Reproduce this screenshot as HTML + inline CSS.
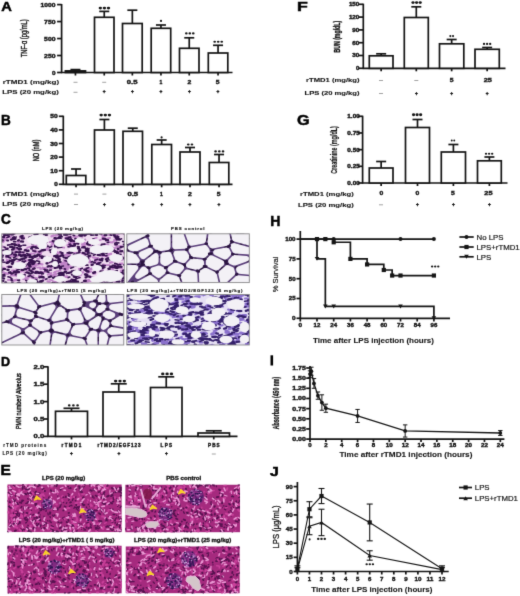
<!DOCTYPE html>
<html><head><meta charset="utf-8"><title>Figure</title>
<style>html,body{margin:0;padding:0;background:#fff;width:520px;height:596px;overflow:hidden}
svg{display:block;font-family:"Liberation Sans",sans-serif}</style></head>
<body><svg width="520" height="596" viewBox="0 0 520 596" font-family="&quot;Liberation Sans&quot;, sans-serif"><defs><filter id="cv" x="0" y="0" width="520" height="596" filterUnits="userSpaceOnUse" color-interpolation-filters="sRGB"><feConvolveMatrix order="3" kernelMatrix="0.0113 0.0838 0.0113 0.0838 0.6193 0.0838 0.0113 0.0838 0.0113" edgeMode="duplicate" preserveAlpha="true"/></filter><clipPath id="c1"><rect x="1.80" y="233.80" width="122.50" height="49.20"/></clipPath><clipPath id="c2"><rect x="126.80" y="233.80" width="122.50" height="48.80"/></clipPath><clipPath id="c3"><rect x="1.80" y="294.50" width="122.00" height="50.50"/></clipPath><clipPath id="c4"><rect x="126.80" y="294.50" width="122.50" height="50.50"/></clipPath><clipPath id="c5"><rect x="7.30" y="484.30" width="114.50" height="47.90"/></clipPath><clipPath id="c6"><rect x="125.20" y="484.50" width="114.80" height="47.90"/></clipPath><clipPath id="c7"><rect x="7.30" y="545.50" width="114.50" height="48.10"/></clipPath><clipPath id="c8"><rect x="125.50" y="546.30" width="114.30" height="47.10"/></clipPath></defs><g filter="url(#cv)"><rect width="520" height="596" fill="#ffffff"/><text x="6.60" y="10.70" font-size="13.472222222222221" font-weight="bold" text-anchor="middle" fill="#000" textLength="10.60" lengthAdjust="spacingAndGlyphs" stroke="#000" stroke-width="0.5" >A</text>
<line x1="61.60" y1="4.00" x2="61.60" y2="73.10" stroke="#151515" stroke-width="1.7"/>
<line x1="61.00" y1="72.50" x2="232.50" y2="72.50" stroke="#151515" stroke-width="1.7"/>
<line x1="57.10" y1="4.60" x2="61.60" y2="4.60" stroke="#151515" stroke-width="1.7"/>
<text x="48.10" y="6.62" font-size="5.6" font-weight="bold" text-anchor="middle" fill="#151515" textLength="15.00" lengthAdjust="spacingAndGlyphs" stroke="#151515" stroke-width="0.38" >1000</text>
<line x1="57.10" y1="21.57" x2="61.60" y2="21.57" stroke="#151515" stroke-width="1.7"/>
<text x="49.85" y="23.59" font-size="5.6" font-weight="bold" text-anchor="middle" fill="#151515" textLength="11.50" lengthAdjust="spacingAndGlyphs" stroke="#151515" stroke-width="0.38" >750</text>
<line x1="57.10" y1="38.55" x2="61.60" y2="38.55" stroke="#151515" stroke-width="1.7"/>
<text x="49.85" y="40.57" font-size="5.6" font-weight="bold" text-anchor="middle" fill="#151515" textLength="11.50" lengthAdjust="spacingAndGlyphs" stroke="#151515" stroke-width="0.38" >500</text>
<line x1="57.10" y1="55.52" x2="61.60" y2="55.52" stroke="#151515" stroke-width="1.7"/>
<text x="49.85" y="57.54" font-size="5.6" font-weight="bold" text-anchor="middle" fill="#151515" textLength="11.50" lengthAdjust="spacingAndGlyphs" stroke="#151515" stroke-width="0.38" >250</text>
<line x1="57.10" y1="72.50" x2="61.60" y2="72.50" stroke="#151515" stroke-width="1.7"/>
<text x="53.80" y="74.52" font-size="5.6" font-weight="bold" text-anchor="middle" fill="#151515" textLength="3.60" lengthAdjust="spacingAndGlyphs" stroke="#151515" stroke-width="0.38" >0</text>
<line x1="75.45" y1="70.90" x2="75.45" y2="69.60" stroke="#151515" stroke-width="1.7"/>
<line x1="70.45" y1="69.60" x2="80.45" y2="69.60" stroke="#151515" stroke-width="1.7"/>
<rect x="65.40" y="70.90" width="20.10" height="1.60" fill="#333" stroke="#151515" stroke-width="1.7"/>
<line x1="75.45" y1="72.50" x2="75.45" y2="75.50" stroke="#151515" stroke-width="1.7"/>
<line x1="104.25" y1="17.30" x2="104.25" y2="11.40" stroke="#151515" stroke-width="1.7"/>
<line x1="99.25" y1="11.40" x2="109.25" y2="11.40" stroke="#151515" stroke-width="1.7"/>
<rect x="94.50" y="17.30" width="19.50" height="55.20" fill="#fff" stroke="#151515" stroke-width="1.7"/>
<line x1="104.25" y1="72.50" x2="104.25" y2="75.50" stroke="#151515" stroke-width="1.7"/>
<line x1="132.35" y1="23.50" x2="132.35" y2="10.20" stroke="#151515" stroke-width="1.7"/>
<line x1="127.35" y1="10.20" x2="137.35" y2="10.20" stroke="#151515" stroke-width="1.7"/>
<rect x="122.50" y="23.50" width="19.70" height="49.00" fill="#fff" stroke="#151515" stroke-width="1.7"/>
<line x1="132.35" y1="72.50" x2="132.35" y2="75.50" stroke="#151515" stroke-width="1.7"/>
<line x1="160.95" y1="28.30" x2="160.95" y2="25.00" stroke="#151515" stroke-width="1.7"/>
<line x1="155.95" y1="25.00" x2="165.95" y2="25.00" stroke="#151515" stroke-width="1.7"/>
<rect x="151.20" y="28.30" width="19.50" height="44.20" fill="#fff" stroke="#151515" stroke-width="1.7"/>
<line x1="160.95" y1="72.50" x2="160.95" y2="75.50" stroke="#151515" stroke-width="1.7"/>
<line x1="189.25" y1="48.30" x2="189.25" y2="37.80" stroke="#151515" stroke-width="1.7"/>
<line x1="184.25" y1="37.80" x2="194.25" y2="37.80" stroke="#151515" stroke-width="1.7"/>
<rect x="179.50" y="48.30" width="19.50" height="24.20" fill="#fff" stroke="#151515" stroke-width="1.7"/>
<line x1="189.25" y1="72.50" x2="189.25" y2="75.50" stroke="#151515" stroke-width="1.7"/>
<line x1="218.05" y1="53.00" x2="218.05" y2="45.30" stroke="#151515" stroke-width="1.7"/>
<line x1="213.05" y1="45.30" x2="223.05" y2="45.30" stroke="#151515" stroke-width="1.7"/>
<rect x="208.30" y="53.00" width="19.50" height="19.50" fill="#fff" stroke="#151515" stroke-width="1.7"/>
<line x1="218.05" y1="72.50" x2="218.05" y2="75.50" stroke="#151515" stroke-width="1.7"/>
<ellipse cx="100.33" cy="8.10" rx="1.70" ry="1.45" fill="#151515"/>
<ellipse cx="104.40" cy="8.10" rx="1.70" ry="1.45" fill="#151515"/>
<ellipse cx="108.47" cy="8.10" rx="1.70" ry="1.45" fill="#151515"/>
<ellipse cx="161.00" cy="20.90" rx="1.06" ry="1.05" fill="#151515"/>
<ellipse cx="186.33" cy="33.40" rx="1.32" ry="1.05" fill="#151515"/>
<ellipse cx="189.80" cy="33.40" rx="1.32" ry="1.05" fill="#151515"/>
<ellipse cx="193.27" cy="33.40" rx="1.32" ry="1.05" fill="#151515"/>
<ellipse cx="214.67" cy="41.80" rx="1.34" ry="1.05" fill="#151515"/>
<ellipse cx="218.20" cy="41.80" rx="1.34" ry="1.05" fill="#151515"/>
<ellipse cx="221.73" cy="41.80" rx="1.34" ry="1.05" fill="#151515"/>
<text x="30.95" y="84.03" font-size="6.2" font-weight="bold" text-anchor="middle" fill="#151515" textLength="56.50" lengthAdjust="spacingAndGlyphs" stroke="#151515" stroke-width="0.12" >rTMD1 (mg/kg)</text>
<text x="30.55" y="94.03" font-size="6.2" font-weight="bold" text-anchor="middle" fill="#151515" textLength="56.50" lengthAdjust="spacingAndGlyphs" stroke="#151515" stroke-width="0.12" >LPS (20 mg/kg)</text>
<line x1="73.50" y1="82.30" x2="77.50" y2="82.30" stroke="#8a8a8a" stroke-width="0.8"/>
<line x1="102.20" y1="82.30" x2="106.20" y2="82.30" stroke="#8a8a8a" stroke-width="0.8"/>
<text x="132.20" y="83.82" font-size="5.6" font-weight="bold" text-anchor="middle" fill="#151515" textLength="10.80" lengthAdjust="spacingAndGlyphs" stroke="#151515" stroke-width="0.38" >0.5</text>
<text x="160.80" y="83.82" font-size="5.6" font-weight="bold" text-anchor="middle" fill="#151515" textLength="2.80" lengthAdjust="spacingAndGlyphs" stroke="#151515" stroke-width="0.38" >1</text>
<text x="189.40" y="83.82" font-size="5.6" font-weight="bold" text-anchor="middle" fill="#151515" textLength="3.80" lengthAdjust="spacingAndGlyphs" stroke="#151515" stroke-width="0.38" >2</text>
<text x="217.70" y="83.82" font-size="5.6" font-weight="bold" text-anchor="middle" fill="#151515" textLength="3.80" lengthAdjust="spacingAndGlyphs" stroke="#151515" stroke-width="0.38" >5</text>
<line x1="73.50" y1="92.30" x2="77.50" y2="92.30" stroke="#8a8a8a" stroke-width="0.8"/>
<text x="104.20" y="93.33" font-size="4.8" font-weight="bold" text-anchor="middle" fill="#151515" stroke="#151515" stroke-width="0.38" >+</text>
<text x="132.40" y="93.33" font-size="4.8" font-weight="bold" text-anchor="middle" fill="#151515" stroke="#151515" stroke-width="0.38" >+</text>
<text x="161.00" y="93.33" font-size="4.8" font-weight="bold" text-anchor="middle" fill="#151515" stroke="#151515" stroke-width="0.38" >+</text>
<text x="189.30" y="93.33" font-size="4.8" font-weight="bold" text-anchor="middle" fill="#151515" stroke="#151515" stroke-width="0.38" >+</text>
<text x="218.00" y="93.33" font-size="4.8" font-weight="bold" text-anchor="middle" fill="#151515" stroke="#151515" stroke-width="0.38" >+</text>
<text x="23.60" y="41.54" font-size="9" font-weight="normal" text-anchor="middle" fill="#151515" textLength="37.80" lengthAdjust="spacingAndGlyphs" stroke="#151515" stroke-width="0.4" transform="rotate(-90 23.60 38.30)">TNF-α (pg/mL)</text>
<text x="5.90" y="125.00" font-size="13.88888888888889" font-weight="bold" text-anchor="middle" fill="#000" textLength="9.80" lengthAdjust="spacingAndGlyphs" stroke="#000" stroke-width="0.5" >B</text>
<line x1="63.30" y1="115.70" x2="63.30" y2="184.90" stroke="#151515" stroke-width="1.7"/>
<line x1="62.70" y1="184.30" x2="232.50" y2="184.30" stroke="#151515" stroke-width="1.7"/>
<line x1="58.80" y1="116.30" x2="63.30" y2="116.30" stroke="#151515" stroke-width="1.7"/>
<text x="54.05" y="118.32" font-size="5.6" font-weight="bold" text-anchor="middle" fill="#151515" textLength="7.50" lengthAdjust="spacingAndGlyphs" stroke="#151515" stroke-width="0.38" >50</text>
<line x1="58.80" y1="129.90" x2="63.30" y2="129.90" stroke="#151515" stroke-width="1.7"/>
<text x="54.05" y="131.92" font-size="5.6" font-weight="bold" text-anchor="middle" fill="#151515" textLength="7.50" lengthAdjust="spacingAndGlyphs" stroke="#151515" stroke-width="0.38" >40</text>
<line x1="58.80" y1="143.50" x2="63.30" y2="143.50" stroke="#151515" stroke-width="1.7"/>
<text x="54.05" y="145.52" font-size="5.6" font-weight="bold" text-anchor="middle" fill="#151515" textLength="7.50" lengthAdjust="spacingAndGlyphs" stroke="#151515" stroke-width="0.38" >30</text>
<line x1="58.80" y1="157.10" x2="63.30" y2="157.10" stroke="#151515" stroke-width="1.7"/>
<text x="54.05" y="159.12" font-size="5.6" font-weight="bold" text-anchor="middle" fill="#151515" textLength="7.50" lengthAdjust="spacingAndGlyphs" stroke="#151515" stroke-width="0.38" >20</text>
<line x1="58.80" y1="170.70" x2="63.30" y2="170.70" stroke="#151515" stroke-width="1.7"/>
<text x="54.05" y="172.72" font-size="5.6" font-weight="bold" text-anchor="middle" fill="#151515" textLength="7.50" lengthAdjust="spacingAndGlyphs" stroke="#151515" stroke-width="0.38" >10</text>
<line x1="58.80" y1="184.30" x2="63.30" y2="184.30" stroke="#151515" stroke-width="1.7"/>
<text x="56.00" y="186.32" font-size="5.6" font-weight="bold" text-anchor="middle" fill="#151515" textLength="3.60" lengthAdjust="spacingAndGlyphs" stroke="#151515" stroke-width="0.38" >0</text>
<line x1="76.05" y1="175.50" x2="76.05" y2="169.00" stroke="#151515" stroke-width="1.7"/>
<line x1="71.05" y1="169.00" x2="81.05" y2="169.00" stroke="#151515" stroke-width="1.7"/>
<rect x="66.30" y="175.50" width="19.50" height="8.80" fill="#fff" stroke="#151515" stroke-width="1.7"/>
<line x1="76.05" y1="184.30" x2="76.05" y2="187.30" stroke="#151515" stroke-width="1.7"/>
<line x1="104.40" y1="130.00" x2="104.40" y2="119.50" stroke="#151515" stroke-width="1.7"/>
<line x1="99.40" y1="119.50" x2="109.40" y2="119.50" stroke="#151515" stroke-width="1.7"/>
<rect x="94.50" y="130.00" width="19.80" height="54.30" fill="#fff" stroke="#151515" stroke-width="1.7"/>
<line x1="104.40" y1="184.30" x2="104.40" y2="187.30" stroke="#151515" stroke-width="1.7"/>
<line x1="132.75" y1="131.30" x2="132.75" y2="128.20" stroke="#151515" stroke-width="1.7"/>
<line x1="127.75" y1="128.20" x2="137.75" y2="128.20" stroke="#151515" stroke-width="1.7"/>
<rect x="123.00" y="131.30" width="19.50" height="53.00" fill="#fff" stroke="#151515" stroke-width="1.7"/>
<line x1="132.75" y1="184.30" x2="132.75" y2="187.30" stroke="#151515" stroke-width="1.7"/>
<line x1="161.65" y1="144.50" x2="161.65" y2="140.00" stroke="#151515" stroke-width="1.7"/>
<line x1="156.65" y1="140.00" x2="166.65" y2="140.00" stroke="#151515" stroke-width="1.7"/>
<rect x="151.80" y="144.50" width="19.70" height="39.80" fill="#fff" stroke="#151515" stroke-width="1.7"/>
<line x1="161.65" y1="184.30" x2="161.65" y2="187.30" stroke="#151515" stroke-width="1.7"/>
<line x1="190.00" y1="152.00" x2="190.00" y2="147.50" stroke="#151515" stroke-width="1.7"/>
<line x1="185.00" y1="147.50" x2="195.00" y2="147.50" stroke="#151515" stroke-width="1.7"/>
<rect x="180.00" y="152.00" width="20.00" height="32.30" fill="#fff" stroke="#151515" stroke-width="1.7"/>
<line x1="190.00" y1="184.30" x2="190.00" y2="187.30" stroke="#151515" stroke-width="1.7"/>
<line x1="219.05" y1="162.50" x2="219.05" y2="154.50" stroke="#151515" stroke-width="1.7"/>
<line x1="214.05" y1="154.50" x2="224.05" y2="154.50" stroke="#151515" stroke-width="1.7"/>
<rect x="209.30" y="162.50" width="19.50" height="21.80" fill="#fff" stroke="#151515" stroke-width="1.7"/>
<line x1="219.05" y1="184.30" x2="219.05" y2="187.30" stroke="#151515" stroke-width="1.7"/>
<ellipse cx="101.17" cy="115.10" rx="1.70" ry="1.45" fill="#151515"/>
<ellipse cx="105.30" cy="115.10" rx="1.70" ry="1.45" fill="#151515"/>
<ellipse cx="109.43" cy="115.10" rx="1.70" ry="1.45" fill="#151515"/>
<ellipse cx="161.60" cy="137.40" rx="1.06" ry="1.05" fill="#151515"/>
<ellipse cx="188.25" cy="144.50" rx="1.35" ry="1.05" fill="#151515"/>
<ellipse cx="191.95" cy="144.50" rx="1.35" ry="1.05" fill="#151515"/>
<ellipse cx="215.57" cy="151.40" rx="1.35" ry="1.05" fill="#151515"/>
<ellipse cx="219.30" cy="151.40" rx="1.35" ry="1.05" fill="#151515"/>
<ellipse cx="223.03" cy="151.40" rx="1.35" ry="1.05" fill="#151515"/>
<text x="30.95" y="195.83" font-size="6.2" font-weight="bold" text-anchor="middle" fill="#151515" textLength="56.50" lengthAdjust="spacingAndGlyphs" stroke="#151515" stroke-width="0.12" >rTMD1 (mg/kg)</text>
<text x="30.55" y="206.23" font-size="6.2" font-weight="bold" text-anchor="middle" fill="#151515" textLength="56.50" lengthAdjust="spacingAndGlyphs" stroke="#151515" stroke-width="0.12" >LPS (20 mg/kg)</text>
<line x1="74.00" y1="194.10" x2="78.00" y2="194.10" stroke="#8a8a8a" stroke-width="0.8"/>
<line x1="102.40" y1="194.10" x2="106.40" y2="194.10" stroke="#8a8a8a" stroke-width="0.8"/>
<text x="132.80" y="195.62" font-size="5.6" font-weight="bold" text-anchor="middle" fill="#151515" textLength="10.80" lengthAdjust="spacingAndGlyphs" stroke="#151515" stroke-width="0.38" >0.5</text>
<text x="161.40" y="195.62" font-size="5.6" font-weight="bold" text-anchor="middle" fill="#151515" textLength="2.80" lengthAdjust="spacingAndGlyphs" stroke="#151515" stroke-width="0.38" >1</text>
<text x="190.00" y="195.62" font-size="5.6" font-weight="bold" text-anchor="middle" fill="#151515" textLength="3.80" lengthAdjust="spacingAndGlyphs" stroke="#151515" stroke-width="0.38" >2</text>
<text x="218.60" y="195.62" font-size="5.6" font-weight="bold" text-anchor="middle" fill="#151515" textLength="3.80" lengthAdjust="spacingAndGlyphs" stroke="#151515" stroke-width="0.38" >5</text>
<line x1="74.00" y1="204.50" x2="78.00" y2="204.50" stroke="#8a8a8a" stroke-width="0.8"/>
<text x="104.40" y="205.53" font-size="4.8" font-weight="bold" text-anchor="middle" fill="#151515" stroke="#151515" stroke-width="0.38" >+</text>
<text x="132.80" y="205.53" font-size="4.8" font-weight="bold" text-anchor="middle" fill="#151515" stroke="#151515" stroke-width="0.38" >+</text>
<text x="161.60" y="205.53" font-size="4.8" font-weight="bold" text-anchor="middle" fill="#151515" stroke="#151515" stroke-width="0.38" >+</text>
<text x="190.00" y="205.53" font-size="4.8" font-weight="bold" text-anchor="middle" fill="#151515" stroke="#151515" stroke-width="0.38" >+</text>
<text x="219.00" y="205.53" font-size="4.8" font-weight="bold" text-anchor="middle" fill="#151515" stroke="#151515" stroke-width="0.38" >+</text>
<text x="35.40" y="153.74" font-size="9" font-weight="normal" text-anchor="middle" fill="#151515" textLength="21.70" lengthAdjust="spacingAndGlyphs" stroke="#151515" stroke-width="0.45" transform="rotate(-90 35.40 150.50)">NO (nM)</text>
<text x="302.40" y="11.00" font-size="12.5" font-weight="bold" text-anchor="middle" fill="#000" textLength="10.80" lengthAdjust="spacingAndGlyphs" stroke="#000" stroke-width="0.5" >F</text>
<line x1="363.30" y1="3.70" x2="363.30" y2="68.90" stroke="#151515" stroke-width="1.7"/>
<line x1="362.70" y1="68.30" x2="505.50" y2="68.30" stroke="#151515" stroke-width="1.7"/>
<line x1="358.80" y1="4.30" x2="363.30" y2="4.30" stroke="#151515" stroke-width="1.7"/>
<text x="354.10" y="6.17" font-size="5.2" font-weight="bold" text-anchor="middle" fill="#151515" textLength="10.40" lengthAdjust="spacingAndGlyphs" stroke="#151515" stroke-width="0.38" >150</text>
<line x1="358.80" y1="17.10" x2="363.30" y2="17.10" stroke="#151515" stroke-width="1.7"/>
<text x="354.10" y="18.97" font-size="5.2" font-weight="bold" text-anchor="middle" fill="#151515" textLength="10.40" lengthAdjust="spacingAndGlyphs" stroke="#151515" stroke-width="0.38" >120</text>
<line x1="358.80" y1="29.90" x2="363.30" y2="29.90" stroke="#151515" stroke-width="1.7"/>
<text x="355.80" y="31.77" font-size="5.2" font-weight="bold" text-anchor="middle" fill="#151515" textLength="7.00" lengthAdjust="spacingAndGlyphs" stroke="#151515" stroke-width="0.38" >90</text>
<line x1="358.80" y1="42.70" x2="363.30" y2="42.70" stroke="#151515" stroke-width="1.7"/>
<text x="355.80" y="44.57" font-size="5.2" font-weight="bold" text-anchor="middle" fill="#151515" textLength="7.00" lengthAdjust="spacingAndGlyphs" stroke="#151515" stroke-width="0.38" >60</text>
<line x1="358.80" y1="55.50" x2="363.30" y2="55.50" stroke="#151515" stroke-width="1.7"/>
<text x="355.80" y="57.37" font-size="5.2" font-weight="bold" text-anchor="middle" fill="#151515" textLength="7.00" lengthAdjust="spacingAndGlyphs" stroke="#151515" stroke-width="0.38" >30</text>
<line x1="358.80" y1="68.30" x2="363.30" y2="68.30" stroke="#151515" stroke-width="1.7"/>
<text x="357.60" y="70.17" font-size="5.2" font-weight="bold" text-anchor="middle" fill="#151515" textLength="3.40" lengthAdjust="spacingAndGlyphs" stroke="#151515" stroke-width="0.38" >0</text>
<line x1="381.15" y1="55.80" x2="381.15" y2="53.80" stroke="#151515" stroke-width="1.7"/>
<line x1="376.15" y1="53.80" x2="386.15" y2="53.80" stroke="#151515" stroke-width="1.7"/>
<rect x="369.30" y="55.80" width="23.70" height="12.50" fill="#fff" stroke="#151515" stroke-width="1.7"/>
<line x1="381.15" y1="68.30" x2="381.15" y2="71.30" stroke="#151515" stroke-width="1.7"/>
<line x1="416.30" y1="17.50" x2="416.30" y2="6.80" stroke="#151515" stroke-width="1.7"/>
<line x1="411.30" y1="6.80" x2="421.30" y2="6.80" stroke="#151515" stroke-width="1.7"/>
<rect x="404.30" y="17.50" width="24.00" height="50.80" fill="#fff" stroke="#151515" stroke-width="1.7"/>
<line x1="416.30" y1="68.30" x2="416.30" y2="71.30" stroke="#151515" stroke-width="1.7"/>
<line x1="451.65" y1="43.80" x2="451.65" y2="39.50" stroke="#151515" stroke-width="1.7"/>
<line x1="446.65" y1="39.50" x2="456.65" y2="39.50" stroke="#151515" stroke-width="1.7"/>
<rect x="439.50" y="43.80" width="24.30" height="24.50" fill="#fff" stroke="#151515" stroke-width="1.7"/>
<line x1="451.65" y1="68.30" x2="451.65" y2="71.30" stroke="#151515" stroke-width="1.7"/>
<line x1="487.15" y1="49.30" x2="487.15" y2="47.50" stroke="#151515" stroke-width="1.7"/>
<line x1="482.15" y1="47.50" x2="492.15" y2="47.50" stroke="#151515" stroke-width="1.7"/>
<rect x="475.00" y="49.30" width="24.30" height="19.00" fill="#fff" stroke="#151515" stroke-width="1.7"/>
<line x1="487.15" y1="68.30" x2="487.15" y2="71.30" stroke="#151515" stroke-width="1.7"/>
<ellipse cx="413.00" cy="2.60" rx="1.62" ry="1.45" fill="#151515"/>
<ellipse cx="416.60" cy="2.60" rx="1.62" ry="1.45" fill="#151515"/>
<ellipse cx="420.20" cy="2.60" rx="1.62" ry="1.45" fill="#151515"/>
<ellipse cx="450.35" cy="36.10" rx="1.03" ry="1.05" fill="#151515"/>
<ellipse cx="453.05" cy="36.10" rx="1.03" ry="1.05" fill="#151515"/>
<ellipse cx="484.03" cy="43.90" rx="1.17" ry="1.05" fill="#151515"/>
<ellipse cx="487.10" cy="43.90" rx="1.17" ry="1.05" fill="#151515"/>
<ellipse cx="490.17" cy="43.90" rx="1.17" ry="1.05" fill="#151515"/>
<text x="332.75" y="82.23" font-size="6.2" font-weight="bold" text-anchor="middle" fill="#151515" textLength="53.50" lengthAdjust="spacingAndGlyphs" stroke="#151515" stroke-width="0.12" >rTMD1 (mg/kg)</text>
<text x="332.00" y="95.23" font-size="6.2" font-weight="bold" text-anchor="middle" fill="#151515" textLength="55.00" lengthAdjust="spacingAndGlyphs" stroke="#151515" stroke-width="0.12" >LPS (20 mg/kg)</text>
<line x1="379.00" y1="80.50" x2="383.00" y2="80.50" stroke="#8a8a8a" stroke-width="0.8"/>
<line x1="414.30" y1="80.50" x2="418.30" y2="80.50" stroke="#8a8a8a" stroke-width="0.8"/>
<text x="451.70" y="82.02" font-size="5.6" font-weight="bold" text-anchor="middle" fill="#151515" textLength="3.80" lengthAdjust="spacingAndGlyphs" stroke="#151515" stroke-width="0.38" >5</text>
<text x="487.80" y="82.02" font-size="5.6" font-weight="bold" text-anchor="middle" fill="#151515" textLength="8.20" lengthAdjust="spacingAndGlyphs" stroke="#151515" stroke-width="0.38" >25</text>
<line x1="379.00" y1="93.50" x2="383.00" y2="93.50" stroke="#8a8a8a" stroke-width="0.8"/>
<text x="416.30" y="94.53" font-size="4.8" font-weight="bold" text-anchor="middle" fill="#151515" stroke="#151515" stroke-width="0.38" >+</text>
<text x="451.70" y="94.53" font-size="4.8" font-weight="bold" text-anchor="middle" fill="#151515" stroke="#151515" stroke-width="0.38" >+</text>
<text x="487.10" y="94.53" font-size="4.8" font-weight="bold" text-anchor="middle" fill="#151515" stroke="#151515" stroke-width="0.38" >+</text>
<text x="336.90" y="39.72" font-size="8.4" font-weight="bold" text-anchor="middle" fill="#151515" textLength="31.70" lengthAdjust="spacingAndGlyphs" stroke="#151515" stroke-width="0.4" transform="rotate(-90 336.90 36.70)">BUN (mg/dL)</text>
<text x="303.30" y="125.00" font-size="14.861111111111116" font-weight="bold" text-anchor="middle" fill="#000" textLength="12.60" lengthAdjust="spacingAndGlyphs" stroke="#000" stroke-width="0.5" >G</text>
<line x1="362.60" y1="115.70" x2="362.60" y2="183.60" stroke="#151515" stroke-width="1.7"/>
<line x1="362.00" y1="183.00" x2="507.50" y2="183.00" stroke="#151515" stroke-width="1.7"/>
<line x1="358.10" y1="116.30" x2="362.60" y2="116.30" stroke="#151515" stroke-width="1.7"/>
<text x="353.55" y="118.17" font-size="5.2" font-weight="bold" text-anchor="middle" fill="#151515" textLength="12.50" lengthAdjust="spacingAndGlyphs" stroke="#151515" stroke-width="0.38" >1.00</text>
<line x1="358.10" y1="132.97" x2="362.60" y2="132.97" stroke="#151515" stroke-width="1.7"/>
<text x="353.55" y="134.85" font-size="5.2" font-weight="bold" text-anchor="middle" fill="#151515" textLength="12.50" lengthAdjust="spacingAndGlyphs" stroke="#151515" stroke-width="0.38" >0.75</text>
<line x1="358.10" y1="149.65" x2="362.60" y2="149.65" stroke="#151515" stroke-width="1.7"/>
<text x="353.55" y="151.52" font-size="5.2" font-weight="bold" text-anchor="middle" fill="#151515" textLength="12.50" lengthAdjust="spacingAndGlyphs" stroke="#151515" stroke-width="0.38" >0.50</text>
<line x1="358.10" y1="166.32" x2="362.60" y2="166.32" stroke="#151515" stroke-width="1.7"/>
<text x="353.55" y="168.20" font-size="5.2" font-weight="bold" text-anchor="middle" fill="#151515" textLength="12.50" lengthAdjust="spacingAndGlyphs" stroke="#151515" stroke-width="0.38" >0.25</text>
<line x1="358.10" y1="183.00" x2="362.60" y2="183.00" stroke="#151515" stroke-width="1.7"/>
<text x="353.55" y="184.87" font-size="5.2" font-weight="bold" text-anchor="middle" fill="#151515" textLength="12.50" lengthAdjust="spacingAndGlyphs" stroke="#151515" stroke-width="0.38" >0.00</text>
<line x1="381.15" y1="168.00" x2="381.15" y2="161.50" stroke="#151515" stroke-width="1.7"/>
<line x1="376.15" y1="161.50" x2="386.15" y2="161.50" stroke="#151515" stroke-width="1.7"/>
<rect x="369.30" y="168.00" width="23.70" height="15.00" fill="#fff" stroke="#151515" stroke-width="1.7"/>
<line x1="381.15" y1="183.00" x2="381.15" y2="186.00" stroke="#151515" stroke-width="1.7"/>
<line x1="417.50" y1="127.50" x2="417.50" y2="119.50" stroke="#151515" stroke-width="1.7"/>
<line x1="412.50" y1="119.50" x2="422.50" y2="119.50" stroke="#151515" stroke-width="1.7"/>
<rect x="405.50" y="127.50" width="24.00" height="55.50" fill="#fff" stroke="#151515" stroke-width="1.7"/>
<line x1="417.50" y1="183.00" x2="417.50" y2="186.00" stroke="#151515" stroke-width="1.7"/>
<line x1="453.40" y1="152.00" x2="453.40" y2="144.50" stroke="#151515" stroke-width="1.7"/>
<line x1="448.40" y1="144.50" x2="458.40" y2="144.50" stroke="#151515" stroke-width="1.7"/>
<rect x="441.30" y="152.00" width="24.20" height="31.00" fill="#fff" stroke="#151515" stroke-width="1.7"/>
<line x1="453.40" y1="183.00" x2="453.40" y2="186.00" stroke="#151515" stroke-width="1.7"/>
<line x1="489.40" y1="160.80" x2="489.40" y2="157.00" stroke="#151515" stroke-width="1.7"/>
<line x1="484.40" y1="157.00" x2="494.40" y2="157.00" stroke="#151515" stroke-width="1.7"/>
<rect x="477.50" y="160.80" width="23.80" height="22.20" fill="#fff" stroke="#151515" stroke-width="1.7"/>
<line x1="489.40" y1="183.00" x2="489.40" y2="186.00" stroke="#151515" stroke-width="1.7"/>
<ellipse cx="413.57" cy="114.70" rx="1.59" ry="1.45" fill="#151515"/>
<ellipse cx="417.10" cy="114.70" rx="1.59" ry="1.45" fill="#151515"/>
<ellipse cx="420.63" cy="114.70" rx="1.59" ry="1.45" fill="#151515"/>
<ellipse cx="451.75" cy="140.50" rx="0.95" ry="1.05" fill="#151515"/>
<ellipse cx="454.25" cy="140.50" rx="0.95" ry="1.05" fill="#151515"/>
<ellipse cx="486.03" cy="153.80" rx="1.17" ry="1.05" fill="#151515"/>
<ellipse cx="489.10" cy="153.80" rx="1.17" ry="1.05" fill="#151515"/>
<ellipse cx="492.17" cy="153.80" rx="1.17" ry="1.05" fill="#151515"/>
<text x="326.90" y="195.53" font-size="6.2" font-weight="bold" text-anchor="middle" fill="#151515" textLength="53.80" lengthAdjust="spacingAndGlyphs" stroke="#151515" stroke-width="0.12" >rTMD1 (mg/kg)</text>
<text x="325.90" y="206.53" font-size="6.2" font-weight="bold" text-anchor="middle" fill="#151515" textLength="55.80" lengthAdjust="spacingAndGlyphs" stroke="#151515" stroke-width="0.12" >LPS (20 mg/kg)</text>
<text x="381.50" y="195.32" font-size="5.6" font-weight="bold" text-anchor="middle" fill="#151515" textLength="3.80" lengthAdjust="spacingAndGlyphs" stroke="#151515" stroke-width="0.38" >0</text>
<text x="417.50" y="195.32" font-size="5.6" font-weight="bold" text-anchor="middle" fill="#151515" textLength="3.80" lengthAdjust="spacingAndGlyphs" stroke="#151515" stroke-width="0.38" >0</text>
<text x="452.80" y="195.32" font-size="5.6" font-weight="bold" text-anchor="middle" fill="#151515" textLength="3.80" lengthAdjust="spacingAndGlyphs" stroke="#151515" stroke-width="0.38" >5</text>
<text x="488.40" y="195.32" font-size="5.6" font-weight="bold" text-anchor="middle" fill="#151515" textLength="8.20" lengthAdjust="spacingAndGlyphs" stroke="#151515" stroke-width="0.38" >25</text>
<line x1="379.00" y1="204.80" x2="383.00" y2="204.80" stroke="#8a8a8a" stroke-width="0.8"/>
<text x="417.50" y="205.83" font-size="4.8" font-weight="bold" text-anchor="middle" fill="#151515" stroke="#151515" stroke-width="0.38" >+</text>
<text x="453.40" y="205.83" font-size="4.8" font-weight="bold" text-anchor="middle" fill="#151515" stroke="#151515" stroke-width="0.38" >+</text>
<text x="489.40" y="205.83" font-size="4.8" font-weight="bold" text-anchor="middle" fill="#151515" stroke="#151515" stroke-width="0.38" >+</text>
<text x="333.40" y="153.24" font-size="9" font-weight="bold" text-anchor="middle" fill="#151515" textLength="47.50" lengthAdjust="spacingAndGlyphs" stroke="#151515" stroke-width="0.2" transform="rotate(-90 333.40 150.00)">Creatinine (mg/dL)</text>
<text x="5.45" y="365.70" font-size="12.777777777777763" font-weight="bold" text-anchor="middle" fill="#000" textLength="9.10" lengthAdjust="spacingAndGlyphs" stroke="#000" stroke-width="0.5" >D</text>
<line x1="48.00" y1="366.20" x2="48.00" y2="437.00" stroke="#151515" stroke-width="1.7"/>
<line x1="47.40" y1="436.40" x2="237.50" y2="436.40" stroke="#151515" stroke-width="1.7"/>
<line x1="43.50" y1="366.80" x2="48.00" y2="366.80" stroke="#151515" stroke-width="1.7"/>
<text x="38.90" y="368.82" font-size="5.6" font-weight="bold" text-anchor="middle" fill="#151515" textLength="10.80" lengthAdjust="spacingAndGlyphs" stroke="#151515" stroke-width="0.38" >2.0</text>
<line x1="43.50" y1="384.20" x2="48.00" y2="384.20" stroke="#151515" stroke-width="1.7"/>
<text x="38.90" y="386.22" font-size="5.6" font-weight="bold" text-anchor="middle" fill="#151515" textLength="10.80" lengthAdjust="spacingAndGlyphs" stroke="#151515" stroke-width="0.38" >1.5</text>
<line x1="43.50" y1="401.60" x2="48.00" y2="401.60" stroke="#151515" stroke-width="1.7"/>
<text x="38.90" y="403.62" font-size="5.6" font-weight="bold" text-anchor="middle" fill="#151515" textLength="10.80" lengthAdjust="spacingAndGlyphs" stroke="#151515" stroke-width="0.38" >1.0</text>
<line x1="43.50" y1="419.00" x2="48.00" y2="419.00" stroke="#151515" stroke-width="1.7"/>
<text x="38.90" y="421.02" font-size="5.6" font-weight="bold" text-anchor="middle" fill="#151515" textLength="10.80" lengthAdjust="spacingAndGlyphs" stroke="#151515" stroke-width="0.38" >0.5</text>
<line x1="43.50" y1="436.40" x2="48.00" y2="436.40" stroke="#151515" stroke-width="1.7"/>
<text x="38.90" y="438.42" font-size="5.6" font-weight="bold" text-anchor="middle" fill="#151515" textLength="10.80" lengthAdjust="spacingAndGlyphs" stroke="#151515" stroke-width="0.38" >0.0</text>
<line x1="71.50" y1="411.30" x2="71.50" y2="408.30" stroke="#151515" stroke-width="1.7"/>
<line x1="63.50" y1="408.30" x2="79.50" y2="408.30" stroke="#151515" stroke-width="1.7"/>
<rect x="55.50" y="411.30" width="32.00" height="25.10" fill="#fff" stroke="#151515" stroke-width="1.7"/>
<line x1="71.50" y1="436.40" x2="71.50" y2="439.40" stroke="#151515" stroke-width="1.7"/>
<line x1="118.75" y1="392.00" x2="118.75" y2="383.80" stroke="#151515" stroke-width="1.7"/>
<line x1="110.75" y1="383.80" x2="126.75" y2="383.80" stroke="#151515" stroke-width="1.7"/>
<rect x="103.00" y="392.00" width="31.50" height="44.40" fill="#fff" stroke="#151515" stroke-width="1.7"/>
<line x1="118.75" y1="436.40" x2="118.75" y2="439.40" stroke="#151515" stroke-width="1.7"/>
<line x1="166.25" y1="387.50" x2="166.25" y2="376.80" stroke="#151515" stroke-width="1.7"/>
<line x1="158.25" y1="376.80" x2="174.25" y2="376.80" stroke="#151515" stroke-width="1.7"/>
<rect x="150.50" y="387.50" width="31.50" height="48.90" fill="#fff" stroke="#151515" stroke-width="1.7"/>
<line x1="166.25" y1="436.40" x2="166.25" y2="439.40" stroke="#151515" stroke-width="1.7"/>
<line x1="213.75" y1="433.00" x2="213.75" y2="430.80" stroke="#151515" stroke-width="1.7"/>
<line x1="205.75" y1="430.80" x2="221.75" y2="430.80" stroke="#151515" stroke-width="1.7"/>
<rect x="198.00" y="433.00" width="31.50" height="3.40" fill="#fff" stroke="#151515" stroke-width="1.7"/>
<line x1="213.75" y1="436.40" x2="213.75" y2="439.40" stroke="#151515" stroke-width="1.7"/>
<ellipse cx="69.23" cy="405.40" rx="1.35" ry="1.05" fill="#151515"/>
<ellipse cx="73.40" cy="405.40" rx="1.35" ry="1.05" fill="#151515"/>
<ellipse cx="77.57" cy="405.40" rx="1.35" ry="1.05" fill="#151515"/>
<ellipse cx="115.67" cy="381.10" rx="1.70" ry="1.45" fill="#151515"/>
<ellipse cx="120.00" cy="381.10" rx="1.70" ry="1.45" fill="#151515"/>
<ellipse cx="124.33" cy="381.10" rx="1.70" ry="1.45" fill="#151515"/>
<ellipse cx="162.77" cy="373.90" rx="1.70" ry="1.45" fill="#151515"/>
<ellipse cx="167.10" cy="373.90" rx="1.70" ry="1.45" fill="#151515"/>
<ellipse cx="171.43" cy="373.90" rx="1.70" ry="1.45" fill="#151515"/>
<text x="24.75" y="446.56" font-size="4.6" font-weight="bold" text-anchor="middle" fill="#151515" textLength="42.90" lengthAdjust="spacing" stroke="#151515" stroke-width="0.12" >rTMD proteins</text>
<text x="24.60" y="455.16" font-size="4.6" font-weight="bold" text-anchor="middle" fill="#151515" textLength="44.40" lengthAdjust="spacing" stroke="#151515" stroke-width="0.12" >LPS (20 mg/kg)</text>
<text x="71.50" y="455.03" font-size="4.8" font-weight="bold" text-anchor="middle" fill="#151515" stroke="#151515" stroke-width="0.38" >+</text>
<text x="118.80" y="455.03" font-size="4.8" font-weight="bold" text-anchor="middle" fill="#151515" stroke="#151515" stroke-width="0.38" >+</text>
<text x="166.30" y="455.03" font-size="4.8" font-weight="bold" text-anchor="middle" fill="#151515" stroke="#151515" stroke-width="0.38" >+</text>
<line x1="211.80" y1="454.00" x2="215.80" y2="454.00" stroke="#8a8a8a" stroke-width="0.8"/>
<text x="71.40" y="446.56" font-size="4.6" font-weight="bold" text-anchor="middle" fill="#151515" textLength="19.60" lengthAdjust="spacing" stroke="#151515" stroke-width="0.38" >rTMD1</text>
<text x="119.00" y="446.56" font-size="4.6" font-weight="bold" text-anchor="middle" fill="#151515" textLength="43.00" lengthAdjust="spacing" stroke="#151515" stroke-width="0.38" >rTMD2/EGF123</text>
<text x="166.30" y="446.56" font-size="4.6" font-weight="bold" text-anchor="middle" fill="#151515" textLength="11.40" lengthAdjust="spacing" stroke="#151515" stroke-width="0.38" >LPS</text>
<text x="213.80" y="446.56" font-size="4.6" font-weight="bold" text-anchor="middle" fill="#151515" textLength="11.60" lengthAdjust="spacing" stroke="#151515" stroke-width="0.38" >PBS</text>
<text x="18.40" y="404.01" font-size="7.8" font-weight="normal" text-anchor="middle" fill="#151515" textLength="55.80" lengthAdjust="spacingAndGlyphs" stroke="#151515" stroke-width="0.45" transform="rotate(-90 18.40 401.20)">PMN number/ Alveolus</text>
<text x="275.30" y="225.80" font-size="15.000000000000016" font-weight="bold" text-anchor="middle" fill="#000" textLength="10.20" lengthAdjust="spacingAndGlyphs" stroke="#000" stroke-width="0.5" >H</text>
<line x1="300.30" y1="231.00" x2="300.30" y2="318.90" stroke="#151515" stroke-width="1.7"/>
<line x1="299.70" y1="318.30" x2="450.00" y2="318.30" stroke="#151515" stroke-width="1.7"/>
<line x1="296.50" y1="239.10" x2="300.30" y2="239.10" stroke="#151515" stroke-width="1.7"/>
<text x="290.40" y="241.04" font-size="5.4" font-weight="bold" text-anchor="middle" fill="#151515" textLength="10.40" lengthAdjust="spacingAndGlyphs" stroke="#151515" stroke-width="0.38" >100</text>
<line x1="296.50" y1="258.90" x2="300.30" y2="258.90" stroke="#151515" stroke-width="1.7"/>
<text x="292.20" y="260.84" font-size="5.4" font-weight="bold" text-anchor="middle" fill="#151515" textLength="6.80" lengthAdjust="spacingAndGlyphs" stroke="#151515" stroke-width="0.38" >75</text>
<line x1="296.50" y1="278.70" x2="300.30" y2="278.70" stroke="#151515" stroke-width="1.7"/>
<text x="292.20" y="280.64" font-size="5.4" font-weight="bold" text-anchor="middle" fill="#151515" textLength="6.80" lengthAdjust="spacingAndGlyphs" stroke="#151515" stroke-width="0.38" >50</text>
<line x1="296.50" y1="298.50" x2="300.30" y2="298.50" stroke="#151515" stroke-width="1.7"/>
<text x="292.20" y="300.44" font-size="5.4" font-weight="bold" text-anchor="middle" fill="#151515" textLength="6.80" lengthAdjust="spacingAndGlyphs" stroke="#151515" stroke-width="0.38" >25</text>
<line x1="296.50" y1="318.30" x2="300.30" y2="318.30" stroke="#151515" stroke-width="1.7"/>
<text x="293.80" y="320.24" font-size="5.4" font-weight="bold" text-anchor="middle" fill="#151515" textLength="3.60" lengthAdjust="spacingAndGlyphs" stroke="#151515" stroke-width="0.38" >0</text>
<line x1="300.30" y1="318.30" x2="300.30" y2="321.50" stroke="#151515" stroke-width="1.7"/>
<text x="300.30" y="327.32" font-size="5.6" font-weight="bold" text-anchor="middle" fill="#151515" textLength="3.60" lengthAdjust="spacingAndGlyphs" stroke="#151515" stroke-width="0.38" >0</text>
<line x1="317.00" y1="318.30" x2="317.00" y2="321.50" stroke="#151515" stroke-width="1.7"/>
<text x="317.00" y="327.32" font-size="5.6" font-weight="bold" text-anchor="middle" fill="#151515" textLength="6.80" lengthAdjust="spacingAndGlyphs" stroke="#151515" stroke-width="0.38" >12</text>
<line x1="333.70" y1="318.30" x2="333.70" y2="321.50" stroke="#151515" stroke-width="1.7"/>
<text x="333.70" y="327.32" font-size="5.6" font-weight="bold" text-anchor="middle" fill="#151515" textLength="6.80" lengthAdjust="spacingAndGlyphs" stroke="#151515" stroke-width="0.38" >24</text>
<line x1="350.40" y1="318.30" x2="350.40" y2="321.50" stroke="#151515" stroke-width="1.7"/>
<text x="350.40" y="327.32" font-size="5.6" font-weight="bold" text-anchor="middle" fill="#151515" textLength="6.80" lengthAdjust="spacingAndGlyphs" stroke="#151515" stroke-width="0.38" >36</text>
<line x1="367.10" y1="318.30" x2="367.10" y2="321.50" stroke="#151515" stroke-width="1.7"/>
<text x="367.10" y="327.32" font-size="5.6" font-weight="bold" text-anchor="middle" fill="#151515" textLength="6.80" lengthAdjust="spacingAndGlyphs" stroke="#151515" stroke-width="0.38" >48</text>
<line x1="383.80" y1="318.30" x2="383.80" y2="321.50" stroke="#151515" stroke-width="1.7"/>
<text x="383.80" y="327.32" font-size="5.6" font-weight="bold" text-anchor="middle" fill="#151515" textLength="6.80" lengthAdjust="spacingAndGlyphs" stroke="#151515" stroke-width="0.38" >60</text>
<line x1="400.50" y1="318.30" x2="400.50" y2="321.50" stroke="#151515" stroke-width="1.7"/>
<text x="400.50" y="327.32" font-size="5.6" font-weight="bold" text-anchor="middle" fill="#151515" textLength="6.80" lengthAdjust="spacingAndGlyphs" stroke="#151515" stroke-width="0.38" >72</text>
<line x1="417.20" y1="318.30" x2="417.20" y2="321.50" stroke="#151515" stroke-width="1.7"/>
<text x="417.20" y="327.32" font-size="5.6" font-weight="bold" text-anchor="middle" fill="#151515" textLength="6.80" lengthAdjust="spacingAndGlyphs" stroke="#151515" stroke-width="0.38" >84</text>
<line x1="433.90" y1="318.30" x2="433.90" y2="321.50" stroke="#151515" stroke-width="1.7"/>
<text x="433.90" y="327.32" font-size="5.6" font-weight="bold" text-anchor="middle" fill="#151515" textLength="6.80" lengthAdjust="spacingAndGlyphs" stroke="#151515" stroke-width="0.38" >96</text>
<text x="373.50" y="342.99" font-size="7.2" font-weight="bold" text-anchor="middle" fill="#151515" textLength="121.00" lengthAdjust="spacingAndGlyphs" stroke="#151515" stroke-width="0.1" >Time after LPS injection (hours)</text>
<text x="275.20" y="277.21" font-size="7.8" font-weight="normal" text-anchor="middle" fill="#151515" textLength="35.60" lengthAdjust="spacingAndGlyphs" stroke="#151515" stroke-width="0.2" transform="rotate(-90 275.20 274.40)">% Survival</text>
<polyline points="300.30,239.10 433.90,239.10" fill="none" stroke="#151515" stroke-width="1.7" stroke-linejoin="miter"/>
<polyline points="300.30,239.10 333.70,239.10 333.70,242.27 350.40,242.27 350.40,258.90 367.10,258.90 367.10,264.44 383.80,264.44 383.80,269.99 392.15,269.99 392.15,275.53 433.90,275.53" fill="none" stroke="#151515" stroke-width="1.7" stroke-linejoin="miter"/>
<polyline points="317.00,239.10 317.00,258.90 325.35,258.90 325.35,306.42 433.90,306.42 433.90,318.30" fill="none" stroke="#151515" stroke-width="1.7" stroke-linejoin="miter"/>
<rect x="314.90" y="237.00" width="4.2" height="4.2" fill="#151515"/>
<rect x="323.25" y="237.00" width="4.2" height="4.2" fill="#151515"/>
<circle cx="317.00" cy="239.10" r="2.0" fill="#151515"/>
<circle cx="333.70" cy="239.10" r="2.0" fill="#151515"/>
<circle cx="400.50" cy="239.10" r="2.0" fill="#151515"/>
<circle cx="433.90" cy="239.10" r="2.0" fill="#151515"/>
<rect x="331.60" y="240.17" width="4.2" height="4.2" fill="#151515"/>
<rect x="348.30" y="256.80" width="4.2" height="4.2" fill="#151515"/>
<rect x="365.00" y="262.34" width="4.2" height="4.2" fill="#151515"/>
<rect x="381.70" y="267.89" width="4.2" height="4.2" fill="#151515"/>
<rect x="390.05" y="273.43" width="4.2" height="4.2" fill="#151515"/>
<rect x="398.40" y="273.43" width="4.2" height="4.2" fill="#151515"/>
<rect x="431.80" y="273.43" width="4.2" height="4.2" fill="#151515"/>
<polygon points="314.70,256.94 319.30,256.94 317.00,260.85" fill="#151515"/>
<polygon points="323.05,304.47 327.65,304.47 325.35,308.38" fill="#151515"/>
<polygon points="331.40,304.47 336.00,304.47 333.70,308.38" fill="#151515"/>
<polygon points="398.20,304.47 402.80,304.47 400.50,308.38" fill="#151515"/>
<polygon points="431.60,316.35 436.20,316.35 433.90,320.25" fill="#151515"/>
<ellipse cx="432.13" cy="266.50" rx="1.17" ry="1.05" fill="#151515"/>
<ellipse cx="435.20" cy="266.50" rx="1.17" ry="1.05" fill="#151515"/>
<ellipse cx="438.27" cy="266.50" rx="1.17" ry="1.05" fill="#151515"/>
<line x1="459.40" y1="237.00" x2="473.70" y2="237.00" stroke="#151515" stroke-width="1.7"/>
<circle cx="466.50" cy="237.00" r="2.0" fill="#151515"/>
<text x="476.50" y="239.81" font-size="7.8" font-weight="normal" text-anchor="start" fill="#151515" stroke="#151515" stroke-width="0.2" >No LPS</text>
<line x1="459.40" y1="247.00" x2="473.70" y2="247.00" stroke="#151515" stroke-width="1.7"/>
<rect x="464.40" y="244.90" width="4.2" height="4.2" fill="#151515"/>
<text x="476.50" y="249.81" font-size="7.8" font-weight="normal" text-anchor="start" fill="#151515" stroke="#151515" stroke-width="0.2" >LPS+rTMD1</text>
<line x1="459.40" y1="256.80" x2="473.70" y2="256.80" stroke="#151515" stroke-width="1.7"/>
<polygon points="464.20,254.84 468.80,254.84 466.50,258.75" fill="#151515"/>
<text x="476.50" y="259.61" font-size="7.8" font-weight="normal" text-anchor="start" fill="#151515" stroke="#151515" stroke-width="0.2" >LPS</text>
<rect x="270.50" y="355.30" width="2.60" height="10.20" fill="#000"/>
<line x1="310.00" y1="366.00" x2="310.00" y2="439.70" stroke="#151515" stroke-width="1.7"/>
<line x1="309.40" y1="439.10" x2="504.40" y2="439.10" stroke="#151515" stroke-width="1.7"/>
<line x1="306.20" y1="368.00" x2="310.00" y2="368.00" stroke="#151515" stroke-width="1.7"/>
<text x="299.10" y="369.94" font-size="5.4" font-weight="bold" text-anchor="middle" fill="#151515" textLength="13.70" lengthAdjust="spacingAndGlyphs" stroke="#151515" stroke-width="0.38" >1.75</text>
<line x1="306.20" y1="378.16" x2="310.00" y2="378.16" stroke="#151515" stroke-width="1.7"/>
<text x="299.10" y="380.10" font-size="5.4" font-weight="bold" text-anchor="middle" fill="#151515" textLength="13.70" lengthAdjust="spacingAndGlyphs" stroke="#151515" stroke-width="0.38" >1.50</text>
<line x1="306.20" y1="388.31" x2="310.00" y2="388.31" stroke="#151515" stroke-width="1.7"/>
<text x="299.10" y="390.26" font-size="5.4" font-weight="bold" text-anchor="middle" fill="#151515" textLength="13.70" lengthAdjust="spacingAndGlyphs" stroke="#151515" stroke-width="0.38" >1.25</text>
<line x1="306.20" y1="398.47" x2="310.00" y2="398.47" stroke="#151515" stroke-width="1.7"/>
<text x="299.10" y="400.42" font-size="5.4" font-weight="bold" text-anchor="middle" fill="#151515" textLength="13.70" lengthAdjust="spacingAndGlyphs" stroke="#151515" stroke-width="0.38" >1.00</text>
<line x1="306.20" y1="408.63" x2="310.00" y2="408.63" stroke="#151515" stroke-width="1.7"/>
<text x="299.10" y="410.57" font-size="5.4" font-weight="bold" text-anchor="middle" fill="#151515" textLength="13.70" lengthAdjust="spacingAndGlyphs" stroke="#151515" stroke-width="0.38" >0.75</text>
<line x1="306.20" y1="418.79" x2="310.00" y2="418.79" stroke="#151515" stroke-width="1.7"/>
<text x="299.10" y="420.73" font-size="5.4" font-weight="bold" text-anchor="middle" fill="#151515" textLength="13.70" lengthAdjust="spacingAndGlyphs" stroke="#151515" stroke-width="0.38" >0.50</text>
<line x1="306.20" y1="428.94" x2="310.00" y2="428.94" stroke="#151515" stroke-width="1.7"/>
<text x="299.10" y="430.89" font-size="5.4" font-weight="bold" text-anchor="middle" fill="#151515" textLength="13.70" lengthAdjust="spacingAndGlyphs" stroke="#151515" stroke-width="0.38" >0.25</text>
<line x1="306.20" y1="439.10" x2="310.00" y2="439.10" stroke="#151515" stroke-width="1.7"/>
<text x="299.10" y="441.04" font-size="5.4" font-weight="bold" text-anchor="middle" fill="#151515" textLength="13.70" lengthAdjust="spacingAndGlyphs" stroke="#151515" stroke-width="0.38" >0.00</text>
<line x1="310.00" y1="439.10" x2="310.00" y2="442.10" stroke="#151515" stroke-width="1.7"/>
<text x="310.00" y="447.22" font-size="5.6" font-weight="bold" text-anchor="middle" fill="#151515" textLength="3.40" lengthAdjust="spacingAndGlyphs" stroke="#151515" stroke-width="0.38" >0</text>
<line x1="325.86" y1="439.10" x2="325.86" y2="442.10" stroke="#151515" stroke-width="1.7"/>
<text x="325.86" y="447.22" font-size="5.6" font-weight="bold" text-anchor="middle" fill="#151515" textLength="3.40" lengthAdjust="spacingAndGlyphs" stroke="#151515" stroke-width="0.38" >2</text>
<line x1="341.72" y1="439.10" x2="341.72" y2="442.10" stroke="#151515" stroke-width="1.7"/>
<text x="341.72" y="447.22" font-size="5.6" font-weight="bold" text-anchor="middle" fill="#151515" textLength="3.40" lengthAdjust="spacingAndGlyphs" stroke="#151515" stroke-width="0.38" >4</text>
<line x1="357.58" y1="439.10" x2="357.58" y2="442.10" stroke="#151515" stroke-width="1.7"/>
<text x="357.58" y="447.22" font-size="5.6" font-weight="bold" text-anchor="middle" fill="#151515" textLength="3.40" lengthAdjust="spacingAndGlyphs" stroke="#151515" stroke-width="0.38" >6</text>
<line x1="373.44" y1="439.10" x2="373.44" y2="442.10" stroke="#151515" stroke-width="1.7"/>
<text x="373.44" y="447.22" font-size="5.6" font-weight="bold" text-anchor="middle" fill="#151515" textLength="3.40" lengthAdjust="spacingAndGlyphs" stroke="#151515" stroke-width="0.38" >8</text>
<line x1="389.30" y1="439.10" x2="389.30" y2="442.10" stroke="#151515" stroke-width="1.7"/>
<text x="389.30" y="447.22" font-size="5.6" font-weight="bold" text-anchor="middle" fill="#151515" textLength="7.00" lengthAdjust="spacingAndGlyphs" stroke="#151515" stroke-width="0.38" >10</text>
<line x1="405.16" y1="439.10" x2="405.16" y2="442.10" stroke="#151515" stroke-width="1.7"/>
<text x="405.16" y="447.22" font-size="5.6" font-weight="bold" text-anchor="middle" fill="#151515" textLength="7.00" lengthAdjust="spacingAndGlyphs" stroke="#151515" stroke-width="0.38" >12</text>
<line x1="421.02" y1="439.10" x2="421.02" y2="442.10" stroke="#151515" stroke-width="1.7"/>
<text x="421.02" y="447.22" font-size="5.6" font-weight="bold" text-anchor="middle" fill="#151515" textLength="7.00" lengthAdjust="spacingAndGlyphs" stroke="#151515" stroke-width="0.38" >14</text>
<line x1="436.88" y1="439.10" x2="436.88" y2="442.10" stroke="#151515" stroke-width="1.7"/>
<text x="436.88" y="447.22" font-size="5.6" font-weight="bold" text-anchor="middle" fill="#151515" textLength="7.00" lengthAdjust="spacingAndGlyphs" stroke="#151515" stroke-width="0.38" >16</text>
<line x1="452.74" y1="439.10" x2="452.74" y2="442.10" stroke="#151515" stroke-width="1.7"/>
<text x="452.74" y="447.22" font-size="5.6" font-weight="bold" text-anchor="middle" fill="#151515" textLength="7.00" lengthAdjust="spacingAndGlyphs" stroke="#151515" stroke-width="0.38" >18</text>
<line x1="468.60" y1="439.10" x2="468.60" y2="442.10" stroke="#151515" stroke-width="1.7"/>
<text x="468.60" y="447.22" font-size="5.6" font-weight="bold" text-anchor="middle" fill="#151515" textLength="7.00" lengthAdjust="spacingAndGlyphs" stroke="#151515" stroke-width="0.38" >20</text>
<line x1="484.46" y1="439.10" x2="484.46" y2="442.10" stroke="#151515" stroke-width="1.7"/>
<text x="484.46" y="447.22" font-size="5.6" font-weight="bold" text-anchor="middle" fill="#151515" textLength="7.00" lengthAdjust="spacingAndGlyphs" stroke="#151515" stroke-width="0.38" >22</text>
<line x1="500.32" y1="439.10" x2="500.32" y2="442.10" stroke="#151515" stroke-width="1.7"/>
<text x="500.32" y="447.22" font-size="5.6" font-weight="bold" text-anchor="middle" fill="#151515" textLength="7.00" lengthAdjust="spacingAndGlyphs" stroke="#151515" stroke-width="0.38" >24</text>
<text x="405.95" y="456.89" font-size="7.2" font-weight="bold" text-anchor="middle" fill="#151515" textLength="132.90" lengthAdjust="spacingAndGlyphs" stroke="#151515" stroke-width="0.1" >Time after rTMD1 injection (hours)</text>
<text x="275.80" y="406.02" font-size="8.4" font-weight="bold" text-anchor="middle" fill="#151515" textLength="52.40" lengthAdjust="spacingAndGlyphs" stroke="#151515" stroke-width="0.3" transform="rotate(-90 275.80 403.00)">Absorbance (450 nm)</text>
<polyline points="310.00,374.09 311.35,371.25 313.96,383.44 317.93,395.63 321.89,402.53 325.86,408.22 357.58,415.94 405.16,430.97 500.32,433.01" fill="none" stroke="#151515" stroke-width="1.3" stroke-linejoin="miter"/>
<circle cx="310.00" cy="374.09" r="1.9" fill="#151515"/>
<line x1="310.00" y1="370.84" x2="310.00" y2="377.34" stroke="#151515" stroke-width="1.0"/>
<line x1="307.80" y1="370.84" x2="312.20" y2="370.84" stroke="#151515" stroke-width="1.0"/>
<line x1="307.80" y1="377.34" x2="312.20" y2="377.34" stroke="#151515" stroke-width="1.0"/>
<circle cx="311.35" cy="371.25" r="1.9" fill="#151515"/>
<line x1="311.35" y1="367.19" x2="311.35" y2="375.31" stroke="#151515" stroke-width="1.0"/>
<line x1="309.15" y1="367.19" x2="313.55" y2="367.19" stroke="#151515" stroke-width="1.0"/>
<line x1="309.15" y1="375.31" x2="313.55" y2="375.31" stroke="#151515" stroke-width="1.0"/>
<circle cx="313.96" cy="383.44" r="1.9" fill="#151515"/>
<line x1="313.96" y1="378.56" x2="313.96" y2="388.31" stroke="#151515" stroke-width="1.0"/>
<line x1="311.76" y1="378.56" x2="316.16" y2="378.56" stroke="#151515" stroke-width="1.0"/>
<line x1="311.76" y1="388.31" x2="316.16" y2="388.31" stroke="#151515" stroke-width="1.0"/>
<circle cx="317.93" cy="395.63" r="1.9" fill="#151515"/>
<line x1="317.93" y1="391.97" x2="317.93" y2="399.28" stroke="#151515" stroke-width="1.0"/>
<line x1="315.73" y1="391.97" x2="320.13" y2="391.97" stroke="#151515" stroke-width="1.0"/>
<line x1="315.73" y1="399.28" x2="320.13" y2="399.28" stroke="#151515" stroke-width="1.0"/>
<circle cx="321.89" cy="402.53" r="1.9" fill="#151515"/>
<line x1="321.89" y1="394.81" x2="321.89" y2="410.25" stroke="#151515" stroke-width="1.0"/>
<line x1="319.69" y1="394.81" x2="324.09" y2="394.81" stroke="#151515" stroke-width="1.0"/>
<line x1="319.69" y1="410.25" x2="324.09" y2="410.25" stroke="#151515" stroke-width="1.0"/>
<circle cx="325.86" cy="408.22" r="1.9" fill="#151515"/>
<line x1="325.86" y1="404.16" x2="325.86" y2="412.29" stroke="#151515" stroke-width="1.0"/>
<line x1="323.66" y1="404.16" x2="328.06" y2="404.16" stroke="#151515" stroke-width="1.0"/>
<line x1="323.66" y1="412.29" x2="328.06" y2="412.29" stroke="#151515" stroke-width="1.0"/>
<circle cx="357.58" cy="415.94" r="1.9" fill="#151515"/>
<line x1="357.58" y1="409.44" x2="357.58" y2="422.44" stroke="#151515" stroke-width="1.0"/>
<line x1="355.38" y1="409.44" x2="359.78" y2="409.44" stroke="#151515" stroke-width="1.0"/>
<line x1="355.38" y1="422.44" x2="359.78" y2="422.44" stroke="#151515" stroke-width="1.0"/>
<circle cx="405.16" cy="430.97" r="1.9" fill="#151515"/>
<line x1="405.16" y1="424.88" x2="405.16" y2="437.07" stroke="#151515" stroke-width="1.0"/>
<line x1="402.96" y1="424.88" x2="407.36" y2="424.88" stroke="#151515" stroke-width="1.0"/>
<line x1="402.96" y1="437.07" x2="407.36" y2="437.07" stroke="#151515" stroke-width="1.0"/>
<circle cx="500.32" cy="433.01" r="1.9" fill="#151515"/>
<line x1="500.32" y1="430.57" x2="500.32" y2="435.44" stroke="#151515" stroke-width="1.0"/>
<line x1="498.12" y1="430.57" x2="502.52" y2="430.57" stroke="#151515" stroke-width="1.0"/>
<line x1="498.12" y1="435.44" x2="502.52" y2="435.44" stroke="#151515" stroke-width="1.0"/>
<text x="274.40" y="475.50" font-size="12.777777777777763" font-weight="bold" text-anchor="middle" fill="#000" textLength="8.80" lengthAdjust="spacingAndGlyphs" stroke="#000" stroke-width="0.5" >J</text>
<line x1="297.40" y1="482.00" x2="297.40" y2="572.10" stroke="#151515" stroke-width="1.7"/>
<line x1="296.80" y1="571.50" x2="448.70" y2="571.50" stroke="#151515" stroke-width="1.7"/>
<line x1="293.60" y1="486.60" x2="297.40" y2="486.60" stroke="#151515" stroke-width="1.7"/>
<text x="289.30" y="488.62" font-size="5.6" font-weight="bold" text-anchor="middle" fill="#151515" textLength="7.00" lengthAdjust="spacingAndGlyphs" stroke="#151515" stroke-width="0.38" >90</text>
<line x1="293.60" y1="500.75" x2="297.40" y2="500.75" stroke="#151515" stroke-width="1.7"/>
<text x="289.30" y="502.77" font-size="5.6" font-weight="bold" text-anchor="middle" fill="#151515" textLength="7.00" lengthAdjust="spacingAndGlyphs" stroke="#151515" stroke-width="0.38" >75</text>
<line x1="293.60" y1="514.90" x2="297.40" y2="514.90" stroke="#151515" stroke-width="1.7"/>
<text x="289.30" y="516.92" font-size="5.6" font-weight="bold" text-anchor="middle" fill="#151515" textLength="7.00" lengthAdjust="spacingAndGlyphs" stroke="#151515" stroke-width="0.38" >60</text>
<line x1="293.60" y1="529.05" x2="297.40" y2="529.05" stroke="#151515" stroke-width="1.7"/>
<text x="289.30" y="531.07" font-size="5.6" font-weight="bold" text-anchor="middle" fill="#151515" textLength="7.00" lengthAdjust="spacingAndGlyphs" stroke="#151515" stroke-width="0.38" >45</text>
<line x1="293.60" y1="543.20" x2="297.40" y2="543.20" stroke="#151515" stroke-width="1.7"/>
<text x="289.30" y="545.22" font-size="5.6" font-weight="bold" text-anchor="middle" fill="#151515" textLength="7.00" lengthAdjust="spacingAndGlyphs" stroke="#151515" stroke-width="0.38" >30</text>
<line x1="293.60" y1="557.35" x2="297.40" y2="557.35" stroke="#151515" stroke-width="1.7"/>
<text x="289.30" y="559.37" font-size="5.6" font-weight="bold" text-anchor="middle" fill="#151515" textLength="7.00" lengthAdjust="spacingAndGlyphs" stroke="#151515" stroke-width="0.38" >15</text>
<line x1="293.60" y1="571.50" x2="297.40" y2="571.50" stroke="#151515" stroke-width="1.7"/>
<text x="291.05" y="573.52" font-size="5.6" font-weight="bold" text-anchor="middle" fill="#151515" textLength="3.50" lengthAdjust="spacingAndGlyphs" stroke="#151515" stroke-width="0.38" >0</text>
<line x1="297.40" y1="571.50" x2="297.40" y2="574.50" stroke="#151515" stroke-width="1.7"/>
<text x="297.40" y="581.29" font-size="5.8" font-weight="bold" text-anchor="middle" fill="#151515" textLength="3.40" lengthAdjust="spacingAndGlyphs" stroke="#151515" stroke-width="0.38" >0</text>
<line x1="309.45" y1="571.50" x2="309.45" y2="574.50" stroke="#151515" stroke-width="1.7"/>
<text x="309.45" y="581.29" font-size="5.8" font-weight="bold" text-anchor="middle" fill="#151515" textLength="3.40" lengthAdjust="spacingAndGlyphs" stroke="#151515" stroke-width="0.38" >1</text>
<line x1="321.50" y1="571.50" x2="321.50" y2="574.50" stroke="#151515" stroke-width="1.7"/>
<text x="321.50" y="581.29" font-size="5.8" font-weight="bold" text-anchor="middle" fill="#151515" textLength="3.40" lengthAdjust="spacingAndGlyphs" stroke="#151515" stroke-width="0.38" >2</text>
<line x1="333.55" y1="571.50" x2="333.55" y2="574.50" stroke="#151515" stroke-width="1.7"/>
<text x="333.55" y="581.29" font-size="5.8" font-weight="bold" text-anchor="middle" fill="#151515" textLength="3.40" lengthAdjust="spacingAndGlyphs" stroke="#151515" stroke-width="0.38" >3</text>
<line x1="345.60" y1="571.50" x2="345.60" y2="574.50" stroke="#151515" stroke-width="1.7"/>
<text x="345.60" y="581.29" font-size="5.8" font-weight="bold" text-anchor="middle" fill="#151515" textLength="3.40" lengthAdjust="spacingAndGlyphs" stroke="#151515" stroke-width="0.38" >4</text>
<line x1="357.65" y1="571.50" x2="357.65" y2="574.50" stroke="#151515" stroke-width="1.7"/>
<text x="357.65" y="581.29" font-size="5.8" font-weight="bold" text-anchor="middle" fill="#151515" textLength="3.40" lengthAdjust="spacingAndGlyphs" stroke="#151515" stroke-width="0.38" >5</text>
<line x1="369.70" y1="571.50" x2="369.70" y2="574.50" stroke="#151515" stroke-width="1.7"/>
<text x="369.70" y="581.29" font-size="5.8" font-weight="bold" text-anchor="middle" fill="#151515" textLength="3.40" lengthAdjust="spacingAndGlyphs" stroke="#151515" stroke-width="0.38" >6</text>
<line x1="381.75" y1="571.50" x2="381.75" y2="574.50" stroke="#151515" stroke-width="1.7"/>
<text x="381.75" y="581.29" font-size="5.8" font-weight="bold" text-anchor="middle" fill="#151515" textLength="3.40" lengthAdjust="spacingAndGlyphs" stroke="#151515" stroke-width="0.38" >7</text>
<line x1="393.80" y1="571.50" x2="393.80" y2="574.50" stroke="#151515" stroke-width="1.7"/>
<text x="393.80" y="581.29" font-size="5.8" font-weight="bold" text-anchor="middle" fill="#151515" textLength="3.40" lengthAdjust="spacingAndGlyphs" stroke="#151515" stroke-width="0.38" >8</text>
<line x1="405.85" y1="571.50" x2="405.85" y2="574.50" stroke="#151515" stroke-width="1.7"/>
<text x="405.85" y="581.29" font-size="5.8" font-weight="bold" text-anchor="middle" fill="#151515" textLength="3.40" lengthAdjust="spacingAndGlyphs" stroke="#151515" stroke-width="0.38" >9</text>
<line x1="417.90" y1="571.50" x2="417.90" y2="574.50" stroke="#151515" stroke-width="1.7"/>
<text x="417.90" y="581.29" font-size="5.8" font-weight="bold" text-anchor="middle" fill="#151515" textLength="7.00" lengthAdjust="spacingAndGlyphs" stroke="#151515" stroke-width="0.38" >10</text>
<line x1="429.95" y1="571.50" x2="429.95" y2="574.50" stroke="#151515" stroke-width="1.7"/>
<text x="429.95" y="581.29" font-size="5.8" font-weight="bold" text-anchor="middle" fill="#151515" textLength="7.00" lengthAdjust="spacingAndGlyphs" stroke="#151515" stroke-width="0.38" >11</text>
<line x1="442.00" y1="571.50" x2="442.00" y2="574.50" stroke="#151515" stroke-width="1.7"/>
<text x="442.00" y="581.29" font-size="5.8" font-weight="bold" text-anchor="middle" fill="#151515" textLength="7.00" lengthAdjust="spacingAndGlyphs" stroke="#151515" stroke-width="0.38" >12</text>
<text x="371.90" y="592.39" font-size="7.2" font-weight="bold" text-anchor="middle" fill="#151515" textLength="121.20" lengthAdjust="spacingAndGlyphs" stroke="#151515" stroke-width="0.1" >Time after LPS injection (hours)</text>
<text x="275.80" y="529.85" font-size="8.2" font-weight="normal" text-anchor="middle" fill="#151515" textLength="43.00" lengthAdjust="spacingAndGlyphs" stroke="#151515" stroke-width="0.3" transform="rotate(-90 275.80 526.90)">LPS (μg/mL)</text>
<polyline points="297.40,568.67 309.45,509.24 321.50,496.03 369.70,522.45 442.00,568.67" fill="none" stroke="#151515" stroke-width="1.1" stroke-linejoin="miter"/>
<polyline points="297.40,569.61 309.45,526.22 321.50,522.45 369.70,555.46 442.00,569.61" fill="none" stroke="#151515" stroke-width="1.1" stroke-linejoin="miter"/>
<line x1="297.40" y1="565.84" x2="297.40" y2="571.50" stroke="#151515" stroke-width="1.1"/>
<line x1="294.40" y1="565.84" x2="300.40" y2="565.84" stroke="#151515" stroke-width="1.1"/>
<line x1="294.40" y1="571.50" x2="300.40" y2="571.50" stroke="#151515" stroke-width="1.1"/>
<rect x="295.30" y="566.57" width="4.2" height="4.2" fill="#151515"/>
<line x1="309.45" y1="501.69" x2="309.45" y2="516.79" stroke="#151515" stroke-width="1.1"/>
<line x1="306.45" y1="501.69" x2="312.45" y2="501.69" stroke="#151515" stroke-width="1.1"/>
<line x1="306.45" y1="516.79" x2="312.45" y2="516.79" stroke="#151515" stroke-width="1.1"/>
<rect x="307.35" y="507.14" width="4.2" height="4.2" fill="#151515"/>
<line x1="321.50" y1="488.49" x2="321.50" y2="503.58" stroke="#151515" stroke-width="1.1"/>
<line x1="318.50" y1="488.49" x2="324.50" y2="488.49" stroke="#151515" stroke-width="1.1"/>
<line x1="318.50" y1="503.58" x2="324.50" y2="503.58" stroke="#151515" stroke-width="1.1"/>
<rect x="319.40" y="493.93" width="4.2" height="4.2" fill="#151515"/>
<line x1="369.70" y1="504.05" x2="369.70" y2="540.84" stroke="#151515" stroke-width="1.1"/>
<line x1="366.70" y1="504.05" x2="372.70" y2="504.05" stroke="#151515" stroke-width="1.1"/>
<line x1="366.70" y1="540.84" x2="372.70" y2="540.84" stroke="#151515" stroke-width="1.1"/>
<rect x="367.60" y="520.35" width="4.2" height="4.2" fill="#151515"/>
<line x1="442.00" y1="565.84" x2="442.00" y2="571.50" stroke="#151515" stroke-width="1.1"/>
<line x1="439.00" y1="565.84" x2="445.00" y2="565.84" stroke="#151515" stroke-width="1.1"/>
<line x1="439.00" y1="571.50" x2="445.00" y2="571.50" stroke="#151515" stroke-width="1.1"/>
<rect x="439.90" y="566.57" width="4.2" height="4.2" fill="#151515"/>
<line x1="297.40" y1="567.73" x2="297.40" y2="571.50" stroke="#151515" stroke-width="1.1"/>
<line x1="294.40" y1="567.73" x2="300.40" y2="567.73" stroke="#151515" stroke-width="1.1"/>
<line x1="294.40" y1="571.50" x2="300.40" y2="571.50" stroke="#151515" stroke-width="1.1"/>
<polygon points="295.10,571.57 299.70,571.57 297.40,567.66" fill="#151515"/>
<line x1="309.45" y1="517.73" x2="309.45" y2="534.71" stroke="#151515" stroke-width="1.1"/>
<line x1="306.45" y1="517.73" x2="312.45" y2="517.73" stroke="#151515" stroke-width="1.1"/>
<line x1="306.45" y1="534.71" x2="312.45" y2="534.71" stroke="#151515" stroke-width="1.1"/>
<polygon points="307.15,528.18 311.75,528.18 309.45,524.26" fill="#151515"/>
<line x1="321.50" y1="509.24" x2="321.50" y2="535.65" stroke="#151515" stroke-width="1.1"/>
<line x1="318.50" y1="509.24" x2="324.50" y2="509.24" stroke="#151515" stroke-width="1.1"/>
<line x1="318.50" y1="535.65" x2="324.50" y2="535.65" stroke="#151515" stroke-width="1.1"/>
<polygon points="319.20,524.40 323.80,524.40 321.50,520.49" fill="#151515"/>
<line x1="369.70" y1="550.75" x2="369.70" y2="560.18" stroke="#151515" stroke-width="1.1"/>
<line x1="366.70" y1="550.75" x2="372.70" y2="550.75" stroke="#151515" stroke-width="1.1"/>
<line x1="366.70" y1="560.18" x2="372.70" y2="560.18" stroke="#151515" stroke-width="1.1"/>
<polygon points="367.40,557.42 372.00,557.42 369.70,553.51" fill="#151515"/>
<line x1="442.00" y1="567.73" x2="442.00" y2="571.50" stroke="#151515" stroke-width="1.1"/>
<line x1="439.00" y1="567.73" x2="445.00" y2="567.73" stroke="#151515" stroke-width="1.1"/>
<line x1="439.00" y1="571.50" x2="445.00" y2="571.50" stroke="#151515" stroke-width="1.1"/>
<polygon points="439.70,571.57 444.30,571.57 442.00,567.66" fill="#151515"/>
<ellipse cx="309.60" cy="539.40" rx="0.99" ry="1.05" fill="#151515"/>
<ellipse cx="318.23" cy="538.90" rx="1.24" ry="1.05" fill="#151515"/>
<ellipse cx="321.50" cy="538.90" rx="1.24" ry="1.05" fill="#151515"/>
<ellipse cx="324.77" cy="538.90" rx="1.24" ry="1.05" fill="#151515"/>
<ellipse cx="366.67" cy="564.30" rx="1.19" ry="1.05" fill="#151515"/>
<ellipse cx="369.80" cy="564.30" rx="1.19" ry="1.05" fill="#151515"/>
<ellipse cx="372.93" cy="564.30" rx="1.19" ry="1.05" fill="#151515"/>
<line x1="459.00" y1="487.50" x2="472.00" y2="487.50" stroke="#151515" stroke-width="1.7"/>
<rect x="463.50" y="485.40" width="4.2" height="4.2" fill="#151515"/>
<text x="474.80" y="490.31" font-size="7.8" font-weight="normal" text-anchor="start" fill="#151515" stroke="#151515" stroke-width="0.2" >LPS</text>
<line x1="459.00" y1="498.20" x2="472.00" y2="498.20" stroke="#151515" stroke-width="1.7"/>
<polygon points="463.30,500.15 467.90,500.15 465.60,496.25" fill="#151515"/>
<text x="474.80" y="501.01" font-size="7.8" font-weight="normal" text-anchor="start" fill="#151515" stroke="#151515" stroke-width="0.2" >LPS+rTMD1</text>
<text x="5.90" y="223.80" font-size="13.88888888888889" font-weight="bold" text-anchor="middle" fill="#000" textLength="9.80" lengthAdjust="spacingAndGlyphs" stroke="#000" stroke-width="0.5" >C</text>
<text x="62.50" y="230.38" font-size="4.4" font-weight="bold" text-anchor="middle" fill="#151515" textLength="41.00" lengthAdjust="spacing" stroke="#151515" stroke-width="0.18" >LPS (20 mg/kg)</text>
<text x="187.75" y="230.18" font-size="4.4" font-weight="bold" text-anchor="middle" fill="#151515" textLength="33.50" lengthAdjust="spacing" stroke="#151515" stroke-width="0.18" >PBS control</text>
<text x="61.50" y="291.98" font-size="4.4" font-weight="bold" text-anchor="middle" fill="#151515" textLength="89.00" lengthAdjust="spacing" stroke="#151515" stroke-width="0.18" >LPS (20 mg/kg)+rTMD1 (5 mg/kg)</text>
<text x="184.75" y="291.98" font-size="4.4" font-weight="bold" text-anchor="middle" fill="#151515" textLength="115.50" lengthAdjust="spacing" stroke="#151515" stroke-width="0.18" >LPS (20 mg/kg)+rTMD2/EGF123 (5 mg/kg)</text>
<g clip-path="url(#c1)"><g>
<rect x="1.8" y="233.8" width="122.5" height="49.2" fill="#f0dcf0"/>
<path d="M55.4 261.7l3.3 -0.2M21.8 258.8l2.7 0.5M55 239l2.5 0.7M73.9 252.7l2.4 0.3M77.9 276.4l1.5 -0.6M74.6 273.2l2.2 0.1M81.4 253.1l2.5 0.8M88.4 248.8l1.9 -0.4M70.2 237.7l1.7 -0.4M120.3 277.1l1.4 -0.4M58.2 284.4l2.1 -0.8M94.8 238.4l1.9 -0.7M57.2 258.1l2.7 -0.8M125.2 232.5l1.8 0.6M104 252.6l1.6 -0.4M113.8 275.6l1.9 -0.6M85.6 252.9l2.3 -0.9M31 275.9l2.6 -0.6M116.5 283.8l1.7 -0.1M51.1 245.2l1.6 -0.3M10.3 239.4l2.4 -0.4M39.3 285l1.7 -0M47 232.8l1.5 -0.6M54.7 276.3l1.6 0.3M38.3 236.2l1.5 0.5M61.1 264.9l3.2 -0.8M23.4 254.3l3 0.9M70.6 248.9l2.8 -1.3M49.6 242.2l3 -0.7M120.1 268.3l1.9 -0.1M89 272.5l2.4 -1M32.8 250.2l2.9 -0.1M57.5 266.3l1.9 0.2M32.2 270l1.5 -0.1M54.1 261.2l3 -0.2M117.9 258.6l3.2 -1.2M53.8 261.5l3.2 0M119.2 278.4l2.7 -0.5M121 260.1l2.5 -0.7M67.8 284.7l1.6 -0.6M15.4 273.5l1.5 -0.4M102.9 264.3l2.5 0.6M65.5 276.8l2.6 0.6M111 242.6l2.9 -0.9M15.3 244.9l2.9 -0.7M53.5 281.7l2.6 0.3M62.5 268.6l1.7 -0.7M53.4 263.7l1.5 0.2M21.3 256.1l3 -0.4M74.8 237.1l3 -0.6M36.4 236.6l3.1 1.1M70.8 259.8l2.1 0.8M86.9 273l3.2 -1.4M92.2 245.9l2.1 -0.9M67.7 258.8l3.4 0M79.7 274.8l1.7 0.1M69.3 247.2l2.9 -0.6M7.9 280l2.4 -0.1M4 236.6l3 0.9M56.6 242.7l1.6 -0M33.1 264.1l2.9 0.3M79 272.1l1.8 -0.4M2.3 234l1.9 -0.4M59.3 242.8l2.2 0.3M99.8 255.3l3.1 0.7M54.9 271.9l2.2 -0.7M81.4 284.4l2.2 -0M53.1 251.2l1.6 0.4M36.8 273.3l1.6 -0.4M86.2 258.4l3 -0.5M99 260.5l3.2 0M9.6 255.7l3.1 0.6M6.5 261.4l2.9 -1.1M33.4 237.8l1.9 -0.9M101 249.6l1.8 -0.1M106.2 274.3l3.1 0.8M114.7 244.8l1.8 0.1M39.1 252.8l2.5 -0.6M58.4 271l2 -0.7M114.4 271.9l1.5 -0.1M74.1 243.9l1.8 -0.4M106.7 257.2l2.2 0.7M121.8 273.8l3 0.6M18.7 248.7l2 0.5M79.4 284.7l2 -0M71.2 241l1.8 0.5M102.8 236.1l2 0.3M38.6 252.9l2.5 0.9M88.9 257.4l2 -0.7M106.7 276.3l2.8 0.8M55.5 252.1l1.7 0.1M73.9 236.9l1.9 -0.6M53.6 272.6l2.1 0.5M122.6 273.8l2.8 0.1M24.7 249.9l2 -0.7M30.9 260.7l2 -0.5M70.8 241.8l3.2 1.1M70.2 233l2.8 0.5M32.3 278.6l2.4 0.3M19.5 271.8l3.2 -0.6M14.3 275.4l2 0.6M94.8 251.1l1.8 0.1M55.8 252.8l2.9 0.9M37.2 267.7l2.9 -0.4M19.1 253.7l1.6 -0M64.6 255.1l3.3 -0.6M93.7 248.5l2.5 -1M70.7 279.7l1.7 0.3M109.4 242.4l3.2 0.3M23.4 276.4l2.2 -0.1M78.9 269l2.6 -0M86.7 282.1l2.2 -0.9M107.4 238.5l2.8 -0.6M62.2 247.3l2 0.4M73.4 243.7l2 0.6M66.5 254.7l2.5 -0.8M29.7 247l2.5 -0.7M39.6 257.7l1.5 -0.3M60.3 243.6l2.7 -0.1M24.6 283.5l1.6 -0.1M90.5 277.6l1.5 -0.5M70.3 261.1l3 -0.8M6.5 253.9l2.2 -0.6M65 284.3l1.5 -0.2M10.2 261l2.3 0.7M30.8 261.2l2 -0.1M44.1 249.7l3.5 0.2M18.4 262.7l3.5 0.5M56.7 252.9l3.2 -0.4M26.1 250.3l1.9 -0M55 284.3l2.8 0.7M76.9 259.5l3 -0.1M96.5 259.5l1.6 -0.2M60.4 242.2l2.4 -0.8M27.3 247.6l2.1 -0.6M24.3 272.5l2.2 0.3M119.3 250.7l2.5 0.8M-1.3 260.6l3.2 0.5M32.4 237.2l1.5 0.3M86.1 268l3.4 0.7M34.7 272l2.5 -0.6M44 269.1l3.3 0.5M30.7 265.5l2.2 0.2M79.5 238.8l2.9 -0.7M14.3 252.2l2.7 -0.7M121.6 256.6l2.8 0.5M117.1 284.3l1.6 0.2M108.9 242.1l2.2 -0M49.4 279.6l3.1 0.7M52.9 240.2l3.2 -0.7M33.4 253.5l2 -0.8M83.6 232.4l2.1 -0.7M71.3 281.7l1.5 0.4M48.8 274.3l3.1 0.5M116.6 257.6l3.2 -0.4M6.9 266.9l2.6 -0.6M92.1 243.1l3 -0M1.8 253.3l1.5 -0.6M53.2 283.1l1.9 -0.2M101.5 235.2l2.2 0.6M106.9 265.2l2.5 0M51.9 252.2l2 0.1M63.6 233.6l2.7 -0.2M5 282.9l2.9 0.8M28.1 276.1l2.7 0.8M99.1 259.7l3.2 -1.3M88.3 245.3l3.1 -0.2M108.3 242.2l2.1 0.1M11.9 254.9l2.9 0.8M99.5 277.3l3 -0M99.5 240.3l2.1 -0.8M7.9 284.3l1.9 0.1M105.3 282.5l2.7 -0.8M21.2 238.7l2.9 -0.2M52.4 275.5l2.3 -0.2M117.5 250.6l2.8 -0.7M27.4 257.3l1.9 -0.2M81.8 246.6l2.6 -1.2M51.5 249.6l3.1 0.7M0.5 233.3l2.7 0.3M59.7 266.7l1.6 -0.4M123.8 252.7l3.1 0.2M124.8 235.5l2.4 -0.3M57.6 232.2l3.1 1M12.3 253.3l2.5 0.8M37.1 258.8l1.7 0M82.6 259.1l2.1 -0.3M20.5 237.1l1.7 0.5M17.1 261.8l1.8 0.1M40 257.5l2.7 0.7" stroke="#c084c8" stroke-width="1.8" stroke-linecap="round" fill="none"/>
<path d="M64.2 265.8l2.5 0.2M97.5 246.3l1.6 -0.3M123.3 272.9l2.3 -0.3M52.1 242.8l1.9 0.7M4 240.1l2.2 -1M0.5 251.9l2.6 -0.9M104 239l2.3 0.1M11.3 234.3l3.3 -0.8M34.4 281l1.7 -0.8M73.2 281.1l2.4 -0.4M120.2 233l2.8 -0.2M112.2 270.7l2.9 0.5M42.7 267.8l3.2 0.8M118.1 233.9l2.3 -1M124 278.8l2.9 -0.4M45 239.5l2.7 -0.1M81.7 255.6l3.2 -0.6M47.4 263.2l2 -0.7M43.4 279.7l1.5 -0.6M102.6 237.5l2.3 0.7M46.8 259.3l2.8 0.4M39.3 275.8l2.1 0.1M99.8 284.4l1.6 -0.6M48 274.5l3.1 -1.2M14.9 255.6l2.6 0.8M68.2 266.3l2.5 0.5M25.1 279.1l3.3 1.1M26.3 278.4l2.2 -0.9M85.5 280.1l2.3 0.8M64.6 276.9l2.6 -0.5M62.7 263.7l1.5 0.5M7 260.1l2.2 0.7M33 257.1l1.7 -0.2M65.1 238l2.1 -0.9M-0.1 247.3l2.9 -0.7M12.2 270.7l1.7 -0.1M89.1 269.8l3 -1.3M114.5 265.5l2.1 -0.6M50 268.5l1.5 -0.4M114.2 283.4l1.7 -0.1M1.6 272l2.6 0.7M17.4 241.4l1.9 0.4M116.3 236.6l1.5 0.5M8.5 237.1l2.3 -0.2M99.6 269.2l3.2 0.2M70.5 242.2l2.6 -0.4M33.7 238.4l2.8 -0.9M15.4 249.5l2.6 -0.4M95.2 253.9l2.7 -1.1M27.8 282.3l2.8 -0.5M80.8 232.6l2 -0.4M47.6 281.4l2.2 0.7M67.2 263.6l2.4 -0.1M65.3 263.8l2.2 -0.5M96.1 263.1l2.7 -0.3M5.3 248.5l2.3 0M122.3 275.7l2.5 -0.9M44.6 239.2l2.3 0.1M44.4 271.9l3 -1M91.9 244.3l1.7 0.5M110.2 234.1l1.6 -0.4M114.3 240l1.9 0.6M67.3 254.5l2.6 0.5M26.4 266.5l2.1 0.6M87.9 261.6l3.2 1M54.2 274.7l2.1 -0.4M121 271.1l2.4 -0.9M1.5 267.6l2.6 0.5M63.8 260.3l2.5 0.8M11 275.1l2.3 0.3M95.1 259.7l3 -0.4M88.2 280.2l2.3 0.5M64.5 269.7l3.1 -0.3M38.2 242.3l2.2 0.1M113.7 281.3l2.6 0.8M60.1 243.3l1.5 0.5M82.2 244.5l1.5 -0.1M55.6 244.6l2.3 0.6M111.5 268.6l1.6 0.3M1.3 241.7l1.9 0.2M24.9 261.1l2.4 -0.8M44.5 268.5l1.7 -0.2M93.4 273.6l1.7 -0.2M35.3 252.1l2.5 -0.5M94.5 261.6l1.6 -0.5M90.6 249.3l3.4 0M84.6 269.6l1.8 -0.2M80.1 272.8l3.1 -0.4M114.9 264.9l3 0.1M31.7 241.9l2.1 -0.2M29.3 262.7l2.8 -0.5M112.9 260.7l2.6 0M70.6 241.3l2.5 -0.6M5.1 273.2l2.9 0.5M119.9 263.9l2.4 -0.3M93.2 257.3l3.4 0.8M103.4 237.8l1.7 0.5M36.1 264.7l2.3 -0.3M105.1 244.2l3.1 1M86.7 260l1.9 -0.4M117 278.4l3.5 0.5M107.9 254.6l3 -0.8M110.2 262.7l2.4 -0.5M1.6 241l2.4 -0.2M16.7 268.8l1.9 -0.4M112.3 247.8l2.4 0.7M23.3 278.9l1.5 -0.6M120.3 246.1l2.3 0.6M34 265.6l1.6 0.6M114.3 236.4l3 -1.4M123.6 233.4l2.4 0.4M-0.6 279.5l1.5 -0.6M74.1 272.9l1.7 -0.2M67.6 245.2l2.9 0.4M39.6 263.9l2.7 0.5M5.2 254.1l2.8 0.6M95.2 258.4l2.8 -0.1M30.6 240l2.8 0.6M14.8 272.4l2.6 -0.9M84.1 269.9l3.4 0.2M59.2 252.9l2.7 0.4M67.4 254.3l1.6 -0.3M32.9 250.7l1.7 0.5M15.6 245.1l3 -1.1M104.3 256l3.2 -0.4M38.1 254.8l2.4 -0.8M38.4 255.5l2.2 0.6M66.6 255.7l1.8 -0.1M106 272.1l2.2 -1M81.7 235.4l3.2 0M82.6 283l3.1 -0.8M10.1 255l2.1 -0.9M116.1 247.3l2.8 -0.8M92.2 280.2l3.1 -0.2M87.2 261.8l2.7 -1.2M13.4 280.6l3.2 -0.7M61.3 263.2l2.4 -0.4M7.9 233.8l2.1 -0.3M32 267.4l1.9 -0.1M78 265l2.3 -0.3M7.3 256.1l2.3 0.8M3.4 239.3l2.5 -0.5M58.3 233.2l2.6 -0.6M85.1 244.3l1.5 -0M77.3 261.1l3 1M40.4 268.8l3 -0.6M123.3 275.6l3.2 -0.6M63.8 267.9l1.6 0.1M108.8 234.7l2 -0.1M40.5 271.9l3.1 0.7M32.7 246.1l2 0.2M45.5 247.9l3 0.7M27 270.6l2.2 -0.7M84.2 243.1l2 0.5M20.3 237.9l3.3 -0.8M45.3 245.9l1.5 -0.6M124.5 253.7l1.5 -0.2M69 242.9l2.7 0.6M33.3 281.2l3 1.1M67.1 268.1l1.9 -0.8M6.2 257.2l3 -1.2M-0.3 259.6l3.1 0.6M-0.1 239.1l2.1 0.3M101 251.4l2.7 -0.4M21.3 237.6l1.8 -0.3M1.6 241.1l1.6 0M97.4 259.6l1.5 0.2M113.7 235l2.7 -0.5M13.7 271.2l3 -0.3M74.1 281.4l1.8 -0.1M91.8 248l2.8 1M116.4 282.8l1.9 -0.4M21.2 252.4l3.2 0.2M69.5 284.5l2.2 0.5M33.9 245.5l2.2 0.1M23.2 284.5l2.9 0.4M109 273.1l1.8 -0.7M34.8 278l2 0.5M55.4 235.5l2.3 -0.5M0.4 251.4l2.6 0.6M67.3 237.7l3.1 -1.2M83.5 240.3l1.6 -0.5M64.1 262.6l2.4 0.5M11.2 273.8l1.4 0.5M82.5 283.1l2.4 0.6M30.2 254l1.6 -0.4M51.2 232.2l1.8 0.4M18.9 260.3l1.5 -0.5M113.7 260.4l3 0.5M51.5 236.3l1.9 -0.7" stroke="#c084c8" stroke-width="2.4" stroke-linecap="round" fill="none"/>
<path d="M59.8 244.1l2.4 -0.1M25.9 272.5l0.9 -0.3M49.6 247.4l2.1 -0.8M79.9 235.3l2.3 -1M68.6 281.6l2 -0.9M71.9 232.2l2.4 -0.3M84.6 274.2l1.7 0.5M104.7 282.5l1.5 0.3M87.6 252.8l2.3 0.2M115.6 243l1.7 -0M56.2 263l1.8 0.3M59.8 283.9l1.5 0.2M79 250.8l1.6 -0.7M100.7 245.5l1.3 -0.4M13.6 241.6l2.2 0.2M118.3 239.7l1.6 0.3M37.3 254.4l2.5 0.2M70.8 250.2l1.2 0.4M71.3 281.3l2.4 -0.5M43.1 239.2l2.9 0.2M2.1 262l2.9 0.3M116.4 278.8l1 -0.3M8.8 257.4l1.9 0.7M16.1 247.7l1.5 0.2M121.9 282l2.8 0.7M116.9 236.1l1.8 0.6M2.7 276l2.3 -0.1M-1.3 235l2.4 0.8M50.7 250l1.4 -0.6M56 244.7l2.6 -0.8M25.9 255.6l1.2 0.4M92.9 242.8l0.9 -0.2M69.2 239.6l2.1 -0.8M124.6 252.3l1.1 0.2M41.8 274l1.6 -0.3M120 254.6l1.1 -0.4M109.5 283.1l2.8 -0.5M16.4 270.2l2.8 -0.8M44.9 270.9l2.7 -0.9M94.9 260.3l2.7 -1M0.5 280.4l2.8 0.9M43.3 285.2l1.7 -0.7M68.1 246.8l0.9 -0.1M120.6 232.8l1.6 0.5M58.2 241.6l0.8 -0.2M28 281.2l2.6 0.7M80.2 265.5l0.8 -0M61.7 281l1.9 -0.3M5.9 249.2l2 -0.8M121.7 247l1.7 -0.6M28.2 276.2l2.5 -0.6M17.8 248.7l2.3 -0.1M80.7 268.7l1.7 -0.4M85.3 274l2.3 0.5M13.6 257.6l2.2 -0.9M117.3 266l0.9 0.1M123.9 264.9l1.1 0.1M54.2 253.4l1.6 0.3M88.4 233.9l2.7 -0.1M39.2 246.3l1.2 0.1M7 237.4l2.2 -0.9M25.8 280.4l2.4 0.7M73.6 254.3l0.8 -0.3M98 263.2l2.8 -0.6M22.9 245.2l2.8 -0M62.2 273.4l1.3 0.3M85.5 264.5l0.9 0.1M92.7 278.3l1.1 -0.5M54.4 242.9l0.8 0.2M84.3 258.3l2.5 0.7M32 264.5l1.3 -0.2M93.5 255.2l1.7 -0.7M82.4 247.3l2.6 -0.3M71.1 282.4l1.6 0.3M0.4 260.9l1.2 -0.2M47.1 246.4l1.6 -0M67.2 252.8l1.7 0.3M24.5 233.1l2.8 0.2M92.4 245.8l1.9 0.2M44.1 269.2l1.2 0.3M59.5 234.9l1.9 0.2M7.3 237.2l0.8 0.1M69.3 234.1l1.1 0.1M38.4 263.5l1.3 -0.5M58.1 259.8l1.9 0.4M35 247.5l1.7 0.1M86.4 271.5l1.8 -0.2M109.8 284.2l2.7 0.6M4 247l1.5 0.5M0.7 239.6l1.7 0.1M55 284.4l2.8 0.1M26.2 255.7l2 -0.3M-0.1 270.1l2.8 0.1M94.7 249.6l2.9 0M122.7 241.5l1.2 0.2M95.3 234.8l0.9 0.2M100.4 280l2.4 -0.4M61.8 283.5l1.3 -0.3M68.9 252.4l2.9 0.2M24.5 232.3l2.2 0.2M56.1 257.6l0.9 -0M93 272.7l2.2 -0.9M17.6 269.8l1.1 -0.2M50.5 252.3l2.3 -0.9M35.6 271.6l2.5 0.3M78.5 278l1.5 -0.4M125.1 276.1l2.1 0.7M32.2 258.1l1 0.2M24.2 261.7l1.4 -0.7M85.7 265.2l2.2 -0.1M29.1 270.3l2.5 -0M114.2 267.2l2.7 -1M85.2 254.2l2.7 -0M70.8 268.2l2.7 -1.1M68.3 277.6l1.5 -0.6M59 236.9l2 0.5M35 273.1l2.2 -0.1M54.7 276.9l1.8 0.5M63.8 234.9l1.1 0M45.8 279.3l1.2 -0.5M60.4 238.7l1.1 0.3M70.7 240.3l1.5 -0.4M34.2 234.5l2.3 -0.2M12.5 233.9l2.2 -0.1M114.8 243.3l2.1 -0.8M119.1 264.6l1.5 0.2M95 249.6l1.7 0.2M61.8 266.2l1.6 -0.2M99.7 268l2.6 -0.4M73.5 265.3l2.2 0.8M66.5 273.5l1.8 -0.7M61.8 232.7l1.6 -0.6M54.7 245.5l1.1 0.1M15.2 274.8l1 0M71.5 279.3l2.9 0.5M11.1 278.9l0.9 -0.2M-1.1 284.5l2.6 -0.4M117.9 243.1l1 -0.3M62.5 282l2.6 0.9M18.3 259.5l2 0.6M112.4 267.5l1.3 -0.2M41.6 241.7l1.5 -0.1M61.2 236.4l1 0.3M114.8 263.3l2.8 0.9M36.8 255.2l2.6 0.3M7.6 245.1l2.4 -0.4M49.7 262.2l1.3 -0.6M41.5 258.1l1.6 -0.4M74.7 271l0.8 -0.4M11.4 252.4l1.4 -0.2M84.1 256.3l2 0M104.2 275.8l2 0M90.9 235.1l2.9 -0.1M117.2 238.6l1.7 -0.4M21.9 252.3l1.9 -0M73.8 281.4l2.7 0.8M81.8 247.8l2.1 -0.7M123.6 282.3l2.9 0.2M29.1 274l2.7 -0.6M54.6 246.6l2.8 0.1M93 238.8l1.3 0.4M106.2 275.9l1.9 -0.8M107.2 242.5l1.5 -0.1M57.4 242.6l1.8 0.2M18.2 284l2.8 0.6M26.7 253.6l2.2 0.6M84 269.5l1.2 -0.2M44.1 249.8l1 0.1M6.8 262.4l1.4 -0.6M7.4 250.2l1.4 0.3M109 271.4l0.9 -0.3M104.9 284.8l2.4 -0.8M6 255l2.6 0.4M11.8 282.2l1.1 0.1M107.4 258.4l1.7 -0.4M120 247.7l1.3 -0.3M76.4 278.3l0.9 0.1M5 282.1l1.3 0.3M-0.7 261.2l2 0.2M27.1 284.5l1.9 -0.3M123.5 244.4l0.9 -0.1M52.1 282.8l0.8 -0.2M73.7 265.8l2.5 0.5M73 255.8l1.7 -0M104.1 274.8l1.3 -0.2M36.6 260.8l2.9 0.8M99.9 282.2l1.1 0.1M69.1 240.1l1.4 0.3M2.1 250.2l1 0.2M2.1 275.2l2.6 -0.8M91.2 261.9l1.3 -0.4M99.4 233.6l2.4 0.4M32.9 250.8l2.8 0.6M13.4 239.3l2.5 -0.5M84.6 261.7l2 -0.5M72.1 248.3l1 0.3M71.6 259.6l1.7 -0.5M86.4 268.6l2.4 -1.1M58.4 239.3l1.9 -0M61.2 279.4l2 -0.3M54.6 238l1.5 0.2M83.7 261.5l1 0.1M37 233.1l1.1 0.2M121.9 277.5l1.6 -0.3M39.7 282.8l2.1 -0.5M57.7 265.4l2.1 0.6M47.4 285l1.7 -0.2M65 260.6l1.9 0.6M58.7 275.3l2.1 0.3M44.7 270.2l1.7 -0.2M23.9 258.2l2.5 -0.6M10.8 244.7l1.2 -0M27.5 268.3l2.1 0.3M41.1 284.8l1.8 -0.1M30.1 271l2.9 0.7M39.9 256.4l2.7 -0M55 260.2l2.3 0.5M0.9 275.5l2.5 -1M115.1 271.1l2.2 -0.5M26.3 250.9l2.5 -0.5M53.6 263.6l1 -0.2M45.1 232.4l2.4 0.2M68.3 257.1l1.6 -0.7M57.8 233l2 -0.6M57.4 276.2l1.5 -0.4M103.4 272.9l2.3 -0M73.2 235.4l1.4 0.1M51.7 261.6l1.9 -0.3M101.3 266.3l2 0.4M112.8 283.8l2.5 -0.5M81.2 240.3l2.8 -0.5M60 252l1 0M84.3 234.4l2.9 -0.2M35.2 279.4l1.5 0.4M23.7 255.1l1.6 -0.6M31.8 241.6l2.7 -0.8M29.4 259.9l2.2 0.7M102.8 265.2l2.5 0.5M35.7 237.9l0.9 -0M45.8 233.4l2.6 -0.3M120.5 278.2l1.9 0.6M55.3 267.8l2.6 -0.1M65.7 234.6l1.3 0.2M47.1 271.9l1.8 0.2M64 233.6l2.1 0.5M58.4 238l2.6 -0.8M20.2 246.2l1.2 -0.4M120.4 246.8l1 0.1M14 271.3l1.2 0.2M79.5 235.7l1.6 0.2M78.9 252.1l1.1 0.1M31.1 272.9l2.7 -0.4M47.9 257l2.5 0.8M92.7 251.8l1.3 -0.1M8 276.8l2.8 0.8M96.5 247.4l1.7 0.5M122 280.8l1.3 -0.5M115.7 267.8l2.7 -0.9M81.4 282.7l0.9 -0.1M78.7 251.1l1.7 -0.5M61.3 255.3l0.9 -0.3M44.2 246.3l2.1 -0.7M36 232.4l2.9 -0.4M2.1 280.5l1.5 0.1M49.3 270.3l2.1 -0.3M13.6 237.7l2.7 -0.7M6.3 263.2l1.8 -0.2M1.2 259.3l0.9 -0.3M105.7 255.8l1.2 -0.2M11.2 280.4l1.3 -0.1M80.1 239.4l1.3 0M74.9 260.8l1.1 -0.2M69.1 244.5l1.2 -0.5M97 250.7l2.4 -0.4M26.9 251.4l1.9 -0.3M77 253l2.3 -0.2M31.8 276.8l1.8 0.6M123.9 233.8l1.6 0M74.4 279.7l1.1 -0.3M35.6 247.8l2.7 0.5M45.8 235.1l1.6 -0.1M14 259.4l2.9 -0.5M17.6 280.2l1.9 -0.1M82.6 234.5l1.2 0M110.3 234.9l1.2 0.3M73.4 232.2l0.9 0.2M64.3 268.9l1.2 0.2M119.9 239.4l1.6 -0.6M0.6 276.9l2.2 -0.2M13.4 244.3l1.7 -0.6M125.1 253.3l1 -0M55.2 245.5l2.3 -0.6" stroke="#36124e" stroke-width="1.6" stroke-linecap="round" fill="none"/>
<path d="M70.3 258.6l2.8 -0.4M33 263.9l1.2 -0.5M47.7 266.6l1.4 -0.5M104.5 235.1l2 -0M102.3 268.2l2.2 -0.9M46.5 263.3l1 0.1M120.3 251.4l2.1 -0.3M64.7 272.1l0.9 -0.3M72.9 274.7l2.9 0.2M104.3 249.1l1.5 0.3M20.5 236.6l2.2 -0.7M18.6 246.2l1.6 0.4M24.2 269.3l1.9 -0.2M63.5 257.2l2 0.5M24.8 250.3l1.1 -0.2M69.2 283.8l2.8 -0.2M3.2 269l2 -0M60.3 255.8l2.9 -0.5M11.5 273.7l1.2 -0.4M14.1 272.2l2 0.6M85.6 251l2.9 0.4M75.3 276.5l2.8 -1M1.7 260.5l1.3 -0.3M70.3 246l0.9 -0.4M75.7 260.7l2.4 -0M59.9 268.5l1.5 -0.4M12.2 261.7l1 0.4M54.6 267.9l1 0.1M75.3 274.1l3 0M12.9 247.4l1.4 0.5M32 263.1l1.9 -0.3M29.3 266.6l1.4 -0M71.6 233.3l1.4 -0.6M9.1 272.6l1.3 -0.4M59.6 275.4l0.8 -0M87.3 244.1l2.6 0.7M123.1 270.8l2.2 -0.8M21.9 238.3l2 -0M19.1 249.6l2 -0.4M118.8 283.8l0.8 0.1M41.4 276.8l2 0.2M78 248.5l1.5 0.4M53.5 262.8l1.3 0.4M57.7 261.4l2.8 0.5M29 262.7l1.1 0.3M82.7 252.9l1.8 0.4M52.3 261.4l2.9 -0.1M119.8 266.7l1.8 0.1M31.8 247.3l1.6 -0.4M70.7 282l2.2 -0.1M28.5 264.9l1 -0.3M40.2 281.4l2.7 -0.6M120.8 273.1l1.5 -0.3M35.5 281.5l1.6 -0.2M7.9 234.6l1.6 -0M14.1 254.6l2.3 0.4M96.1 234.8l1.1 -0M88.3 256.4l1.6 -0.6M33 269l1.7 -0.6M30 262.3l1.7 -0.2M91.6 264.9l1.2 -0.3M123.2 278.2l2.8 0.2M36.9 243.6l2.7 -0.1M88.6 255.7l1.6 -0.1M56 257.1l2.7 -0.2M92.4 247.2l2.3 0.7M54.2 266.5l1.3 0.2M69.7 252.8l2.6 -0.4M104.7 252.5l2.1 0.3M93.6 262.5l1.3 0.2M68.1 284.2l1.1 0.2M101.8 258.8l0.8 0.1M66 258.1l1.2 0.1M11.3 234.4l1.8 0M83.2 247.3l1.5 0.1M86.9 250.1l2.6 -0.7M87.1 233l2.8 0.5M76.3 284.5l1.2 -0.3M18 283.2l1.5 -0.1M21 241.3l2.1 0.3M95.5 268.6l2.6 -1.2M3.9 250.5l3 0.1M57.9 247.3l2 -0.3M-0.4 281.2l1.3 -0.6M58.4 258.8l1.4 0.4M86.5 258.5l1.7 -0.2M77.7 246.8l1.2 0.3M12.9 260.3l1.5 -0.2M72.6 240.8l1.8 0.5M98.7 265.2l2.3 0.6M77.2 281.6l0.9 0M110.2 266.7l1.6 0.1M84.5 235.5l1.2 -0.3M117.6 267.2l1.1 0.1M117.7 248.9l0.8 -0.1M14.7 245.4l1 -0.2M15.6 252.3l1.3 -0.1M18.1 240.6l0.8 -0.4M74.2 244.1l1.2 -0.1M24.6 266l1.1 -0.4M58.8 234.2l2.1 -0.6M116.9 254l2.5 0.6M67.8 281.9l1.1 -0.1M115.7 237.8l2.2 -0.5M92.7 277.8l1.6 0.1M54.1 262.4l1.2 0.4M22.8 255.2l2.5 0.9M22.4 258.7l2.1 -0M7.4 269.9l1.3 -0.1M107.3 281.7l1.7 -0.3M116.8 239.5l2.2 -0.5M66 238.4l2.1 0.4M114.9 251.8l2.2 -0.3M68.6 262.6l2.7 0.3M124.4 274l1.4 -0.1M100.1 252.9l2.8 -0.2M85.6 277.4l0.9 -0.3M65.8 283.1l2.9 -0.3M11.6 244l1.1 0.1M104 280.3l1.2 -0.1M101.8 244.5l2.7 -0.1M30.6 261.4l1.4 -0.4M58 238.2l1 -0.3M27.7 264.3l1.3 -0.5M50.4 266.4l1.6 -0.2M14.5 245.1l1.8 0M31.1 248.5l1 0.2M43.8 257.1l1.2 -0.3M100.9 248.3l1.8 -0.5M29.5 256.8l1.8 -0.3M62.5 241.5l2.1 -0.4M58.6 273.5l2.2 -0.7M100.4 271.4l2.8 0.1M11.1 239.7l0.9 -0.3M13.6 239.2l1.2 0M12 249.6l1.7 -0.1M51.4 259.5l1.2 -0.1M6.3 256.5l2 0.1M59.1 266.8l1.8 0.2M114.7 236.5l0.8 0.2M10 247l2.7 -0M54.2 256.2l1.8 -0.3M39.2 251.7l1.4 -0.5M22 275.7l2.8 -0.8M38.5 272.9l2.4 -0.5M106.2 249.7l2.7 -0.7M9.7 254.4l2.4 -1M35.1 247.1l1.6 0.5M62.3 273.2l1.4 -0.3M0.2 272.3l1.1 -0.3M1.6 237.2l2.5 0M75.2 238.8l0.8 0M17.1 271.8l1.9 0.3M102.7 254.6l1.5 0.4M110.3 273.4l1.3 -0.5M55.1 245l1.2 0M87.9 242.4l2.8 -0.2M93.3 272.8l1.9 -0.4M27 282.5l2.8 0.8M4.1 235.1l2.4 -0.1M79.3 235.2l2.8 0.4M106.8 261.1l0.9 -0.1M100.8 282.4l2.4 0.9M97 264.1l2 -0.6M44.5 232l2.6 0.1M73.7 276.7l2.4 0.8M112.5 265.5l2.4 -0M71.5 271.8l2.3 -0.9M43.9 234.1l2.2 0.2M27.7 232.4l1.4 0.4M41.6 277.2l2.1 0.2M78.3 263.8l1 0.3M31.9 243.4l1.5 0.1M106 284l2 -0.5M112.9 250.6l2.1 0.4M102.9 238.6l2.6 0.4M116.3 267.8l1 0.1M40.4 273l2.1 -0.2M108.4 268.7l1.3 -0.5M45.8 241.8l0.8 0.3M7.2 240.5l0.9 0M106 240.4l2.1 -0.2M37.7 241.9l1.7 -0.1M39.3 277.4l2.5 -0.7M18.2 282.9l2.7 0.8M5 251.9l2.6 -1M84.8 231.6l2.7 0.7M11.5 260.3l0.9 -0.1M54.5 238.2l2 0.4M87 243.7l1.2 -0.1M65.6 234.6l2.2 -0.2M124.8 244.8l1.8 -0.3M85.1 274.6l1.8 0.5M55.3 256.5l1.7 -0.6M52.9 277.7l2.9 0.5M69.3 260l1.5 0.5M60 243l1 -0.1M85.2 270.2l1.1 -0M13.1 237.6l0.9 -0.4M74.1 245.6l0.9 0M105.8 259.3l1.8 -0.5M43.6 250.3l1.2 -0.3M111.2 250.2l2.9 0.1M29.2 237.5l2.4 -0.8M75.1 281.5l2.2 0M11.8 263.7l1.3 0.5M108.5 270.4l1.2 -0.5M21.4 269.8l2.1 0.2M33.3 237.4l2.8 -0.6M68.5 272.8l1.4 -0.2M122.5 258.1l3 0.2M97.6 255l2.4 0.1M53 283.7l1.8 -0.6M19.9 259.8l2.8 -1.1M-0.8 283.9l2.8 -0.2M76.2 284.6l2.4 -1.1M115.3 244.5l1.6 -0.1M28.3 255l1.7 0.1M28.8 283.9l2 -0.3M53.9 284l1.8 0.6M11.1 284.5l0.8 -0.3M121.1 274.3l2.7 -1M1.9 240.8l0.8 -0.3M73.4 280.5l2.2 -0.6M9.8 260.8l1.2 -0.3M22.5 261.4l1.4 0.4M61.5 253l1.1 0.1M85.8 248.8l1.9 -0.3M56.5 263.4l2.5 -1.1M74.2 254.8l2.3 -0.2M68.6 237.6l1.8 -0.4M48.7 277.2l2.3 -0.8M27.4 272.6l1.4 0.3M57 265.6l2 0.1M68.4 264.3l1.7 -0.4M113.4 232.2l1.1 -0.1M7 262.9l2.5 -1.1M55.5 255.8l2.2 -0.4M112.6 280.2l2.4 -0.6M102.1 247.5l2.1 -0.7M95.8 284.1l2.1 0.2M65.3 271.5l0.9 0.2M109.2 259.3l1.1 0M31.2 257l1.8 -0.3M18.2 245.5l1 -0.4M91.7 253.2l2.8 0.1M18.7 252.4l1.6 -0.3M29.4 240.4l2.2 -0.5M87.7 276.1l2.7 0.8M20.7 256.2l0.9 0M77.4 232.7l2.3 -0.9M0.6 270.5l0.9 -0.3M28.7 264.4l1.6 0.5M29.2 260.1l2.6 -0.5M77.7 265.4l1.6 -0.4M84 280.9l1.9 -0M19 254.9l1.9 0.2M81.3 259.7l2.7 0.3M116.6 281.7l3 -0M75.3 257.2l1.2 0.1M125.7 260.1l0.8 0M59.1 247.1l2.5 -0.1M41.8 256.6l1.6 0.2M71.9 274.5l2 -0.8M121.9 283.6l2.5 -0.4M33 261.1l2.3 0.6M8.4 266.8l2.8 0.1M34.8 234.6l2.7 -0.5M113.5 234.9l1.3 0.2M116.6 239.4l1.1 -0M71.6 271.4l2 0.5M62.5 283.8l1.8 -0.2M73.5 281.7l1.3 0.4M20.3 267.5l1.7 -0.5M71.1 245.5l1.7 0.6M23.4 254.7l1.5 0.5M99.6 259.6l2.6 0.9M114.6 267.4l2.9 0.5M42.5 249l0.9 -0.3M56.6 283.4l1 -0.1M78.5 271.2l1.7 -0.5M10.4 273l1.9 0.3M70.9 241.1l1 -0.4M49.7 250.4l1.1 0.1M0.2 257.7l2.3 -0.9M61.5 272.9l1.6 0.5M79.3 241.5l2.1 -0.1M98.7 268.1l2 -0.1M34.8 257l2.1 -0.7M17.3 283.6l2 -0.9M52.6 241.1l2.4 0.5M1.1 255.9l1.8 -0.5M110.6 258.6l2.5 -0.4M102.1 254.8l1.3 -0.6M61.7 274.5l2 0.6M86.3 270.9l2.2 0.7M66.6 282.1l1.4 -0.4M116.8 252.6l1.5 -0M76.4 264.4l1.9 -0.1M7.7 235.1l1 -0.4M105.7 248.1l1.4 -0M37.1 282.4l1.4 0.1M1.6 278.1l2.5 0.4M68.3 284.8l0.9 -0.2M34.5 255.7l2 0.2M41.6 250.3l1.2 0.2M4.3 233.4l1.6 -0.1M77.1 243.4l1.2 0.3" stroke="#36124e" stroke-width="2.2" stroke-linecap="round" fill="none"/>
<ellipse cx="38" cy="240" rx="11" ry="5" fill="#f3f1f6"/>
<ellipse cx="42.5" cy="245.5" rx="4.5" ry="3.5" fill="#f3f1f6"/>
<ellipse cx="19.5" cy="265.5" rx="6.5" ry="3.5" fill="#f3f1f6"/>
<ellipse cx="32" cy="281.5" rx="5" ry="2.5" fill="#f3f1f6"/>
<ellipse cx="21" cy="276.5" rx="4" ry="2.5" fill="#f3f1f6"/>
<ellipse cx="47.5" cy="259" rx="4.5" ry="3" fill="#f3f1f6"/>
<ellipse cx="7" cy="252.5" rx="4.5" ry="2.5" fill="#f3f1f6"/>
<ellipse cx="60" cy="243" rx="6" ry="4" fill="#f3f1f6"/>
<ellipse cx="73" cy="249.5" rx="4" ry="2.5" fill="#f3f1f6"/>
<ellipse cx="78" cy="260.5" rx="11" ry="6.5" fill="#f3f1f6"/>
<ellipse cx="94" cy="242" rx="6" ry="3" fill="#f3f1f6"/>
<ellipse cx="97" cy="249.5" rx="7.5" ry="4.5" fill="#f3f1f6"/>
<ellipse cx="80" cy="240.5" rx="5" ry="2.5" fill="#f3f1f6"/>
<ellipse cx="54" cy="251.5" rx="3" ry="3.5" fill="#f3f1f6"/>
<ellipse cx="97" cy="268" rx="5" ry="3" fill="#f3f1f6"/>
<ellipse cx="77" cy="273" rx="5" ry="3" fill="#f3f1f6"/>
<ellipse cx="60" cy="279" rx="6" ry="3" fill="#f3f1f6"/>
<ellipse cx="97" cy="279.5" rx="7" ry="3.5" fill="#f3f1f6"/>
<ellipse cx="55" cy="264" rx="3" ry="3" fill="#f3f1f6"/>
<ellipse cx="106" cy="249" rx="8" ry="4" fill="#f3f1f6"/>
<ellipse cx="116" cy="258" rx="7" ry="4" fill="#f3f1f6"/>
<ellipse cx="110" cy="276" rx="13" ry="6" fill="#f3f1f6"/>
</g></g>
<rect x="1.80" y="233.80" width="122.50" height="49.20" fill="none" stroke="#8c8c8c" stroke-width="0.9"/>
<g clip-path="url(#c2)"><g>
<rect x="126.8" y="233.8" width="122.5" height="48.8" fill="#5a3e7a"/>
<path d="M183.9 267.1l1.8 -1.1M249.9 257.7l1.9 -0.8M194.9 266.9l1 -0.4M210.5 274l1 -0.2M246.5 260.7l2.4 -0.9M184.7 252.2l0.8 -0.2M209.5 238.1l1.1 -0.6M127.6 275.5l1.5 -0.6M209.7 234.3l1.1 -0.4M159.2 257.5l2.5 -1.1M183 260.9l1.1 -0.3M146.7 274.2l1.6 -0.9M185.8 250.9l2 -0.9M213.3 243.4l1.2 -0.7M211.4 239.3l2.3 -1.1M220 254.1l1.9 -0.4M197.5 250.4l1.5 -0.4M125.7 269.6l2.5 -0.7M238.9 260.6l2.1 -1M170.2 233.7l1.6 -0.7M131.1 263.4l1.7 -0.4M243.5 232.6l1.3 -0.7M144.4 256.6l2 -0.5M192.1 272.2l1.5 -0.5M246.8 261.5l1.9 -1M164.9 258.5l1.4 -0.7M172.4 253.5l2.1 -1.2M241 284.1l2.2 -0.9M236.7 234l2.1 -1.4M193.6 283.1l1.3 -0.8M168.1 244.2l1.6 -0.4M241.8 233.8l2 -0.8M219.7 254.6l1.7 -0.9M167.2 279.1l2 -0.7M129.3 249.4l1.8 -0.5M145.8 255.1l1.3 -0.3M148.1 246.5l0.9 -0.5M180 252.5l1.3 -0.3M197 241.5l1.6 -0.4M130.6 238.3l1.2 -0.7M222.6 261.3l1.6 -0.8M242 260.1l1.3 -0.8M138 264.5l1.1 -0.3M192.9 276.7l1.5 -0.3M151.5 253.6l2.3 -0.7M211.4 250.4l2 -0.5M247.4 239.8l1.7 -1.1M146 275.7l2.5 -0.5M128.7 248.2l2.4 -0.8M161.9 278l1.4 -0.3M240 244.7l1.8 -0.5M249.8 284.3l1.3 -0.7M207.8 257.4l1.1 -0.6M228.4 267.3l1.7 -0.5M248.4 276.8l2 -0.7M189.5 255.1l1.4 -0.8M223.9 283.5l2.4 -1M239.8 261.1l1.6 -1.1M180.5 259.7l2.6 -0.9M209.5 267.5l0.7 -0.4M175.3 261.4l0.9 -0.3M126.9 250.2l2.3 -1.4M139.3 266.7l1.1 -0.4M235.7 245.8l2.1 -0.9M173.5 248.9l1.9 -1.1M140.8 281l2.2 -0.4M217.7 243.9l1 -0.2M126.4 251.8l2.3 -1.1M178.4 241.8l1 -0.4M240.5 233.5l0.8 -0.3M197.2 261l1.5 -0.5M243 272.8l1.4 -0.4M226.4 246.9l1.9 -0.5M234.1 284.2l2.1 -0.7M164.4 241.3l1.4 -0.9M195.1 256.1l1.9 -0.8M211.7 232.4l2 -0.6M192.1 260.7l0.9 -0.5M127.4 276.7l1.5 -0.7M171.9 242.1l1.4 -0.7M240.9 243.1l1.6 -0.7" stroke="#2a1440" stroke-width="1.6" stroke-linecap="round" fill="none"/>
<path d="M166.9 243.4l1.7 -1M135.2 284.6l2.3 -1.4M194.6 258.7l0.9 -0.3M247.6 267.2l1.4 -0.7M146.9 268.7l0.8 -0.4M200.1 270.5l1.6 -0.8M239.5 232.3l1.3 -0.4M248.5 285l1.5 -1M235.8 267.5l1.2 -0.7M181.2 264.6l0.8 -0.4M149.7 256.9l0.9 -0.3M214 242l1.3 -0.4M202.6 238.7l1.8 -0.6M197.6 236l1.3 -0.8M142.1 236.8l1.4 -0.4M211.1 247.9l1.6 -1M182.6 273.4l0.9 -0.2M184.7 274.3l1 -0.4M225.2 247.3l2.5 -0.9M226.8 274l1.7 -1M204.9 276.6l1.9 -0.5M177.7 266.8l1.4 -0.4M229.9 237.7l1.3 -0.3M247.7 280.4l2.3 -0.5M229.1 243.7l2.1 -1.4M129.7 274.9l1 -0.6M200.6 237.6l2 -0.8M136.7 232.4l1 -0.4M204.3 256.9l1.9 -0.9M185.9 277.2l2.1 -0.4M198.7 263.2l2.3 -0.8M173.6 266.8l1.2 -0.8M142 238.7l1.5 -0.9M125.5 244.1l1.7 -0.5M219.8 249.9l1.5 -0.4M153.1 252.7l1.7 -1.1M218.3 245.6l1.4 -0.9M145.7 261.1l1.9 -0.7M166 251.8l2.6 -0.5M132.5 265l2.5 -0.5M202.2 277.4l1 -0.5M233.5 240.9l1.5 -1M184.5 282.6l1.7 -0.3M154 260l2.1 -0.9M169.3 248.1l0.8 -0.2M173.1 283.5l2.2 -1.3M242.2 239.7l1.2 -0.3M220.6 261.5l2.1 -1.1M179.1 233.3l1.6 -0.8M134.3 261.2l2.4 -1.1M166.3 236.1l1.9 -1M221.9 268l2.4 -0.8M229.6 233l1 -0.4M212.3 271.8l2.4 -0.7M178.9 272.2l1.2 -0.2M169.3 237.1l1.6 -0.7M235.4 236.9l2.6 -0.9M179.5 280.3l1.2 -0.8M189 267.6l1.7 -0.5M190.7 270.4l2.3 -1.5M151.4 245.5l0.9 -0.4M206.2 239.9l1.6 -1M203.6 267l0.8 -0.3M217.3 239.5l2.6 -0.6M201 268.9l1.6 -1M190.6 265.4l1.2 -0.6M189 273.9l0.8 -0.5M125.4 272.3l1.4 -0.7M234.7 255.4l2.5 -1.2M240 284.8l0.9 -0.5M139.4 253.2l1 -0.5M209.6 277.9l2.4 -1.1M211.2 237.4l2.2 -1.3M144.9 284.6l2.3 -1M246.2 244.5l0.7 -0.4M226 253.9l0.9 -0.4M124.9 256.6l1.3 -0.7M126.9 249.9l1.1 -0.6M246.8 264.9l0.8 -0.5M230 241.9l2 -0.6M220.8 269.7l2.3 -1.4M203.6 277.8l1.2 -0.8M248 268.2l2.3 -1.5M222.3 262.8l1.9 -0.8M142.5 242l1.8 -1M146.6 268l1.5 -0.3M234.5 245l2 -0.4M201.2 277.2l2.2 -1.5M131.9 282l1 -0.3" stroke="#2a1440" stroke-width="2.2" stroke-linecap="round" fill="none"/>
<path d="M119.2 247.9L145.8 235.8L146.7 235.1L147.3 234.1L150.6 223.2L150.6 221.9L150.1 220.7L149.1 219.9L147.9 219.6L115.4 219.6L114 220L113 221L112.6 222.4L112.6 245.3L113 246.7L114.1 247.8L115.6 248.1ZM112.6 290.2L113 291.7L114.2 292.7L115.7 293L117.2 292.4L122.6 287.9L137.7 269.6L138.3 268.1L138.1 266.6L137 265.4L135.5 265L115.4 265L114 265.4L113 266.4L112.6 267.8ZM140.9 258.3L142 259.1L143.4 259.3L144.8 258.8L152.2 253.1L153.1 251.8L153.2 250.2L152.3 248.8L150.4 247.7L148.8 247.9L140.2 251.7L138.9 252.7L138.5 254.4L139.1 255.9ZM137.1 263.4L138.6 263L139.6 261.8L139.9 260.3L139.3 258.9L135.8 254.2L134.2 253.2L119.4 249.5L115.2 249.7L113.9 250.1L113 251.1L112.6 252.5L112.6 260.6L113 262L114 263L115.4 263.4ZM145 260.6L144.1 261.7L143.9 263.1L144.4 264.5L145.5 265.4L147.6 266.4L149.7 266.6L156.6 264.4L158 263.4L158.6 261.8L158.7 255.9L158.2 254.4L157.1 253.3L155.6 253L154.2 253.6ZM148 240.1L147.1 238.8L145.7 238.1L144.1 238.3L129.4 245.2L128.3 246L127.8 247.3L127.9 248.6L128.6 249.8L129.8 250.4L134.6 251.7L136.5 251.5L147.4 246.7L148.5 245.9L149 244.7L149 243.4ZM151.1 245L151.9 246.3L156 250L158.9 251.2L160.2 251.3L168.2 250.1L169.4 249.6L170.3 248.6L170.6 247.3L170.6 222.4L170.2 221L169.2 220L167.8 219.6L155.4 219.6L153.7 220.2L152.7 221.6L148.6 235.1L148.6 236.7ZM158 281.5L157.6 280.2L156.7 279.2L151.4 275.6L150 275.1L148.5 275.4L123.7 289.2L120.4 291.8L119.5 292.9L119.3 294.3L119.8 295.5L120.8 296.5L122.1 296.8L155.2 296.8L156.6 296.4L157.6 295.4L158 294ZM135.7 274.5L135.1 275.9L135.3 277.4L136.3 278.6L137.8 279.1L139.2 278.7L147.2 274.3L148.1 273.5L148.6 272.4L148.2 269.6L147.7 268.5L144.8 266.8L143.6 266.6L142.4 266.8L141.4 267.6ZM179.1 277.7L178.4 276.6L177.2 276L169 274L167.7 273.9L166.6 274.5L160.6 279.2L159.8 280.2L159.5 281.4L159.5 294L159.9 295.4L160.9 296.4L162.3 296.8L182.3 296.8L183.6 296.5L184.6 295.6L185.1 294.3L184.9 293ZM160.2 262.1L160.6 263.6L161.8 264.6L164.4 265.9L165.8 266.2L167.2 265.7L172.4 262.2L173.2 261.3L173.6 260.1L173.4 258.9L171.4 253.4L170.7 252.4L169.6 251.8L168.3 251.7L162.6 252.5L161.4 253L160.6 254L160.3 255.3ZM150.5 272.1L151.6 273.7L157 277.5L158.7 278L160.3 277.4L165.1 273.6L166 272.3L166 270.6L165 268.2L164.1 267.5L160.3 265.7L158.2 265.6L152 267.5L150.9 268.3L150.2 269.5ZM188.8 244L189.5 245.1L190.7 245.7L192 245.8L203.7 243.5L205.2 242.6L205.9 241.1L208.2 222.7L207.9 221.2L206.9 220L205.4 219.6L184.2 219.6L182.9 219.9L181.9 220.8L181.4 222L181.5 223.3ZM176 250.8L174.7 251.1L173.8 252L173.3 253.3L173.5 254.6L175.4 259.5L176 260.4L177 261.1L182.3 263.1L184 263.2L185.4 262.4L188.7 258.8L189.5 257.2L189.2 255.5L187.1 251.9L186 250.8L184.5 250.4ZM167.7 270.6L168.4 271.8L169.7 272.5L177.2 274.3L178.8 274.3L180 273.4L183.6 269.3L184.2 268.1L184.1 266.7L183.5 265.6L182.4 264.8L176.7 262.7L175.4 262.5L174.1 263L168.6 266.7L167.5 268.1ZM187.4 295L188.4 296.3L190 296.8L195.5 296.8L197 296.4L198 295.3L198.3 293.9L197.3 273.8L196.6 272.2L195.1 271.2L187.5 269.5L186 269.5L184.7 270.4L181.2 274.5L180.6 275.9L180.7 277.4ZM172.2 246.4L172.6 247.8L173.7 248.9L175.1 249.2L185 248.8L186.2 248.5L187.2 247.6L187.6 246.4L187.5 245.1L179.2 221.5L178.2 220.1L176.5 219.6L173.6 220L172.6 221L172.2 222.4ZM190.8 247.6L189.6 248.2L188.8 249.2L188.5 250.5L188.9 251.8L191 255.5L191.8 256.4L193.1 256.9L203.2 258.1L204.4 258L205.5 257.4L208.9 254.1L209.7 252.2L209.8 250.9L209.3 249.1L207.1 246.1L205.9 245.1L204.3 245ZM219.9 289.4L219.9 288.2L216.7 274L216.1 272.9L215.2 272.1L206.6 268.1L205.2 267.8L203.9 268.2L200.1 270.6L199.1 271.7L198.8 273.1L199.9 294.1L200.4 295.5L201.4 296.4L202.7 296.8L215.9 296.8L217.1 296.5L218.1 295.8L218.6 294.7ZM186.7 263.3L186 264.6L186 266L186.8 267.3L188.1 268L196.6 269.9L197.7 270L198.8 269.6L202.9 266.9L203.9 265.9L204.2 264.4L203.8 260.9L202.9 260L201.7 259.5L192.9 258.4L191.6 258.6L190.5 259.3ZM232.1 239.3L232.8 240.7L234.1 241.5L260 248.6L261.2 248.6L262.4 248.1L263.2 247.1L263.5 245.9L263.5 222.4L263.1 221L262.1 220L260.7 219.6L231.6 219.6L230 220.1L229 221.3L228.8 222.9ZM205.8 264.3L206.3 265.7L207.4 266.7L215.3 270.4L216.9 270.6L218.3 269.9L223.6 265.2L224.3 264.1L224.5 262.8L224 261.5L222.9 260.6L212.3 255.5L210.7 255.3L209.2 256L205.9 259.5ZM238.1 275.2L237 275.4L236 276L222.2 288.7L221.4 290.1L220.6 293.3L220.7 295L221.7 296.3L223.3 296.8L260.7 296.8L262.1 296.4L263.1 295.4L263.5 294L263.5 280.1L263.2 278.7L262.2 277.7L261 277.3ZM219.2 271.3L218.4 272.5L218.3 274L220.3 282.6L221 283.8L222.2 284.6L223.6 284.7L224.9 284L234.4 275.2L235.2 273.9L235.2 272.4L234.1 268.7L233.5 267.6L232.5 266.9L228.5 265.2L226.9 265L225.5 265.7ZM210 247.4L211.2 248.3L212.8 248.5L227.1 245.8L228.2 245.3L229 244.5L230.3 242.5L230.7 240.4L227 221.9L226.5 220.7L225.5 219.9L224.2 219.6L212.7 219.6L211.4 219.9L210.4 220.8L209.9 222.1L207.4 242.4L207.9 244.4ZM215.4 249.6L214.2 250.2L213.3 251.3L213.1 252.7L213.6 254L214.7 254.9L224.1 259.4L225.8 259.6L227.3 258.8L230.5 255.5L231.3 253.9L231 252.3L229.3 249L228.1 247.8L226.3 247.5ZM232.6 252L233.6 253.1L234.9 253.5L256.2 254.9L257.5 254.7L258.6 253.8L259.1 252.6L259 251.2L258.3 250.1L257.1 249.4L234.1 243.1L232.3 243.2L231 244.3L230.2 246.3L230.5 247.7ZM228.9 259.5L228.2 260.7L228.2 262L228.7 263.2L229.8 264L233.4 265.6L235.4 265.6L247.4 261.3L248.6 260.4L249.2 259.1L249 257.6L248 256.4L246.6 255.9L234.5 255.1L233.3 255.3L232.3 256ZM263.5 261.2L263.2 259.9L262.3 258.9L261.1 258.4L259.8 258.6L237.9 266.4L236.7 267.2L236.1 268.5L236.1 269.9L236.7 271.7L237.6 273.1L239.1 273.7L260.4 275.6L262 275.3L263.1 274.3L263.5 272.8Z" fill="#f3f1f6"/>
<path d="M141.7 264.1l0.7 0.1M141.4 261.7l2.1 -0.1M149.7 246.3l2 -0.3M134.6 252.6l2.1 0.3M148 267.6l1.1 0.3M158.5 251.8l2 0.8M155.1 251.2l1.9 -0.2M146.7 236l1.6 -0.2M149.4 273.8l1.4 -0.3M141.5 265.1l2.2 -0.5M178.3 275.5l1.7 0.2M166.8 272.7l1.4 0M165.1 267.8l1.7 -0.7M170.5 250.5l1.2 -0.1M206 243.7l0.8 0M174.2 261.1l2 0.4M183.9 264.7l0.8 -0.1M197.2 270.6l1.5 0.9M186.4 249.6l0.7 -0.1M188.6 247.1l0.9 0.1M190.3 257l1.7 0.9M204.1 259.3l1.3 -0.3M216.7 272.3l0.8 -0.5M204 266.4l2.3 0.2M209.2 253.8l2.4 -0.2M236.3 274.4l0.7 -0.2M231.2 241.4l1.2 0.5M225.4 261.5l1.3 -0.4M232.4 254.1l0.9 0.1M228.1 246.6l1.5 -0.8M225.9 263.4l1.6 0.3" stroke="#2a1440" stroke-width="2.6" stroke-linecap="round" fill="none"/>
</g></g>
<rect x="126.80" y="233.80" width="122.50" height="48.80" fill="none" stroke="#8c8c8c" stroke-width="0.9"/>
<g clip-path="url(#c3)"><g>
<rect x="1.8" y="294.5" width="122" height="50.5" fill="#5a3e7a"/>
<path d="M31.4 330.1l2.1 -0.5M80.8 329.2l2.4 -0.8M14.3 330l2.8 -0.5M92.6 344.8l2.1 -1.1M67.9 323.7l2.5 -0.8M24.6 339.3l1.5 -0.5M112.8 331.1l1.2 -0.5M21.6 303.4l2.2 -0.9M19.9 316.1l1.9 -0.5M121.2 337.9l1.9 -0.8M124.9 299.5l1.2 -0.7M26.8 304.3l2.2 -1M25.1 311.8l0.8 -0.4M102.9 304.7l1.3 -0.6M19.7 341.1l2.2 -0.5M114.3 329.7l1 -0.2M42.7 336.4l1.2 -0.4M64.5 343l1.6 -0.6M65.8 309.5l2.4 -1.3M58.1 307.6l2.2 -1M65.5 321.8l1.2 -0.7M23.5 313.4l1.5 -0.9M60.1 320.1l0.9 -0.6M37.7 341.1l1.7 -0.7M25.8 333.6l1.9 -0.9M97 329.9l1.3 -0.5M91 316.4l2 -1.1M29.1 320.5l0.7 -0.4M116 337.4l2.3 -0.8M83.3 325l1.1 -0.7M74 295.9l2 -0.7M71.7 334.8l2.4 -1.2M123.3 317.2l1.5 -0.6M104.9 321.7l1.6 -0.6M25.1 345.9l0.8 -0.5M119.3 323.2l1.8 -0.9M19.5 302.8l0.8 -0.4M81.8 331.4l2.1 -0.6M13.4 311.6l0.9 -0.2M92.4 304.7l2.1 -1.3M107.2 345.3l1.3 -0.3M77.7 298.3l1.7 -0.6M87.8 324.1l1.6 -0.5M0.7 343l2.1 -0.7M40.7 311.8l1 -0.6M35.3 323l1.6 -0.4M92.6 341.4l1.8 -0.7M4.1 312l2.1 -0.9M49.9 340.3l1 -0.2M61 319.7l1.7 -1.1M6.4 336.5l1.8 -1M65.5 300.7l1.1 -0.3M21.7 296.4l1 -0.4M97.3 296.4l1.8 -0.9M23 342.8l2 -1M89.4 341.1l2.1 -0.4M55.1 325.5l2.3 -0.5M71.7 343.9l2.1 -0.6M29.9 309.6l1.6 -0.5M95 317.7l2.2 -0.6M75 342.4l2.2 -0.5M11.8 294.8l1.2 -0.8M12.6 312.7l1.9 -0.6M92.9 319.3l1.8 -0.7M9 314.8l1.6 -0.4M74.3 344.5l1 -0.4M4.4 309.7l2.5 -1.1M52.7 296.9l1.8 -1M18 333.8l2.2 -0.7M105.5 327l0.8 -0.2M93.8 307.1l2.5 -1M26.1 330l2.5 -1.2M62.7 307.3l2.1 -1M66.3 342.2l0.9 -0.3M101.7 339.5l1 -0.3M83.2 327.2l1.5 -0.5M50 296.6l1.3 -0.4M45.3 303.1l1.3 -0.3M102.1 295.3l2.6 -0.7M122.1 298.1l2.6 -0.5M99.4 338.9l0.7 -0.4M91.3 339.5l1.4 -0.7M42.7 326.2l1.1 -0.4M94.6 315.1l2.4 -0.9M93.4 310.9l2.5 -0.5M77.2 297l0.9 -0.3M8.6 316.7l1 -0.4M-1 298.6l2.5 -0.5M119.8 317.1l1.2 -0.7M113.6 319.2l2.3 -0.5M16.8 298.7l1.9 -1M43.8 304.3l1.7 -0.9" stroke="#2a1440" stroke-width="1.6" stroke-linecap="round" fill="none"/>
<path d="M15.7 321.7l1.1 -0.6M9.4 336.4l2.3 -1.2M60.3 334l1.8 -0.8M110.8 327.8l1.9 -0.9M85.9 323.3l2 -1.2M66.8 308.7l1 -0.5M57 325.9l1.4 -0.8M7.8 328.6l2.4 -1.2M116.8 295l1 -0.3M79.5 301.4l1.6 -0.4M72.3 324.9l1.5 -0.4M117 321.7l2.1 -1.4M40.7 320.1l2.5 -1M91.8 306.8l2.1 -0.5M52.2 305.8l2.2 -0.8M7.2 295.4l2.5 -0.8M22.9 319.1l1.7 -0.9M65.9 344.7l0.9 -0.6M42.8 298.2l1.7 -0.6M4.8 321.8l1 -0.3M105.2 341.7l0.9 -0.5M46.3 343.6l0.9 -0.6M107.9 347.5l2.2 -1M115.1 294.9l0.9 -0.4M119.3 344.8l1.3 -0.8M50.4 301.1l1.9 -0.4M75.6 306.3l1.5 -1.1M111.2 342.3l2 -0.7M96.7 340.5l1.5 -0.4M100.8 320.6l0.9 -0.2M41.2 329.5l2.5 -0.8M9.4 304.5l1 -0.5M10.7 335.1l1.2 -0.7M34.3 324.3l1.9 -0.4M59.5 338.5l1 -0.3M9.8 298.3l2.3 -0.6M29.4 301.5l2.2 -1.5M69.5 327.2l2.6 -0.7M95.9 319.5l1.8 -0.5M99.8 314.4l1.6 -0.3M97.6 316.8l1.8 -0.5M2.8 345.7l0.8 -0.4M54.2 304.2l2.1 -1M49.5 336.7l2.1 -0.8M25.2 294.7l0.8 -0.3M2.4 331.2l1.7 -1M3.7 337.9l1.2 -0.3M82.9 319.9l1.8 -1M62.2 316.4l2.2 -1M32.3 332.2l1.5 -0.9M52.2 305.9l1.6 -0.5M57.4 332.2l2.4 -1.2M47.8 308.7l1.7 -0.5M102.1 319.8l0.9 -0.4M75 330.4l1.3 -0.7M1.7 301.7l1.4 -0.4M-1.1 316l2 -0.9M36.8 332.4l1.5 -1M123.9 295.8l1.1 -0.5M16.5 315.4l1.5 -0.4M69.6 296.3l1.6 -0.5M14.8 341.5l0.9 -0.5M23.2 320.7l1 -0.3M57.9 315.8l1.4 -0.7M77.7 312.3l1.8 -0.8M118.2 298.5l1.2 -0.3M46.3 308.3l1.4 -0.3M93.7 339.9l2.5 -0.6M2.7 297.7l1.8 -0.8M20.3 303.8l2.3 -0.4M12.5 336.1l1.6 -1M103.4 296.2l2.2 -1.5M31.1 342.1l1.7 -0.6M3.5 309.1l1.8 -1.1M96.1 338.4l2 -0.5M9.5 304.1l1.6 -0.4M35.9 309.1l2.1 -0.8M4.5 344.4l1.3 -0.4" stroke="#2a1440" stroke-width="2.2" stroke-linecap="round" fill="none"/>
<path d="M6.5 321.1L12.9 317L14 315.5L15.5 310.2L15.6 308.9L15 307.8L14 306.9L12.8 306.7L-9.7 307.2L-11 307.6L-12 308.6L-12.4 310L-12.4 321.4L-11.9 322.9L-10.7 324L-9.1 324.1ZM14.2 305L15.8 304.5L16.8 303.2L22.8 286.7L22.7 282.9L22.3 281.6L21.3 280.6L20 280.3L-9.6 280.3L-11 280.7L-12 281.7L-12.4 283.1L-12.4 302.8L-12 304.2L-11 305.3L-9.5 305.6ZM24.5 285.1L25.1 286.6L38.4 304.4L39.7 305.3L41.3 305.4L55.2 301.7L56.5 301L57.2 299.7L61 283.8L60.9 282.1L59.9 280.8L58.3 280.3L27.2 280.3L25.7 280.7L24.7 281.8L24.4 283.3ZM19.5 333.4L20.7 332.4L21.1 330.9L20.7 329.4L19.5 328.3L8.1 322.9L6.4 322.7L-10.1 326L-11.3 326.5L-12.1 327.5L-12.4 328.7L-12.4 344.1L-12.1 345.4L-11.1 346.4L-9.8 346.9L-8.4 346.6ZM13.1 318.8L12.1 319.9L11.9 321.4L12.3 322.7L13.5 323.7L22.3 327.9L23.7 328.1L25.1 327.6L28 325.6L29 324.3L29.1 322.7L28.4 321.3L27 320.5L15.8 318.1L14.7 318ZM33.4 343.9L32.5 342.2L24.2 334.8L22.7 334.2L21.1 334.4L-10.8 349.5L-12 350.6L-12.4 352L-12.4 356.4L-12 357.8L-11 358.8L-9.6 359.2L32.4 359.2L33.9 358.8L35 357.6L35.2 356ZM25.5 329.3L24.5 330.6L24.4 332.2L25.2 333.6L31.5 339.2L32.9 339.9L34.4 339.7L35.7 338.7L38.1 335L38.6 333.6L38.3 332.2L37.4 331.1L31.6 327.2L30 326.7L28.4 327.2ZM16.3 313.5L16.3 315L17 316.3L18.4 317L29.6 319.5L31 319.5L32.1 318.8L33.8 317.4L34.5 316.1L34.6 314.7L34 313.4L32.8 312.6L20.6 308.7L19.2 308.6L17.8 309.3L17.1 310.6ZM32.6 320.6L31.5 322.8L31.6 324.5L32.6 325.9L40 330.9L41 331.3L42.2 331.3L48.2 330L49.7 329.1L50.4 327.5L50.4 323.4L49.1 321.7L47.9 321L37.8 317.8L36.3 317.7L35 318.4ZM18.5 303.3L18.4 304.7L19 306.1L20.3 306.9L33 311L34.2 311.1L35.4 310.7L37.2 308.4L37.6 306.8L37.1 305.2L27.2 292.1L26 291.1L24.5 291L23.1 291.6L22.3 292.8ZM36.9 356.8L37.4 358L38.4 358.9L39.7 359.2L44.8 359.2L46.1 358.9L47.1 358L47.6 356.8L50.7 334.9L50.6 333.6L49.8 332.5L48.7 331.8L47.3 331.8L42.4 332.9L40.7 334.1L35.5 341.8L35 343.8ZM46.5 318.9L47.8 319L48.9 318.5L49.8 317.6L55.3 308.3L55.7 307.1L55.4 305.8L54.6 304.7L53.5 304.2L52.2 304.2L40.8 307.2L39.1 308.4L36.8 311.9L36.4 313.9L37.1 315.5L38.4 316.3ZM83.8 299.7L85 301.1L86.7 301.4L93.5 300.5L94.8 300L95.7 298.9L102.7 284.3L103 282.9L102.6 281.6L101.5 280.6L100.2 280.3L79.6 280.3L78.3 280.6L77.3 281.6L76.8 282.9L77.1 284.2ZM66.2 338.4L66.2 337L65.5 335.7L64.2 335L55.7 332.9L54.2 332.9L52.9 333.8L52.3 335.2L49.3 356L49.6 357.6L50.6 358.8L52.1 359.2L58.5 359.2L59.7 358.9L60.7 358.2L61.2 357.1ZM51.8 317.3L51.4 318.9L51.9 320.4L53.2 321.4L54.8 321.5L64.4 319.5L65.5 319L66.3 318.1L66.6 316.9L66.8 312.6L66.6 311.3L65.7 310.2L61.4 307.1L60 306.6L58.5 306.9L57.4 307.9ZM59 303.1L59.8 303.9L68 309.6L78.7 308.1L80.1 307.5L82.2 305.7L83.2 303.9L83 302L74.4 282L73.3 280.8L71.8 280.3L65.7 280.3L64.5 280.6L63.5 281.3L63 282.4L58.6 300.7ZM52.1 325.8L52.1 329.2L52.9 330.2L54.1 330.8L65.4 333.6L66.7 333.6L67.8 333.1L68.6 332.1L71.2 326.7L71.5 325.5L71.2 324.3L70.5 323.3L68.1 321.4L67 320.9L65.8 320.9L54.3 323.2L52.8 324.1ZM71.1 336.4L69.7 336.5L68.6 337.3L67.9 338.5L63.3 355.7L63.4 357.4L64.4 358.7L66 359.2L87.4 359.2L88.7 358.9L89.7 358L90.2 356.8L90 355.4L84.6 340.6L83.8 339.4L82.6 338.8ZM68.2 318L68.4 319.2L69.2 320.3L72.5 322.9L74.6 323.5L81.4 322.9L82.6 322.5L83.6 321.5L83.9 320.2L83.7 318.9L80.3 311.6L79 310.3L77.3 310L70.8 311L69.6 311.5L68.7 312.4L68.4 313.7ZM92 356.2L92.9 357.4L94.4 358L95.9 357.8L97 356.7L97.5 355.2L97.5 333.5L97.2 332.3L96.3 331.3L93 330.4L91.5 330.6L90.3 331.6L86.4 337.4L85.9 338.6L86.1 339.9ZM82.4 307.6L81.5 309.1L81.7 310.9L85.2 318.5L86.3 319.7L87.8 320.1L89.3 319.6L94.2 316.3L95.2 315.1L95.4 313.6L94.8 312.2L92.9 310.4L85.6 307.1L84 306.8ZM70.8 331.2L70.6 332.8L71.3 334.3L72.8 335.2L82.5 337.2L84.1 337L85.4 336L88.7 331L89.2 329.3L88.6 327.7L86.6 325.3L85.5 324.5L84.2 324.3L75.3 325.1L73.9 325.6L73 326.6ZM89.5 321.5L88.5 322.7L88.3 324.2L88.9 325.6L90.7 327.7L92.3 328.7L95.6 329.2L96.9 329.2L98 328.5L98.7 327.5L101.5 320L101.6 318.3L100.3 316.5L98.6 315.9L96.9 316.4ZM91.6 302.4L90.3 302.9L89.4 304L89.2 305.4L89.7 306.8L91.7 308.1L92.9 308.3L94.1 308L95.6 306.6L96.1 305.4L96 304.1L95.4 303L94.3 302.3ZM98.5 302.2L100.1 302.7L102.9 302.7L104.4 302.3L105.4 301.2L105.7 299.7L105.4 294.5L104.9 293.2L103.8 292.2L102.4 291.9L101 292.4L100 293.5L97.6 298.6L97.3 299.9L97.6 301.1ZM103.4 331.6L100.5 331.8L99.5 332.9L99 334.3L99 351.7L99.4 353L100.3 354L101.5 354.5L102.8 354.4L103.9 353.6L104.6 352.4L108.3 337.6L108.3 336.2L107.6 335L105.2 332.5ZM100.9 326.2L100.7 327.5L101.2 328.7L102.1 329.6L103.4 330L105.4 329.3L108.6 326.5L109.4 325.4L109.4 322.9L108.9 321.5L106.3 320L104.8 319.9L103.5 320.4L102.6 321.6ZM97 312.3L98.1 313.1L99.5 313.3L100.8 312.8L105.3 309.7L106.1 308.7L106.5 307.4L106.1 305.7L105.1 304.7L103.7 304.3L100.8 304.3L99.5 304.6L98.5 305.4L96.4 308.2L95.9 309.3L95.9 310.6ZM107.3 300.2L107.8 301.6L109 302.6L110.5 302.8L135.5 299.9L136.8 299.4L137.7 298.4L138 297.1L138 283.1L137.6 281.7L136.6 280.7L135.2 280.3L109 280.3L107.6 280.7L106.5 281.8L106.2 283.3ZM103.8 312.6L102.9 313.8L102.7 315.2L103.2 316.6L104.4 317.5L108.6 319.3L109.9 319.5L111.1 319.1L113.9 317.4L115 316.3L115.3 314.8L114.7 313.3L113.5 312.4L108.7 310.6L107.4 310.5L106.2 311ZM112.2 336.5L110.6 337.1L109.7 338.6L105.4 355.7L105.5 357.4L106.5 358.7L108.1 359.2L135.2 359.2L136.6 358.8L137.6 357.8L138 356.4L138 337.8L137.6 336.3L136.5 335.3L135 335ZM121.7 315L120.5 315.4L112.4 320.2L111.3 321.4L111 322.9L111.8 324.7L113.4 325.5L134.7 329.2L136.3 329.1L137.5 328L138 326.5L138 316.5L137.6 315L136.4 314L134.9 313.7ZM108.2 329L107.4 330.3L107.3 331.7L108 333.1L110 334.8L111.2 334.9L121.9 334.2L123.2 333.8L124.2 332.9L124.5 331.6L124.3 330.3L123.5 329.2L122.2 328.7L112.2 326.9L110.9 327ZM111.5 304.3L110.1 304.9L109.2 306L109.1 307.5L109.7 308.9L110.9 309.7L120.3 313.2L121.6 313.4L135.5 312.1L136.8 311.6L137.7 310.6L138 309.3L138 304.3L137.6 302.8L136.4 301.8L134.9 301.6Z" fill="#f3f1f6"/>
<path d="M6.5 321.3l1.8 0.9M16.9 306.5l0.9 0.5M16 305.7l1.5 0.2M57 302.2l1 -0.4M29.4 325l1.2 0.2M30.8 320.8l1 -0.2M14.2 317l0.5 -0.1M33.4 342.4l1.2 0.1M22.2 332.9l1.5 -0.5M35.2 316l1.7 0.7M34.5 312.2l1.9 1M40.5 332.5l0.7 -0.2M50 330.6l2 -0.8M48.4 320.5l1.2 -0.1M51.4 331.5l1.4 -0.8M38.4 307.2l1.7 -0.9M83.6 302.4l1.1 0.4M94.4 300.9l2.2 0.2M67.5 335.2l0.8 -0.2M51 323.3l1 -0.6M66.4 319.1l1.8 1.2M66.6 311.1l2.3 -0.8M58 304.6l1.4 -0.9M79.2 309.1l1.3 -0.6M83.5 305.3l0.6 0.1M72.3 324.8l1.7 -0.6M97.7 330.5l1.1 -0M89.8 329.5l2.2 -0.4M83.7 338.1l1.9 0.7M85.1 323.1l1.7 0.3M102.8 317.8l0.7 0M99.1 314.5l0.6 0.4M97.6 314.7l0.7 -0M97.8 303.5l2.3 0.1M108.9 335.5l1.2 0.8M97.6 330.2l1.7 0.5M110.3 325.9l0.6 -0.2M106.6 309.1l1.4 0.4M105.7 303.7l2 -0.5M93.7 310l0.6 0M109.4 320.7l1.1 -0.1M119.7 313.8l2.3 1" stroke="#2a1440" stroke-width="2.6" stroke-linecap="round" fill="none"/>
</g></g>
<rect x="1.80" y="294.50" width="122.00" height="50.50" fill="none" stroke="#8c8c8c" stroke-width="0.9"/>
<g clip-path="url(#c4)"><g>
<rect x="126.8" y="294.5" width="122.5" height="50.5" fill="#e6e0f4"/>
<path d="M209.3 314.9l4.1 -1.5M232.8 310.1l4.3 -0.8M143.9 329.4l2.6 -1.2M174.2 346.5l3.3 -0M138.1 301.2l3.2 0.1M172.7 317.2l3.8 -0.4M224.6 298l2.2 -0.7M247.6 298.4l4.8 0.5M160.1 334.1l3.1 -0.1M192.4 334.4l2.9 0.6M225.8 299.4l2.1 0.5M155.7 317.2l3.6 -0.6M155.7 313.1l3.1 -1.1M135.1 337.1l2.3 -1M246.8 338.8l4.3 1.1M195.5 318.5l4.8 -1M232.1 295.4l3.9 0.9M239.1 297l4.2 -1.6M182.2 340.5l3.8 -1.7M245.7 306l4 0.1M245 321.3l4.5 -0.6M209.3 345.7l3.1 -1M171.1 331.3l2.7 0.4M219.7 337.4l2.6 0.4M153.7 297.5l4.6 -0.2M181.9 341.9l2 -0.8M184 309.5l2 -0.8M209.2 319.3l3.8 -0.7M140.1 346.8l2.6 0.3M164.9 321.8l4.6 -1.7M162.2 341.8l2.4 -0.7M137.3 334.6l3.3 0.3M211.7 323.1l4.4 -1.8M191.6 346.5l3.6 -1.1M139.5 339.3l3.8 0.6M219.9 344.4l4.6 -0.1M187.2 327.1l4.6 0.8M237.1 311.1l2.8 -0.3M203.3 295.4l3.1 -1.4M190.7 303.9l3.6 -0.7M213.9 336.3l2.6 0.1M127.8 307.8l2.7 -0.6M203.4 307.2l3.4 0.3M248 309.6l3.6 0.5M224.7 293.7l2.9 -0.8M123.1 324.5l4.2 -1.7M204.7 334.2l2.4 -0.7M164.7 320l2.6 0.4M202 337.8l2 -0.1M236.4 295.2l4.9 0.3M175.3 340.2l4 0.5M222.6 319.8l2.8 -0.3M122.4 312.1l4.9 -0.4M127.4 293.8l2 -0.8M219.6 325.7l3.1 -0.5M134.6 327.4l2.6 0.5M228.1 309.6l4 0.8M158.9 308.5l2.9 -0.2M205.3 343l2.8 -0.6M142.6 307.3l3.8 -0.3M249.4 323.3l3.2 -1M233.6 308.4l4.9 -0.4M242.2 293.8l4.2 -0.1M180.4 299.1l2.2 -0.6M219.5 306.3l3.6 0.1M127.4 317l4.4 -1.1M184.5 327.6l4.5 0.3M132.9 315.2l3.6 0.1M182.6 307l2.4 -0.6M164.2 305l2.8 0.6M200 338.9l3.2 0.3M130.8 294.5l4.3 -0.9M178.8 338.1l3 -1.2M197.2 341.2l3.2 -0.1M128.7 341.8l3.9 -0.7M153.1 299.7l2.2 0.4M150.2 302.4l2.2 0.1M173.1 342.3l4.7 0.3M224.9 318.8l2.9 0.6M140.3 296.2l2.5 -1M137.7 298.1l2 0.3M129.7 313l2.5 0.2M225.4 342.8l2.3 -0.2M216.4 322.1l3.4 -1.4M178.6 342.2l3 -0.6M191.7 336.1l3 -0.4M159 323.6l4.8 0.5M195.3 314.3l3.4 -1.3M225.4 330.3l2.2 0.1M188.1 300.3l4.1 0.7M160.8 318.8l2.3 -0.6M151.3 324.8l3.8 -1.1M218.8 335l2.5 0.4M249.1 299.6l2.9 -0.1M240.3 333.1l3.9 -1.3M238.9 316.1l4 -0M180.4 319l3.3 -1.5M199.7 342.4l2.5 0.2M173.5 345.3l2.6 -0.2M187.1 329.5l2.6 -0.8M173.4 307.1l2.7 0.1M167.2 336.6l4.2 -1.1M167.7 339.9l4.9 -0.4M181.2 338.5l3.9 1M211.7 328.9l2 -0.6M165.3 345.9l4.2 -0.8M213.6 331.1l3.1 -0.8M240 323l3.6 0.8M136.1 295.3l3.9 -0.9M224.6 347l3.6 -1.2M219.1 298.2l3.2 -1.4M190.8 305.9l4 -1.8M185.1 296.4l2 0.4M231.5 326.6l3.7 0.4M147.6 295.3l3.9 -1.6M225 293.1l2.7 -1.1M201.1 294.1l3 -1.2M155.6 330.4l3.1 0M235.5 336.4l3.5 -0.1M245.9 336.2l2 0.2M161.5 300.6l2.8 -1M191.1 327.2l3.8 -0.3M149.7 308l3.7 -1.4M245 298.6l4.5 -0.2M135 297l4.3 0.6M241.1 346.3l3.5 -0.6M154.9 312.8l2.5 -0.5M182.4 302.3l2.6 -1M144.2 328.8l2.1 0.1M123.1 345.7l4.2 -0.4M221.3 344.8l1.9 -0.8M225.8 295.5l3.5 -0.7M175.2 313.7l2.6 -0M131.6 327.1l2.2 0.4M148.4 312.9l3.8 -1.2M183.9 332.4l2.5 -1.1M178.5 321.5l3 0.6M158 319.2l2.6 -0.8" stroke="#8a70cc" stroke-width="2.0" stroke-linecap="round" fill="none"/>
<path d="M136.4 330.4l3.9 0.9M216.7 308.5l2.2 -0.3M139.3 311.2l2.2 -0.7M196.5 327l3 0.5M188.2 303.5l3.2 -0.9M186 298.9l4.1 -1.6M177.4 345.8l2.5 -0.4M184.4 317l3.5 -1.4M185 306.8l3.3 0.5M242.7 315.6l3 -0.1M156.9 309l2.6 0M247.7 324.1l2.8 0.6M152.6 340.4l2.7 -0.7M187.6 338.6l3.1 -0.5M154.4 343.7l3.3 -0.7M228.6 343.1l2.2 0.3M128.3 346.9l4.4 -1.5M192.3 336.8l3.8 -1.7M237.2 339.3l3.2 -0.4M215.1 311l2.7 -0.7M249.6 311.1l3.2 -0.1M146.9 337.2l3.7 -0.9M214.4 318.1l2.4 -0.9M183.1 333.8l3 -0.3M129.4 325.4l3.3 0.6M233.3 304.6l4.5 0.7M227.7 337.1l2.4 -0.7M137.9 339l2.6 -0.4M237.1 298.5l3.4 -0.4M239.4 315.4l2.5 0.6M202.9 318.5l2.5 0.5M142.4 343.8l3.6 0.2M156 320.7l2.1 -0.7M155.8 305.2l2 0.2M151.8 337.6l4 -1.9M186.1 300.6l2.6 0.2M246.4 343.7l4.8 -0.4M239.9 319.6l3.2 -0.3M178 317.1l4.7 -0.8M187.1 323.5l4.3 0.3M242.8 336.6l4.6 -0.7M164.8 313.2l3.7 0.2M172.8 312.3l2 0.2M137.8 336.9l4.8 0.1M206.5 306.1l4.4 -1.9M172.3 303.8l2.4 0.3M214.6 322.7l4.3 0.4M142.1 295.3l3 -0M201.5 294l3.7 -1.4M126 322.3l2.6 -0.3M146.8 307.6l2.7 0.6M133.4 314.3l3.3 -1.1M162.4 343.1l4.8 -0.7M165.4 302.6l2.3 0.6M174.2 303l2.3 0.5M202.3 324.5l3.8 0.8M244 305.4l4.7 0.9M137.2 341.2l3.1 -0.6M165.7 345.2l4.7 -1.1M133.6 317.6l4.7 -1.2M240.7 333.1l3.7 0.8M157.9 315.8l4.2 -1.6M162.9 304.8l4.8 0.9M126.4 323l4.3 0.8M231.3 334.5l3.7 -0.8M216.4 314.6l4.8 -0.5M146.3 332.4l2.6 -0.4M197.3 346l4.4 -0.2M211.2 324.4l3.9 -1.1M234.1 299.2l2.1 0.3M163.3 333.4l2.4 0.5M184.7 342.8l4.3 -0.6M211.8 345.8l3.9 0.8M163.7 314.8l3.7 -0.9M221.7 295.4l2 -0.9M153 322.4l4.9 -0.2M160 340.7l3.7 0.1M212.6 323.5l3 -0.1M189.8 338.3l4 -1.4M126.5 304l3.2 -0.3M149 310.2l2.8 -0.3M201.3 333l4.1 -0.1M133 319.5l4.1 -1.7M225.9 332.2l3.1 0.3M207 316.7l3.3 -0.2M125.8 329.1l2.8 -0.9M233.9 319.7l2.4 -1M144.1 331.8l3.9 0.8M173.1 303.4l4 -1.4M138.4 340.4l2.6 0.3M234.1 333.8l3.9 0.4M208.5 314l4.4 -1.5M229.9 299.3l3 -1.1M195.5 297l3.8 -0.2M207.5 309.3l2.2 -0.8M142 311.2l2 -0.4M232.8 296.1l3 0.1M246 334.2l3.5 -0.9M237.1 320l2.8 -0.1M214 318.8l4.2 0.3M147.3 294.4l3 0.6M186.4 330.4l4.6 1M170.7 314.8l3.4 0.7M185.7 308.8l2.6 -0.5M229.4 328.8l3.6 -1.6M179.3 326.9l4.6 -0.6M123.8 303.5l2.7 -1.1M189.5 306.6l2.2 -0.2M241.8 293.4l4.9 -0.6M175.4 296l4.5 -0.8M156.1 301.3l2.5 0.5M242.9 337.4l4.6 0.1M153.4 329.3l4.2 0.1M229.4 312.9l3.2 -1.1M180.7 345.6l3.1 0.1M144 337.4l2.3 -0.8M191.7 307.2l2.6 -0.5M248.2 302l3.9 -1.6M235.8 306.5l2.5 -0.8M179.1 295.3l4 0M198.4 334.7l4.2 -0.7M210.5 294.5l2.1 0.3M146.4 312.9l2.3 -1.1M128.8 328.8l3.8 0M233.3 341.4l2.5 0.5M227 336.3l2.3 0M129.1 331.4l4.4 -0M211.7 334.2l3.8 -1.5M172.5 335l3.7 0.4M162 316.2l4.3 0.2M206 317.2l3.6 0.4M178.1 298l4.8 1M182 329.6l3.7 -1.1M217.5 320.7l4 -1M159.5 304.7l3.2 -0.6M159.4 313.2l3.5 0.3M204.6 320l4.8 -1.2M156.3 302.7l4 -0.1M230.9 334.4l4.3 -0.7M245.7 304.1l4.4 0.8M135.1 341.5l4.8 -0.2M141.4 337.3l2.9 -0.7" stroke="#8a70cc" stroke-width="3.0" stroke-linecap="round" fill="none"/>
<path d="M215.2 305.6l1.8 -0.4M227.7 339.4l2.7 0.4M234.8 338l1.6 0.2M130.6 314.6l2.8 -0.5M209.5 315.3l2.7 0.7M146.8 326.9l1.6 -0.2M151.1 337l3.8 -1.1M180.5 319.4l2.6 -0.1M175.2 346.1l3.4 -0.5M232.6 322.1l3.6 0.7M209.4 340l1.8 -0.2M205.7 324.6l3.8 -1.2M192.7 341.5l3.7 -0.9M161 314.4l1.8 -0.7M143.2 330.5l1.9 0.4M235.9 329.4l2.8 -0.8M160.5 330.1l3 -0.5M230.9 309.4l2.5 -0.1M214.9 336.5l2.8 0.6M187.8 317.4l2.8 -1M132.6 331.5l2.5 -0.4M157.3 301.3l2.2 0.5M223.9 339.8l2.9 -0M142.8 329.4l3.8 -1.4M224 323.4l1.8 0.2M214.4 306l3.8 -0.1M201 334.6l3 -1.3M199.8 303.3l2.2 -0M231.7 338.1l3.9 0.2M225.1 313.6l3 0.1M168.7 343.4l3.7 0.2M192.3 330.1l1.8 0M148.5 303.1l2.1 0.2M143.3 327.5l3.3 0.7M218.3 338.4l3 -1.4M185.3 345.2l1.8 -0.4M236 320.6l1.6 -0.6M168.5 304.8l3 -0.5M156.3 340.5l2.8 0.6M169.6 341.9l2 -0.7M149.2 306.3l2 0.1M211.3 340.4l2.2 0.5M229.7 305.4l1.6 -0.3M186.7 308.7l2 -0.3M175.7 340.7l3.5 -0.8M194.7 302.7l2.7 -0.3M145.2 341.7l3.9 0.6M223 321.9l3 -1.3M155.6 306.6l1.8 -0.2M217 310.5l3.5 0.5M170.4 345.9l2.5 0M237.1 345.8l3.6 0M144.3 332.8l1.7 0.2M205.2 336.8l2.3 -0.8M191.5 300.8l3.7 -0.2M231.3 344.7l3.7 0.4M185.5 303.8l2 -0.1M231.6 341.5l1.4 -0.5M197.2 304l3.9 0.3M200 326.1l2.4 -0.5M143.9 308.8l3.3 0.7M220.4 319.1l2.3 -0.1M245.1 294.9l2.8 0M231 301.9l1.7 0.1M189.1 315l1.6 0.4M177.1 343.2l3.2 0.3M193.4 300.4l1.5 0.3M218.2 321.3l3.4 0M237.5 316.1l3 0.1M143.3 304.9l3.8 -0.9M124.8 301.4l3.7 -0.9M201.6 336l3 -0M212.1 319.5l2 -0.5M224.8 335.8l3.1 -0.9M141.8 296.1l2.4 -0.8M206.3 321.8l1.6 -0.1M244.7 301.3l3.9 -0.6M207.7 293.5l3.4 -0.8M243 328.8l3.1 -0.7M136.8 309.6l1.6 0.3M168.6 332.3l3.4 -0.1M230.9 300.1l3.7 -1.4M126 333.5l2.2 -0.9M185 341.8l2.1 -0.3M232.5 307.3l1.6 0.3M231 309.8l3.4 0.4M147.7 310.3l3.8 0.8M145 339.7l4 -0.1M222.3 301.5l3.3 -1M237 302.9l2 -0.5M228.2 296.4l1.9 -0.3M186.8 307.6l3.7 -0.7M137.1 333.1l1.8 -0.6M125.9 335.5l2.9 -0.5M172.5 336.6l2.1 -0.9M146.3 328.5l2.8 -0.7M167.1 296.3l2.1 -0.3M213 310.9l2.7 -0.8M197.4 329.9l3 0M212.1 317.9l2.1 -0.1M158.9 306.1l3 0.4M138.8 307.7l3.7 0.4M134.9 311.4l1.9 -0.5M142.2 297l2.2 -1M133.6 322.5l3.3 -1M124.9 329.3l3.2 0.3M214.1 301.2l3.6 -0.7M188.5 314.4l3 -0.1M223.3 342l2.7 -0.7M204.1 310.1l2.3 -0.9M218.8 314.8l3.5 -0.1M249.8 338l1.5 -0.4M229.5 342.6l1.8 -0.4M157.8 309l3.2 0.3M143.6 313.8l3.3 -0.4M199.9 341.4l3.7 -1.5M202.1 329.5l3.2 0.5M225.2 324.7l1.9 -0.3M235.3 297.7l3.4 -0.1M248.6 313.9l1.8 -0.3M187.4 325.4l2.2 -0.3M201.4 319.1l3.5 -0.9M218.3 323.9l1.9 0.4M231.9 304l3.6 -0.5M249.1 339.7l2.5 0.5M200.1 311.5l3.5 -0.8M222.4 304.3l2.9 -1.2M129.2 316.8l1.9 0.4M230.9 339.6l2.6 -0.1M228.7 313.6l2.6 0.2M226.5 326.8l3.8 -0.1M240.1 337.4l2.6 0.3M193.5 321.8l2.3 -0.7M144.8 310.3l3.2 -0.1M207.9 306l2.3 0.4M128.2 294l3.6 0.2M214.2 308.8l2.8 0.1M248.2 321.8l3 -0.6M211 311.3l3.7 0.1M218.8 335.8l3.3 -1.4M142.4 298.5l2.5 -0.6M219.6 305.6l2.4 0.4M156.2 317.7l1.9 -0M131.5 293.8l3.6 -0.1M220.8 345.4l3.5 -0.2M174.9 298.8l2.8 0.6M224.1 297l3.5 -1.1M191.8 329.2l3.3 0.7M130.2 300.3l2.7 -0.4M194.4 344.1l1.8 0.4M163.1 330.8l1.6 -0.4M245.5 346.5l3.2 0.4M197.1 346.9l1.6 0.1M220.5 296.5l3.5 -0.1M133.1 308l1.9 -0.1M162.2 317.4l3.6 0.3M237 310.4l2.5 0.6M247.7 342.5l3.3 -1.2M142.7 338.2l1.7 0.1M141 332.1l2.5 0.3M162.2 328.1l2.9 0.5M174.2 345l3.5 -0.5M132.4 314.7l3.7 0.4M175.1 319.8l3.9 0.4M148.3 317.8l3.6 -0.6M243.2 317.5l2.7 -0.5M130.6 293.1l3.7 -0.5M172 309.5l2.2 -0.2M216 313.6l3.6 0.4M152.5 306.4l3.4 -1.1M153.1 315.9l2.3 0.1M190 338.2l3.2 -1.1M126.3 339.2l3 -0.7M139.3 340.3l3.8 0.1M178.6 323.2l3.9 -0.1M172.9 296.7l1.7 -0.6M186.6 318.6l2.9 -0.2M241.3 325.9l3.2 0.8M153.3 329l1.5 0.4M171.9 294.2l3.7 0.8M246.8 320.1l1.5 0.2M148.9 337.7l3.7 0.9M199 338.6l2.7 0.6M126.9 344.8l3.3 0.3M201.5 321.5l2.8 -1M163.8 305.8l2.1 0.4M244.3 307.1l1.7 -0.2M125.5 296.3l3.4 -0.5M186.8 325.4l3.1 0.3M219.5 314.6l1.7 0.4M169.1 313.6l3 0.7M218.4 346l1.7 -0.4M146.9 301l1.7 0.4M134.8 338.5l2.6 -0.2M248.8 346.8l3 -0.8M193.1 303.2l3.4 -0.5M152 309.6l3.4 -0M148.2 302.8l2.5 0.3M175.1 300.1l2.6 0.6M179.8 293.5l3.8 -0.5M171.6 304.4l3.7 -1M135.2 304.6l2.5 -0.2M231.8 332.3l2.6 0.3M176.1 338.7l2.5 -0.4M165.7 309.5l1.5 -0.5M249.4 299.9l1.9 -0.7M176.8 316.4l1.6 -0.4M206.2 309.7l1.8 -0.3M167.4 303.2l2.4 0M239.7 299.2l2.4 0.2M127.9 315.8l2.2 -0.6M224.2 294.1l3.3 0.5M213.2 340.8l2.3 -1M144.3 330.5l3.8 -0.4M157.7 293.2l3.3 0.6M173.1 332l3.3 -0M142 294l2.6 -0.2M123.9 319.4l2 -0.6M181.1 305.5l1.5 -0.6M210.7 326.6l3.2 0.6M223.1 336.4l2.7 0M208.8 313.3l3.3 0.6M216.4 316.6l1.5 -0.3M211.6 321.2l3.7 -0.3M176.8 344.6l3.4 -0.9M212.5 297.3l3.7 -0.3M132.9 309.5l2.8 -1M142.9 302.2l1.7 -0.1M160.3 300.1l2.2 -0.1M234.5 297.7l2.1 -0.2M209 323.5l1.8 -0.1M249.4 313.5l2.4 -0.9M146.8 312.1l3.1 0M215 301.4l1.9 -0.4M128.5 313.2l1.8 -0.2M242.9 337.1l3.3 -1M233.5 330.4l1.9 0.5M133 345.7l3.1 0.3M131.8 318.2l2.6 -1.1M165.6 339.1l2.3 0.2M211 307.2l1.6 0.4M204.8 342.4l3 -0.2M215.1 328.8l2.1 -0M141 301l3.2 -1.5" stroke="#34206a" stroke-width="1.6" stroke-linecap="round" fill="none"/>
<path d="M154.8 340l2.7 -1.2M231.1 342.8l2.8 -0.8M190.5 303.7l2 0.2M212.1 313l2.2 -1M194.3 304.1l1.8 0.3M138.2 324.5l3.1 -1.2M228.6 344.9l2.2 -0.5M233.2 328.9l1.6 0.1M137.9 342.2l3.1 -0.8M239.3 304.4l3 -0.9M222 317.2l1.8 -0.2M249.7 306l3 0.3M144.8 338.6l2.2 -0.3M159 316.3l2.6 0.6M146.9 307.7l3.1 -0.1M179.2 296.5l2 -0.4M202.2 307.5l2.9 0.1M249.9 293.6l2.3 -0.9M214 292.8l3.5 0.8M210 319.8l3 -0.8M140.4 307.8l2.9 -0.3M158.3 304.3l3.5 -0.4M221.8 300.7l3.9 0.6M157.3 318.8l2.6 -0.3M226.6 317.1l1.5 -0.4M231.4 293.5l3 -0.8M124.6 333.2l3.5 -1.2M245.8 310.9l2.5 -0.9M175.2 309l1.9 -0.6M138.1 305.3l3.5 -1.1M199.1 312.8l3.8 -0.1M188.4 338l2.9 -0.5M142.9 300.6l3.4 0.8M188 340.9l2 -0.1M248.1 300.2l3.1 -1.2M170.4 311.2l3.4 0.9M153.4 304.1l2.4 0.6M175.6 308l2.3 0.3M160.9 299.3l3 -0.5M205.6 343.9l1.8 -0.2M124.4 318.9l3.4 -1.3M188.6 335.9l1.6 0.1M239 311.2l2.4 -0.2M202.8 339l4 -0.4M216.2 298.4l1.6 -0.6M242 323.5l1.8 -0.3M132.2 314.7l2.8 -0.1M181.2 294.2l3 0.3M185.9 329.3l1.5 -0.3M127.9 337.2l3.1 -1.2M140.4 331.1l3.2 0.1M220.2 305.6l1.7 -0.4M186.2 335.1l2.8 -0.5M175.7 307l2.5 -0.8M243.1 335l3.7 -1.1M209.5 293.1l3.2 -1M177.3 312.8l2.8 0.4M205.2 328.1l3.2 -0.7M219.9 320l2.7 -1.1M183.4 333.8l2.4 -0.3M146.1 300.4l3.7 0.6M165.9 312.1l2.2 0.3M159.9 339.1l2.7 0.1M189.8 314.8l1.5 -0.1M247.6 303.9l3.8 -0.7M238.9 337.4l3.3 -0.8M148 313.5l4 -0.4M184.9 306.6l1.6 -0M224 328.7l2.2 -0.7M208.4 316.4l3.7 -0.6M129 327.2l2.3 -0.8M217.9 312.4l2.1 -0.4M228.3 299.3l2.8 -0.3M148.8 295.5l3.1 0.7M174.8 306l2.8 -1.2M182 324l3.5 -1.6M155.7 308.5l2.7 0.2M206.2 339.4l3.9 -0.3M206.1 293.7l2.6 -1.1M222.7 342.1l3 -0.7M197.2 304.1l3.1 -0.2M236.5 341.9l2.8 -0.2M165.7 309.6l2.4 -0.8M129.2 304.8l3.9 0.6M194.8 319.5l3.1 0.6M129.5 310l2.8 0.2M165.4 319.4l2.4 -0.4M213.6 303.1l2.1 0M123.2 325.1l3.5 -1.2M126.2 327.6l2.9 0.5M199.4 293.9l1.9 -0.2M155.4 335.4l2.5 0.2M234.6 324.4l3.9 0.6M171.1 308.3l3.2 -1.1M167.7 347l3.2 -0.3M249 317.1l2.5 -1.1M148 345.3l3.2 0.3M185.7 295.6l3.2 -0.2M152.6 328.3l2.1 -0.8M227.3 340.6l3.6 -0.9M130.8 308.3l2.8 -1.1M217.4 306.7l1.8 -0.4M156.3 297.8l1.5 -0.5M171.2 343.3l3.7 0.8M183.9 304.1l2.2 -0.2M189.4 312.9l3.9 -0.8M195.9 317.8l2.7 -0.9M162.5 345.5l1.6 -0.3M198.6 338.2l3.8 0.1M235 326.8l3 -0.5M167.1 328.5l2.1 0.3M186.3 336l3.4 -0.4M223.5 314.1l2.6 -0.8M245.6 346.6l2.9 0.2M227.5 347.1l2.9 -0.6M175.9 303.4l1.8 -0.6M187.5 326.7l2.6 -0.4M166.1 303.9l2.4 0.5M203 334.5l1.8 -0.2M148.2 295.3l3.7 0M210.4 311.8l3.7 -0.1M234.7 345.6l3.2 0.7M247.8 295.7l1.7 -0.3M153.3 299l2.5 -1M229.7 342.5l2.4 -0.7M200.1 306.5l1.7 0.1M243.9 324.1l2.2 -0.8M141 332.6l3.1 0.4M173.1 334.9l3.9 -0.4M179.9 346.2l3.1 -0M236.2 331.1l1.6 -0.4M235.1 326.5l3.7 -0.8M145 329.8l1.5 -0.6M145.1 307.1l3.1 -0.4M236.4 317.2l3.6 -0.8M228.9 334.7l3 -0.9M214.7 310.8l3.6 -1.4M159.9 306.6l2.4 -0.2M147.6 314l3.1 -0.8M135.7 343.6l1.7 -0.7M216.4 340.2l3.7 0.1M125.7 308.8l2.6 -0.5M218.2 342.5l2.7 -0.5M227.8 299.7l3.6 -0.7M153.6 326.7l3.2 0.5M228 340.2l2.4 -0.7M151.5 300.3l3.1 -0.1M228.7 322.3l3.2 0.5M152.4 344.5l3.1 0.8M135.1 299.4l2.6 0.1M195.4 312.5l2.8 0.3M164.7 324l3.2 0M200.8 338.5l2.6 -0M182.2 329.4l2 0.1M184.6 318.1l3.7 0.3M236.4 324.8l3.2 0.7M179 293.2l3.6 -1.1M151.8 296l2.5 -0.8M165.2 339.7l2.6 -0.9M128 329.5l2.9 -0.4M219.9 321.9l2.9 -1.2M165.5 325.2l1.6 0.1M183.3 315.8l1.7 0M138.3 313l1.7 -0.7M249.2 320.1l3.7 -0.5M209.4 299.4l3.5 -0.3M218.3 328.7l1.5 -0.6M246.2 323.3l3.3 -0.8M167.7 327.7l3.3 -1.2M206.9 329.6l3 -0.4M216.3 333.3l1.6 0.3M156.8 340.9l3.2 0.3M156.6 323.4l3.4 0M218.3 311.8l2.6 -0.7M228.2 342l3.4 0.7M196.7 328.1l2.7 -1.1M186.5 301.5l2.3 -0.7M219.6 298.1l2.4 -0.3M173.1 294.3l1.9 0.2M184.6 322.4l2.4 0.4M227.3 339.4l3.8 0.2M202.8 327.1l3.6 -0.9M129.2 332.8l1.9 -0.4M166.5 331.3l3.5 -0.7M125.1 296.8l2.9 -1.3M248.6 332.5l3.5 0.6M192.1 341.7l2.2 0.2M209.7 346.8l1.9 0.2M131.2 323.9l2 0.1M247.9 326l2.9 -1.3M160.6 327.8l3 0.7M200.7 314.6l2.6 0M139.3 341.3l1.8 0.1M175.7 327l2.8 -0.3M190.5 296.9l1.9 0.4M129.7 298.5l1.6 0.4M202.2 339.4l2.5 -0.6M233 344.4l2.3 0.5M129.9 322.5l1.7 0.4M151.2 324.9l3.2 -0M190.3 328.2l2.4 -0.1M247.3 331.1l3.6 -0.8M138 322.3l2.3 -0.2M190.5 321.1l2.8 -1M173.7 315.2l1.7 -0.7M247.5 319.5l3.5 -0.5M216.2 308l1.8 0M208.3 300.7l2 -0.2M144.3 324.8l1.6 -0.7M178.5 328.7l1.8 -0.5M218.8 306.6l1.7 0.3M150 305.4l3.9 0.6M241.5 316.1l3.3 0.8M175.5 322.9l3 -0.2M191.3 320.4l1.5 0.3M141.3 334.8l2.6 0.3M154.6 313.1l2.9 0.5M131.2 340.5l2.9 -0.2M185.6 325.7l2.3 -0.2M239.5 304.4l1.8 0.5M135.4 322.6l2.4 0.5M192.3 327.6l2.6 -0.8M189.5 333.9l1.8 0.4M213.6 325.1l2.2 0.2M150.5 319.9l2.7 -0.9M229 319.6l3 -0.7M207.8 293.9l2 -0.3M212.3 336.9l2.9 0.2M232.6 343.5l2.1 -0.1M171 326.1l2.5 0.4M135.3 312.9l3.8 0.1M139 304.5l2.9 -0.8M152.7 299.4l3.4 -0.1M134.7 333.9l2.2 0.5M204.6 342.3l2.8 0.4M150.1 326.9l1.7 0.4" stroke="#34206a" stroke-width="2.2" stroke-linecap="round" fill="none"/>
<ellipse cx="159" cy="305" rx="9.7" ry="6.5" fill="#f3f1f6"/>
<ellipse cx="162" cy="318" rx="7.6" ry="4.3" fill="#f3f1f6"/>
<ellipse cx="182" cy="310" rx="6.5" ry="3.8" fill="#f3f1f6"/>
<ellipse cx="167" cy="334.5" rx="7.6" ry="4.3" fill="#f3f1f6"/>
<ellipse cx="189" cy="319" rx="6.5" ry="3.2" fill="#f3f1f6"/>
<ellipse cx="152" cy="333.5" rx="3.2" ry="3.2" fill="#f3f1f6"/>
<ellipse cx="214" cy="301" rx="8.6" ry="4.3" fill="#f3f1f6"/>
<ellipse cx="236" cy="304.5" rx="8.6" ry="5.4" fill="#f3f1f6"/>
<ellipse cx="218.5" cy="312" rx="7" ry="4.3" fill="#f3f1f6"/>
<ellipse cx="231.5" cy="321" rx="8.1" ry="5.4" fill="#f3f1f6"/>
<ellipse cx="212" cy="317.5" rx="8.6" ry="3.8" fill="#f3f1f6"/>
<ellipse cx="208.5" cy="326" rx="7" ry="4.3" fill="#f3f1f6"/>
<ellipse cx="244.5" cy="327" rx="4.9" ry="5.4" fill="#f3f1f6"/>
<ellipse cx="244.5" cy="339" rx="4.9" ry="4.3" fill="#f3f1f6"/>
<ellipse cx="226" cy="339.5" rx="6.5" ry="3.8" fill="#f3f1f6"/>
<ellipse cx="136" cy="306.5" rx="8.6" ry="2.7" fill="#f3f1f6"/>
<ellipse cx="139" cy="316" rx="10.8" ry="2.7" fill="#f3f1f6"/>
<ellipse cx="138" cy="324" rx="8.6" ry="2.7" fill="#f3f1f6"/>
<ellipse cx="134" cy="335" rx="6.5" ry="3.2" fill="#f3f1f6"/>
<ellipse cx="140" cy="297.5" rx="10.8" ry="2.7" fill="#f3f1f6"/>
<ellipse cx="195" cy="300" rx="5.4" ry="2.7" fill="#f3f1f6"/>
<ellipse cx="178" cy="342" rx="6.5" ry="2.7" fill="#f3f1f6"/>
<ellipse cx="196" cy="335" rx="5.4" ry="3.2" fill="#f3f1f6"/>
</g></g>
<rect x="126.80" y="294.50" width="122.50" height="50.50" fill="none" stroke="#8c8c8c" stroke-width="0.9"/>
<text x="5.65" y="475.00" font-size="13.88888888888889" font-weight="bold" text-anchor="middle" fill="#000" textLength="10.30" lengthAdjust="spacingAndGlyphs" stroke="#000" stroke-width="0.5" >E</text>
<text x="63.65" y="480.30" font-size="5.0" font-weight="bold" text-anchor="middle" fill="#151515" textLength="43.10" lengthAdjust="spacingAndGlyphs" stroke="#151515" stroke-width="0.3" >LPS (20 mg/kg)</text>
<text x="183.80" y="480.30" font-size="5.0" font-weight="bold" text-anchor="middle" fill="#151515" textLength="35.00" lengthAdjust="spacingAndGlyphs" stroke="#151515" stroke-width="0.3" >PBS control</text>
<text x="66.65" y="542.30" font-size="5.0" font-weight="bold" text-anchor="middle" fill="#151515" textLength="95.70" lengthAdjust="spacingAndGlyphs" stroke="#151515" stroke-width="0.3" >LPS (20 mg/kg)+rTMD1 ( 5 mg/kg)</text>
<text x="182.60" y="542.30" font-size="5.0" font-weight="bold" text-anchor="middle" fill="#151515" textLength="97.20" lengthAdjust="spacingAndGlyphs" stroke="#151515" stroke-width="0.3" >LPS (20 mg/kg)+rTMD1 (25 mg/kg)</text>
<g clip-path="url(#c5)"><g>
<rect x="7.3" y="484.3" width="114.5" height="47.9" fill="#a52a7e"/>
<path d="M25.6 517.4l1.3 -0.1M120.1 507.8l1.1 -1.6M96.7 485.2l1.8 -0.4M77.5 485.9l0.7 -0M81.6 529.2l0 0M52.6 491.6l1.3 -0.1M15.5 493.2l0.8 1.1M20.8 507.8l1 -1.3M43.6 507.3l0.3 0.5M89 531.9l1 -0M72.4 500.5l0.7 -1.8M50 516.4l0.4 1.3M63.4 502.1l0.2 0.5M71.3 505.1l0.6 0.6M35 502.8l1.6 0.8M85.7 530l0 0M104.6 512.4l0.5 -0.2M68.7 500.2l0.6 -0.8M27.9 525.2l0.3 0.3M76.3 509.2l0.3 -1.5M51.3 525.6l0.8 0.2M117.3 499.1l1.4 0.1M66.3 503.3l0.5 -0.6M33.3 528.8l0.2 -1.3M35 528.1l0.7 0.3M25.2 493.4l1.4 1.1M49.8 512.3l0.1 -0.4M43.8 497.2l0.8 -1.5M60.3 505.6l1 -0.8M83.7 514l0 0.2M10.5 522.6l1.5 1.1M67.7 486.7l0.4 -0.1M32.9 521.9l0.4 1.6M82.5 487.4l0.4 0.8M40.3 514.9l0 0M102 494.6l0.1 -0M99.2 528.2l0.9 -1.1M72.8 531l0.3 1.8M77.3 507l0.6 -0.8M73.9 522.3l1.1 1M59.5 502.8l1.2 0.4M98 528.6l0.2 0.4M18.6 513.8l1.3 0.1M13.8 518l0.3 -0.8M93.3 514.7l0.9 0M57.3 494.6l0.5 1.6M95.3 527.9l1.3 -0.7M25.9 522.7l0.6 -0.3M117.7 506.4l0 -0.4M104.2 494.9l0.2 0M79.2 490.1l0.2 0.1M68.8 488.3l0.5 0.1M35.1 504.2l0.4 1.5M73.9 508.4l0.7 -1.5M42.8 502.9l0.5 0.3M12.1 520l1.7 0.1M78.7 507.2l1 -0.5M12.1 514.4l1.2 -0.2M8.7 520.5l0.2 1.7M91.3 509.9l0.6 -0.5M86.4 507l0.2 0.6M39.7 519.8l1 0.9M111.6 493.7l1.3 1.5M97.3 525.3l0.9 1.5M50.1 528.7l1.5 0.1M81.8 525.9l0.4 0.4M21.9 501.2l1.7 -0.8M11.6 522.1l1.4 0M98.7 492.5l1.1 0.2M104.2 514l0.2 0.2M51.2 522.1l0.1 0.6M35 499.7l0.6 -0.1M110.6 528.2l0.5 1.6M89.9 486.1l0.3 -0.6M62.7 496.8l1 0.5M68.3 486.8l0.1 -0.1M30.5 492.4l0.1 1.1M75.5 497.7l0.3 -1M104.4 511.2l0 0.1M87 508.2l0.1 1.1M113.1 514.5l1.7 -0M66.1 496.8l0.1 0.3M18.7 516.5l0.9 -1.6M42.5 509.2l1.7 0.6M116.6 524.5l0.4 0.9M25.8 503.4l1.6 -0.2M25.9 523.1l0.3 -0.7M81.1 523.9l0 0.2M52.4 515.1l1.1 1.2M34.4 496.8l1.1 0.2M93.9 497.4l0.1 0.9M15.8 524.9l0.3 0.3M115.2 519.3l1.1 -1.5M33.4 523.5l0 0M12.7 512.6l0.9 0.8M107.7 520.8l0.1 0.1M92.4 497.3l0 0M88.2 528.3l0.9 -0.8M37.3 499.7l0 -0.4M72.2 524.4l0.5 -0.9M97.6 531l0.4 0.3M114.8 487.6l0.2 0.3M80.9 515.6l0.1 0.4M30.4 502.3l0.2 -1M46 511.4l0.2 -1.5M98.2 491.9l1.3 -0.2M102.1 509l0.8 0.4M67.5 532l1 -0.5M115.2 531.5l0.6 -0.6M39.6 485.2l0.5 -0M14.3 500.7l1.3 -0.7M119.7 525.2l0.4 0.6M105.6 488.2l0.3 -0.2M51.2 499.5l0.3 -0.2M57.8 521.9l1.4 0.9M53.4 486.1l0.9 -0.2M21.8 493l0.4 1.5M95 509.7l0.2 0.8M8.3 531.4l0.1 0.7M21.5 503.2l0.1 -0.3M65.3 497.2l0.5 -1M80.7 527.9l1 -1.2M75.4 507.3l0.6 -0M77.7 509.5l0.5 1.2M16.8 522.3l0.7 0.6M112.1 530.5l1.3 -0.9M37.9 494.2l0.4 -1.2M93.7 510.7l0.7 0M102.7 497.9l1.1 1.5M47.9 513l0.3 1.9M99 494.2l1.2 -1M99.8 491.4l1.8 -0.8M71.9 525.9l0.1 -1M27.3 502.2l1.1 -0.4M67.9 528.3l0 0M40.1 497.2l0.7 0.1M32.6 487.5l0 -0.1M112 503.1l0.4 0.7M24.3 529.8l0.1 -0.2M78 508l0.4 0.3M88.2 504.7l1.4 -0.5M44 516.3l1 1.3M69.4 506.5l0.8 -0.9M93.4 521.6l0.2 0.1M46.4 522.8l0.4 1M30.5 500.4l0.1 -0.1M95.3 495.7l0.6 -0.1M27.4 487.1l0.2 0M95.9 495.2l0.8 1.4M27.2 502.3l1.5 -0.1M94.4 505.9l0.1 0M118.8 491.5l1.6 0.6M39.9 510.8l1.7 -0.4M64.2 506.2l1.7 0.7M84 530l1.2 -0.3M95.5 502.5l0.1 0.1M22.2 530.9l1 -1.7M13.2 513.4l0 0M72.6 519l0.4 1.5M75.4 500.5l0.3 0.3M15.1 494.9l0.5 1.5M83.8 528.3l0.4 -0.1M51.9 526.3l1.6 0.3M92 516.2l0.6 -0.5M27.3 521.1l0.2 -0.8M68 493.6l1.4 1.1M29 517.3l1.7 0.4M115.1 523.2l0.2 -0.9M13.2 500l0.5 -0.9M25.7 519.1l1.6 1.2M66.8 525.6l0.3 -0.2M42.2 489.5l1.7 -1M37.8 496.8l1 1M101.6 511.7l1.2 -1.6M8.5 506.4l1.5 0.6M27.8 498.6l0.3 0.7M38 497.4l0.1 1.3M118.2 518.1l0.5 -1.4M95.1 524.6l0 1.3M47.5 520.6l0.5 0.4M19.1 497.4l0.1 -0M31.4 510.3l0.1 0M37.7 486.6l1.6 -1M48.5 498.1l0.7 -1.3M49.8 520.4l0.4 1.6M81.3 489.2l0.1 1.3M76.8 531.3l0.3 -0.8M116.6 515.1l0.1 0.3M120.9 490.4l0.4 -0M90.6 524l0.5 1.5M36.4 523.5l0.1 -0.1M16.3 522.5l0.8 -0.7M102.3 502.8l0.7 0.7M28.5 507.7l0.6 0.7M15.1 527.1l0.9 -1.7M68.8 515.5l0.3 0.4M15.9 516.2l0 1.8M114.1 520.5l1.5 0.1M10.5 489.9l0.9 -0.3M51.6 530.8l0.8 0.3M24.2 487l0.9 -1.1M112.8 492.6l0.7 0.3" stroke="#561250" stroke-width="1.3" stroke-linecap="round" fill="none"/>
<path d="M98.2 495.7l0.1 -0.5M21.2 528.7l0.9 0.1M108.6 504l0.7 -0.1M78.8 524l0.5 0.5M35 493.2l1 -1.6M53 531.4l1.8 0.5M102.9 487l0.4 -0.3M119.6 520.4l0.7 -0.7M10 493.8l1 1.3M75.9 504.2l0.5 1M23.1 512.4l0.2 0.2M22.6 488.9l0 -0.2M97.2 487.8l0.2 -0.2M36.2 518l0.1 -0.6M24.6 518.2l1.1 1.7M115.3 489l1.2 0M13.7 523.8l1.8 -0.9M81.9 504l1.5 0.8M64.6 529.3l1.1 0.8M82.8 486.2l0.5 0.2M89.9 506.2l0.4 -0.2M63.1 518l1.1 1.4M70.6 487.8l0.1 0.6M119.7 531.8l0.3 -0.1M34.3 517.9l0.7 -1.3M15.5 512.2l0.8 -0.1M34.6 485.2l0.3 -1M29.1 502.1l0 -0M24.2 508.1l1 0.1M61 522.8l0.5 -0.4M27.9 489.4l1.5 -0.7M13.6 485.8l0.8 0.5M24.5 489.2l1.8 0.2M29.2 493.8l1.9 -0.5M9.5 501.5l0.4 0.9M118.2 502.1l0.4 1.8M8 501l1.2 0.4M80.4 491.9l1.8 0.2M30.6 531.7l0.7 0.8M111 496.1l1.1 -0.5M119.5 520.3l0.9 -1.2M109.7 509l0.2 -0.2M35.9 504.9l0.8 -0M11.8 525.3l0.3 0.3M50.4 503.2l0 0M73.2 532.2l0.3 -0.3M84 486.4l0.7 -1.7M106.1 520.6l0.5 -0.5M92.6 496.1l0.2 0.2M64.1 518.3l0.4 0.2M112.8 509.3l0 0M120.7 495.5l1.4 -0.1M56.4 486.2l0.8 -1.7M52.4 529.8l1.3 0.9M10.6 507.5l1.2 1.3M28.1 528.6l0 0.2M89.6 509.8l0.3 -0.2M82.3 503.7l0.3 -1.6M56 493.9l0 -0M107.1 496.6l1.7 -1M101.3 522.5l0.1 -1.4M64.4 517.4l0.1 1M22.9 484.5l0.2 -0M12.7 514.8l0.2 0M39 484.2l0.5 0.6M59.7 528.4l1.3 -1.2M101 498.4l0 -1.6M26.8 519.6l0.7 -0.4M121.1 487.4l0.5 1.9M88.6 528.9l0.3 0.2M119.5 527.3l0.5 -1.8M79.3 486.4l0.2 1.9M17.2 502.9l0.8 1.8M41.8 528.6l0.1 0.3M70.9 520.9l0.6 0.5M59.6 507.3l0.7 -0.7M38.8 493.9l1 -0.6M68.3 519.7l0.3 1.2M18 518.8l0.4 0.4M80.2 516.9l0.9 1.8M37.2 517.9l0 -0.9M117.4 503.9l1.6 0.8M13.8 501.8l0.7 -0.4M118.8 491.6l1.7 -0.7M19.8 502.5l1.3 0.2M38.4 524.1l0.3 -1.8M24.1 509l0.1 0.2M54.4 515.1l0.1 0.1M96 528.8l1.4 -0.6M108.6 526.8l1.3 -0.9M119.6 487.6l0.2 -0M43.5 524.9l0.8 -0.3M30.3 513.9l0.1 1.1M63.2 528.3l0.7 -1.4M113.4 497.7l0.2 0M112.3 522.9l0.2 -0.8M117.7 511.1l1 -0.6M97.9 500.5l0.6 0.7M14.7 531.1l1.3 -0.7M31.7 491.6l0.9 0.4M115.3 492.2l1.1 -0.1M22.2 500.5l0.1 0.8M47.7 501.8l1.7 0.5M106.6 486.4l1.1 -1.1M79.8 511.8l0.7 0.4M99.8 508l1.1 1.6M98.9 520.9l1.7 0.3M66.6 522l0.6 0.4M76 486l0 -1.3M10.2 495.8l1.3 -0.3M25 494l0.9 0.2M23.1 515.5l0 -0M41.2 504.7l0.3 -1.4M57 531.1l0.1 0.2M103.5 498.1l1.4 0.2M88.8 509.7l0.1 0.2M33 497.3l0.3 -0.8M106.1 518.4l0.7 1.1M90.2 490.2l1.7 0.6M118.8 501.9l0.7 -0.5M103.6 493.7l0.8 -1.6M9.4 526.5l1.2 -1.1M7.7 532.3l0.1 -0.7M56.4 531.8l1.8 0.1M104 504.1l1.6 -0.3M25 505.9l1.8 0.5M87.1 523.1l0.9 -0.6M89.9 484.3l0 0M60.6 489.6l0.4 -1M44 527.8l0.7 0.5M10.7 518.5l0.9 0.2M120 488.3l0.2 1.9M17.6 513.1l0.1 -0M111.3 520l1.4 -1M33.6 528.4l0 0M63 518.1l0.9 0.2M112.6 527.5l1.2 -0.6M53.5 509.8l0.3 -1M27.8 493l0.6 0.5M28.2 530.9l0.9 0.3M106.3 526.9l1.5 -0.8M9.8 507.2l0.4 -1.9M108.8 518.6l0.4 -1.7M86.5 527.6l0.1 -0.3M39.6 520.3l0.6 -0.8M44.7 522.6l0.3 0.7M10 487.6l0 -1M8.4 492.6l0.7 0.8M117.9 523.9l0.1 -0.4M22.5 486.6l0.2 1.1M116.9 499.2l0.3 1.1M49.9 513.9l0.5 -1.3M57.7 509.8l0.1 -1.7M121.1 492.6l0.5 0.7M112.9 501.7l0.5 -0.2M50.8 490.3l0.4 0.7M75.7 488.5l0.2 0.7M75.1 514.2l0 0.1M25.4 515l0.8 -0.3M40.1 526.6l0.7 -1.4M19.8 521.9l0.2 1.1M61.7 531l1.5 -1.3M33.9 520.2l1.4 0.5M111.9 488l1.2 0.8M96.2 510.5l0.8 -0.4M120.1 519.1l1.5 0.1M98.4 508.3l0 -0.1M35.1 493.2l0.2 0.7M113.5 499.2l0 0.2M120.9 530.3l0.6 -0M120.3 519.4l0.4 1.9M32.4 521.1l0.1 -0.4M26.5 513l1 0.1M72 525.8l1.8 0.1M16.4 511.5l1 1M43.3 491.2l1.8 -0.2M33 515.1l0.4 -0.4M24.2 506.6l0.4 0.7M38.8 512.6l0.1 -0.1M68.5 513l0.5 -0.2M83 497.7l0.6 -0.5M39.5 517.7l0.1 -0.9M90.7 527l0.4 0.5M83.4 505.3l1.1 -0.4M36.4 525.4l1.6 -0.3M72.5 515.9l0.3 1.9M101.8 492.1l0.5 -0.5M38.7 513l0.1 0.1M68.6 497.7l0.1 -1.7M28.7 486.4l1.4 -0.2M16 513.8l1.3 1.3M63.3 510.4l0 0M110.3 502.2l1.2 1.2M26.7 528.5l0.3 -1.1M39.6 508.6l1.8 0.4M70.2 502.5l0.8 -0.4M35.2 498.3l1.3 -0.2M93.4 489.2l1.1 1.2M17.1 522.8l1.3 1.1M99 513.1l1.2 1.1" stroke="#561250" stroke-width="1.8" stroke-linecap="round" fill="none"/>
<path d="M116.5 520.5l2.5 -0.1M52.3 520.4l1.6 -0.2M119.7 504.4l0.7 -1.4M38.1 504.7l1.4 1.5M8.9 494.4l1.4 0.8M17.4 522.4l0.1 0.7M87.3 501.8l0.3 0.5M30.4 488.1l0.4 2M82.8 485.7l1.2 -0.2M18.6 494.9l1 -2M73.6 522.1l1.1 1.7M35.7 508.8l2.1 -1.1M50.6 486.8l1.4 0.6M119.7 498.7l0.4 0.3M17.5 521l0.9 0.2M102.4 488.8l1.3 -0.8M50.4 531.7l1.2 -0.9M102.7 508.1l0.4 1.1M86.5 520.7l2.4 0.2M9.4 522.1l0 -1.8M72.8 516.6l0.1 1.6M96.6 499.8l0.5 0.9M22.5 515.4l0 2.2M16.3 522l1.4 0.1M71.6 515.6l0.9 0.2M83.5 525.6l1 1.6M95.7 531l2.2 0.6M77.9 500.3l0.8 -0.5M53.1 519.2l0.8 0.9M11.8 516.5l0.6 0.2M61.5 496.7l1.3 -1.3M15 512.2l1.5 -0M57.2 494.8l0.6 -1.1M27.9 484l1.9 1.4M75.5 526.8l0.6 0.5M21 526.5l1.3 1.9M7.8 500.9l0.9 -0M104.6 523.3l1.8 -1M113.4 525.2l1.3 0.9M117.4 505.2l0.2 -0.8M77.8 505.6l0.4 -0.8M10.3 515l0.9 2.2M23.3 490.4l1.4 -0.4M76 486l1.5 -0.2M70.8 496.3l0.2 -0.9M24.2 506.5l1.9 -0.6M78.7 493.5l0.7 2M90.9 484.1l0.8 1.9M78.8 527.2l2 1.2M103.4 529.4l0.6 -2.2M6.6 487l1.8 -0.7M43.1 491.3l0.2 -0.9M11.8 509.9l0.3 2.3M101.5 499.9l0.9 -0.8M82 494.3l2.4 -0.3M118.7 502.1l1.8 0.9M68.3 518l1.8 0.5M111.4 524.3l2 -0.4M30 525.8l1.3 -0.6" stroke="#c8409a" stroke-width="1.4" stroke-linecap="round" fill="none"/>
<path d="M8.3 494.5l0.7 2.4M88.3 523.9l0.3 1.8M114.9 497.1l0 1M37 521.2l1.7 0.7M110.6 500.6l1 -0.6M19.3 490.1l0.4 2M102.7 529.1l1 -2.2M90.4 504.2l1.5 1.7M72.2 523.2l0.8 -0.7M118.3 498.2l1.2 1.1M11.8 522.6l0.5 -0.3M108.8 518.1l0.6 0.5M19.6 529.5l1.3 1.4M105.8 487.6l2 0.4M15.8 507.3l2 -1.4M15.6 526.7l1.7 1.2M50.7 527.4l2.1 0.5M54.8 492.7l0.8 0.7M14.7 507l0.8 2.1M80.3 502.6l0.3 1.7M81.7 510.1l1.1 -0.3M71.1 520.9l2.3 0.3M76.3 520.3l1.1 0.5M41.2 494.5l2.1 -0.2M13.3 487l0.9 1.1M70.4 530.7l0.4 -1.7M88.5 517.4l0.1 0.5M11.3 518.9l1.1 1.5M104.2 487.1l1.3 -2M40.3 495.4l0.6 0.4M24.6 515.6l1.4 -1M96.8 524.3l1.5 -0.7M86.9 509.5l0.3 1.9M34.6 515.9l0.4 0.4M30.5 526.5l0.1 1.7M14.8 527.3l0.6 -2.3M75.5 503.2l2.3 -0.6M99 502.3l0.6 1.4M101.8 492.4l0.1 -1.3M98.9 497.1l1.4 -1.1M41.3 530.3l1.9 0.2M73.9 497.1l0.5 -0.1M88 499.6l0.4 0.5M29.5 513.5l0.9 -1.6M12.1 504.5l1.1 -1.8M97.4 517.3l0.5 2.1M21 517l0.1 -2.3M95.2 507.9l0.8 0.4M30.5 520.1l0.3 -1.2M108.2 510.9l0.9 -1.4M89.1 530.4l1.5 0.5M32.1 492.1l1.5 1.7M35.8 508.7l0.5 -0.6M34.3 501.9l2.3 -0.4M48.1 529.5l1.2 -0.4M46.8 501l0 2.3M13.6 515.6l1.3 -0.7M29.9 503.5l2 -0.2M67.4 508.3l2 -0.2M14.1 492.8l0.4 1.2M76.5 517.3l0.7 2M80 497.5l0.8 0.2M117.2 503.5l1.3 -0.3M36.4 497.5l0.9 -0.4M106.8 504.9l1.4 -1.9M74.9 525.4l0.5 0.5M103.7 516.9l0.3 0.4M25.9 531.5l0.1 -0.9M40.5 505l0 -1.5M99.4 497.4l0.4 1.5M40.5 496.3l0.8 1.9M29.7 486.1l0.6 -0.3M62.1 499.8l0.6 1.1M70.7 498.4l0.5 -1.1M95.5 506.6l0.7 0M102.2 516.6l1.7 0.1M8.2 512.1l0.3 0.6M74.3 524l2.3 0.8M99.2 504.8l0.2 1.9M90.6 506.1l0 -1.5M64.3 518.5l0.4 0.6M10.8 515.7l1.5 -1.3M112 521.3l0.6 -1.1M98.5 494.8l0.3 -0.4M12.5 509.2l0.4 1.1M98.7 494.8l0.5 -1.1M43.5 495.5l0.8 0.4M56.1 504.2l0.7 0.3M10 504.2l1.4 2M98.3 486.4l0.7 2M33.9 525l0.5 0.4" stroke="#c8409a" stroke-width="2.0" stroke-linecap="round" fill="none"/>
<path d="M73.3 521.9l2.8 0.5M92.7 522.4l1.8 1.3M28 517.1l0.3 0.8M12.4 525.1l1.3 1.4M104 512.3l0.6 -2.7M29 503.3l1 -2.2M104.8 518.6l0.5 -1.3M45 501.1l1.5 -0.7M12.4 506.5l1 1.8M88.4 531.5l1.1 0.8M69.6 527.1l0.8 2M107 504.1l2.3 -1.2M81.3 485l1.4 -0.8M57.4 498.9l1.9 -1M56.6 524.2l0.7 2.6M66 517.8l2.4 -0.7M19.9 510.8l0.2 -1.4M101.1 509.3l1.4 1.8M30.8 520.4l1.4 1.4M117.8 530.8l0.3 -2.8M11.2 495.9l1.1 -0.4M12.5 503.7l1.3 0.2M99.3 524.4l1.7 -1.8M29.8 508.7l2 -1M104.2 489.6l0.4 -1.7M20 487.2l1.5 -0.5M51.1 485.9l2.3 -0.1M31.3 486.1l2.6 1.3M118.4 510.7l1.5 1.8M29.6 497.2l1.9 2M53.8 503l1.7 -0.6M14.9 522.5l1.6 2.5M121.4 526.5l0.6 -2.1M57.4 490.9l0.7 1.6M80.5 502.7l1.7 -0.5M80.5 508.9l0.2 -2.5M83.6 524.5l0.8 -1.3M100.9 526.8l1 1.2M36.5 506.4l0.8 -0.7M37.2 520l2.2 -1.3M95.8 504.3l2.1 0.7M80.8 525.9l2 0.6M90.5 501.2l0.1 -0.9M16.3 520.4l0.4 -0.9M12.2 499.3l0.9 1.3M116.8 529.1l0.6 1M117.2 499.5l0.6 1.6M93 521.9l1.8 0.2M59.1 519.1l0.7 -0.6M53.3 500.2l1.2 2M67.6 497l1.8 0.9M98.4 504.8l0.2 1.5M43.7 522.8l1.1 0.7M119.2 529.8l1.4 0.6M115 528.9l0.4 1.9M38.5 498.3l1.2 -0.2M36.4 493.4l2.3 0.2M49.6 493.2l0.2 0.9M119 530.7l2.2 -0M13.5 502l0.1 2.9M118.7 523.3l1.1 -0.2M39 525.7l0 1.1M52.8 504.1l0.9 -1.1M90.7 495.4l0.1 0.9M59.4 503l1.2 0M49.5 501.1l0.8 -2.5M85.8 495.1l1.4 -0.6M22.1 525.1l1 2.5M119.3 497.3l1.1 2.7M109.8 492.3l0.2 -2.2M96.8 502.1l1.3 1.6M110.3 518.3l1.8 1.2M86.9 514.9l1.2 -0.3M9.9 491.8l1.4 1.8M72.9 516.5l2.8 -0.4M15.4 502.3l0.8 1.4M117.8 501.3l1.8 -1.9M74.8 513.3l0.6 0.8M109 518.7l0.7 -2.1M16.5 522.4l0.3 -0.9M93.7 524.3l1.5 -0.2M104 497.2l1.8 1.3M109.9 493.9l2.4 -1.2M51.3 496.8l0.4 1M29.6 494.5l0.8 0.6M47.5 501.7l0.6 1.8M49.7 506.5l1.9 2.2M116.4 491.7l0.6 -0.6M8.6 527l1.2 0.9M88.8 492.3l1.3 1.5M9.4 525.7l1.6 -1.6M31.4 497.4l0.8 -1.4M99.3 486.3l1.2 1.6M94.9 514.3l1.1 -1.3M78 528.3l2 -1.7M60.6 488.4l2.5 -1.1M26.1 508.2l1.1 -1.5M101.5 491.2l2 -0.8" stroke="#ea98d4" stroke-width="1.2" stroke-linecap="round" fill="none"/>
<path d="M93.3 484.5l1.1 1.5M18.4 519.6l2.4 0.3M103.6 502.2l2.4 -0.9M62.5 529.6l0.9 -2.3M88.9 531.1l1.3 -1.3M37.6 507.8l0.9 -1.8M57.4 515.9l0.6 -1.8M16.8 494.6l0.9 0.4M67.7 517.8l0.8 -0.7M64.5 508.5l1.4 1.4M27.6 488l2.6 -1.5M18.1 493.5l1.1 2.2M42.5 522.8l0.5 1.5M111.1 509.7l2 1.7M107 529.3l1.8 -0.1M72.9 514.1l1 1.5M56.4 513.8l0.8 0.3M72.9 527.5l0.8 0.5M110.1 526.7l1.5 0.5M73.4 532.7l0.8 -2.6M16.4 485.9l2.6 1.3M30.2 517l0.2 -1.2M33.9 524.5l1.6 2.1M94.4 518.2l2 1.2M119.7 515.4l2.4 -0.4M98.4 509.4l1.2 -1M54.8 531.7l0.6 0.7M55.3 520.7l1.5 0.1M17.1 497.3l1.3 2.2M26.6 528.7l0.8 1M21.7 493.6l2.1 1.1M17.1 519l1.5 -1M71.8 494.9l0.8 -1.2M50.5 499.2l0.9 0.8M101.9 506.5l2.5 -0.4M53.8 518l0.7 2.3M120.1 520.5l0.8 -0.6M31.6 503.1l1.6 0.4M74.3 490.5l0.8 0.5M44.3 518.9l0.6 -1.3M80.3 490.2l1.9 -2M55 508.9l0 -1.1M68.2 523.8l2.7 1.3M114.1 487.4l1.4 2.4M91.3 486l0.9 -1.5M80.2 512.5l2.6 -0.6M117.1 503.1l1.7 0.3M24.7 507.4l0.2 2.1M28.5 491.6l1.6 -1.3M44 519.4l0.3 0.8M64 490.1l1.3 0.2M82 509l1.8 -0.1M64.8 484l1 2.3M47.9 485.6l0.6 1M59.8 525.9l0.8 -1M114.6 512l2.9 0.4M112.1 527.5l0.8 -1.8M14 520.3l0.3 -1.3M39.5 506.6l0.9 0.8M53.4 502.3l1.6 -1M33 523.5l1.1 -2.7M98.7 496.9l0.8 1.1M78.4 525.5l0.2 -0.9M44.5 503.3l1.5 -0.8M41.6 487.4l0.8 0M64 531.6l2.6 -0.6M8.8 530.9l2.2 0.7M33.1 486.2l2.3 1.5M24.8 484.5l1.3 1.6M19.8 511.1l2.3 1.1M19.8 494l2 -2.1M34.7 531l0.2 -2.2M80.5 520.7l0.5 -1.6M77.5 499.2l1.3 -0.5M47.8 524.6l0.1 2.4M74.1 514.3l1.5 0.8M82.2 500.9l1.9 -2.1M98.7 501.9l2.3 -0.9M65 528.1l2.1 -0.1M36 514.1l1.7 1M54.8 519.2l2.3 1.3M35.7 514.7l1.8 0.9M100.4 485.3l2.5 0.8M98.5 486.4l0.5 2.9M55.6 489.5l0.3 3M74.6 489l1.8 -1.6M12.6 490.6l2.7 1.1M110.1 516.6l0.8 -0.1M9.5 486.4l0.4 0.9M42.6 529.2l1.1 1.4M8.2 494.7l0.3 0.9M102.7 498.1l0.7 -2.6M94.1 501.8l1.1 1M52.6 492.3l1.3 0.5M9.4 488.3l1.7 0.2M46.7 527.6l0.7 0.8M70.1 528.4l0.1 -1M94.4 489.2l2.1 1.6M29.6 528.1l1.7 0.6M102.9 489.7l2.6 -0.5M105.1 513.8l2.1 -1M53.5 509.3l2.7 -0.1M117.8 489.2l0.6 -0.8" stroke="#ea98d4" stroke-width="1.6" stroke-linecap="round" fill="none"/>
<circle cx="47.5" cy="504" r="5.5" fill="#5e2a84" fill-opacity="0.5"/>
<path d="M43.5 507.1h0.4M48.9 503h0.4M51.1 506.3h0.4M46.5 505.9h0.4M44 500.7h0.4M45.1 508.2h0.4M50.8 507.9h0.4M44.2 501.5h0.4M46.6 500h0.4M45.8 505.9h0.4M43.9 501.7h0.4M48.8 501.3h0.4M45.1 504.2h0.4" stroke="#2c1650" stroke-width="1.5" stroke-linecap="round"/>
<path d="M42.9 503.3h0.3M47.2 506.3h0.3M48.8 501.2h0.3M45.1 507.5h0.3M49.8 499.5h0.3M44.3 500h0.3M50.1 505.6h0.3" stroke="#d0a8e0" stroke-width="1.1" stroke-linecap="round"/>
<circle cx="90" cy="515" r="6" fill="#5e2a84" fill-opacity="0.5"/>
<path d="M91 511.5h0.4M88 520.6h0.4M88 517.6h0.4M93.9 516.3h0.4M92.3 520.5h0.4M93.2 512.3h0.4M87.1 515.5h0.4M90.3 514.9h0.4M92 515.2h0.4M90 517.8h0.4M91.5 512.7h0.4M87.8 510.7h0.4M89.9 514.3h0.4M93.6 513h0.4M94.4 517.8h0.4M88.2 511.9h0.4" stroke="#2c1650" stroke-width="1.5" stroke-linecap="round"/>
<path d="M89.5 511h0.3M86 514.3h0.3M91.3 509.7h0.3M86.5 519.5h0.3M92.2 510.5h0.3M88.8 511.2h0.3M85.4 512.3h0.3M89.7 511h0.3M94.4 515.6h0.3" stroke="#d0a8e0" stroke-width="1.1" stroke-linecap="round"/>
<polygon points="34.3,500.2 36.5,496 40.7,499.4 37.5,498.8" fill="#f8c818" stroke="#fad030" stroke-width="1.3" stroke-linejoin="round"/>
<polygon points="79.5,513 81.7,508.8 85.9,512.2 82.7,511.6" fill="#f8c818" stroke="#fad030" stroke-width="1.3" stroke-linejoin="round"/>
</g></g>
<g clip-path="url(#c6)"><g>
<rect x="125.2" y="484.5" width="114.8" height="47.9" fill="#a52a7e"/>
<path d="M235.2 491.2l0 0M205.3 519.2l1.1 1.4M173.5 493.1l0.2 0M219.9 516.7l0.1 -0.4M200.8 528.5l0.6 -0.2M131.7 524.9l0.3 -0.3M145.1 528.2l1.2 -0.2M186.3 523.1l0.8 -1M234.2 490.4l1.2 -1.1M126.7 508.8l1.1 -0.6M197 513.7l0.7 -1.2M196.2 503.7l0.1 0.2M129.5 503.4l0.2 -1.7M178.3 496.6l0.3 -0.3M154.4 530.6l1.1 0.8M157 525.1l0.4 -0.4M164.6 522.5l1 -0M236.8 493.3l0.3 0.7M169.5 516.1l0.2 -0.3M230.9 500.7l0.1 0M212.6 485l1.6 1M162.1 517.7l0.3 -1.6M216.9 515.9l0.5 -0.4M137.9 527.1l0.4 1.6M152 494.8l0.3 1.2M178.3 498.4l0.3 -1M211.2 511.4l0.6 -0.6M166.6 498.2l0 -0M189 523.7l0.2 0.5M150.4 509.7l1.3 0.3M195.1 495.7l0.5 0.8M191.7 495.8l0.3 -0.8M130.3 513.2l0.4 0.5M217 509.2l1.7 -0.6M239.3 501l0.5 -0.8M206.2 497.1l0.1 -0.2M205.1 512.4l0.2 -0.4M196.8 500.3l0.6 0.6M141.1 527.8l1.9 0.1M204.4 510.1l0 0.3M169.5 497.8l0.7 1M232.3 532.4l0.2 -0M161.2 524.8l0.5 -0.8M146.9 495.4l0.2 -1.5M220.3 490.5l0.2 -0.7M234.7 530.8l0.2 -0.2M153.7 531.2l1.2 -1.4M192.1 524.7l0.2 -0.5M210.8 503.8l0.9 1M152 511.5l0.7 -0.7M156.5 500.9l0.3 -1.9M137.2 508.7l1.6 -0.6M209.3 531l1.5 -0.4M212.5 519.6l0 1M171.3 496.1l1 -0M235.7 519l0.5 0.5M180.7 530.7l0.1 -1.6M171.7 506.9l0.1 -0.1M166 487.1l0.5 -0.2M134.4 519l1.4 1.4M190.2 522.9l1 0.3M223.5 499.8l1.5 -0.9M209.5 525.1l1.1 1.7M186.3 492.6l0.8 0.6M191.3 498.1l0.4 -0.1M202.3 513.8l0.3 1.2M239.4 501.6l1 -0.8M192.9 490.4l1.9 0.2M158.7 493l0.1 -1.8M206.7 493l1.2 0.6M222.5 518.5l1.5 -1M153.4 498.8l0.8 0.7M170.4 524.8l0.6 0.8M231.6 496.5l1.2 0.2M141.8 525.2l0.9 0.1M223.4 505.9l0.6 0M226 506.7l1.2 1.3M144.3 519.3l0.2 -0.2M211 502.4l0.1 -0.8M197.5 514.8l0.4 1.3M139.2 519.1l0.6 -0.5M147.1 525l0.2 1.5M130.6 528.9l0.3 0.1M214.1 498.5l0 -0M152 528.4l1 0.6M231.6 526l0.8 1.3M158.3 525.9l0.7 0.6M164.8 527.5l1.1 0.7M198.3 510l0.9 -0.5M150.4 502.9l0 -0M140.7 493.8l0.6 -0.5M221.8 508.1l0.3 -0.7M176.5 530.2l0.7 0.6M232.5 495.9l1.1 0.9M141.9 511.5l0.5 0.9M129.3 485.3l0.2 0.6M190.3 491.4l0.8 -0.7M205.3 521.6l0.1 -0.3M160.1 524.2l2 -0M173.3 486l0.9 0.2M184.9 519.6l0.1 0.7M226 506.2l0.7 0.9M196.8 510.1l0.9 -0.1M238.2 502.5l0.2 0.1M196.8 524.3l0.2 -0.8M160.9 487.9l0.7 -1M198.7 491l0.6 0.9M180 523.4l0.7 0.6M153.3 490l0.7 -0M213.5 499.1l0.1 -1.3M143.2 505.3l0.4 0.6M224.5 509.2l1.3 0.6M173.5 496.7l0.2 1.3M144.8 511.1l1.5 -0.8M180.5 509.6l1.2 0.5M211.1 514.9l0.1 -1M198.9 486.7l0.6 -1.7M228.8 511.9l0.2 0.6M190.3 503.1l0.9 -1.6M129.6 494.1l0.2 -0.1M150 502.1l0.9 0.7M138.5 514.1l0.4 0.8M130.5 517.6l1 0.6M232.8 525.2l0.6 1.3M162.6 495l0.1 1.2M176.8 487l0.5 -0.8M126.8 499.9l0 -0M169.2 501.1l0.6 -1.7M232.1 508.5l0.2 1.2M218.8 523.6l1.8 0.2M172 491.2l0 -0.2M149.7 525.4l0 -0.1M149.3 486.3l1 -0M203.1 518.2l0.6 1.7M210 520.6l0 0.1M229.9 515.4l1.1 0.7M204.1 517.5l1.5 -0.7M170.8 502l0.2 -1M137.9 506.5l0 0.7M239 506.6l0.4 0.2M150.8 517.3l0.3 1.3M204.2 528.3l1.5 -0.6M163.9 512.3l1.1 -0.2M230 526.4l1.3 0.6M183.5 511.8l0.9 1.5M193.2 525.7l0 -0M177.9 508.6l0.1 0.1M155.5 532.5l0.4 -0.5M171.2 500.2l0.5 0.9M161.8 511.5l1.1 -0.1M192.7 516.1l0.6 -1.1M142.9 508.6l0.7 -1.2M131.6 528.4l0.3 1.1M228.8 523.1l0.6 1.4M216.3 485.8l0.2 0.9M162 509.4l0.1 -0.4M208.9 521.6l1.8 0.3M158.6 512.6l1.3 0.4M183.1 498.7l0.1 0M237.5 521.4l0.6 0.9M220.7 515.8l0.1 -0.5M164.6 488.6l0.1 1.4M197.2 486.1l0.7 1.5M230.2 510.8l0.2 -0.3M192.5 492.1l0.8 -0.2M154.2 495.2l0.2 -0.7M141.1 486.4l1 0.4M183.9 530.7l0.5 1.1M195.8 497.1l0.6 0.6M130 507.4l0.5 1.7M154.4 515.8l0.7 1.1M225.2 524.6l0.1 -0.4M203.5 486.5l0.1 -1.3M158.6 503.4l0.3 -0.2M219.6 493.3l0.5 -0.5M236.9 495.1l0.1 -0.3M161 507l0.1 -0M179.3 506l0.6 0.1M148 529.8l1.4 -0.3M170 486.9l0.3 0.2M164 521.6l0.1 0.2M176.6 501.3l0.1 0.2M206.6 530l0.3 -0.7M155 512.2l0.7 -1.2M199.9 508.4l0.1 1M227.5 519.7l0.2 0" stroke="#561250" stroke-width="1.3" stroke-linecap="round" fill="none"/>
<path d="M151.5 530.4l0.6 0.2M205.6 486.6l1.7 0.5M205.3 513.6l0.1 0.5M227.6 526.2l1.9 0.1M173.2 496.3l0.2 0.5M158.8 513.1l1.1 -0.2M135 532.3l0.7 -0.2M136.1 527.4l0.3 0.1M131 503.4l0.4 1.6M129.9 490.9l0.6 -1.3M238.6 519.8l0.7 0.6M236.2 501.5l0.1 -0.2M181 487.7l0 0M211.7 514.9l0.1 0.1M232 511.4l0 0.4M131.6 509l0.2 -1.2M205.1 498.4l1 -1.2M222.1 496.2l0.5 -1M144.5 522.8l1.8 0.3M147.8 502.8l0 -1.9M136.3 487.7l0.4 0M229.1 503.8l0.9 0.9M152.9 489.9l0.2 0.6M179.7 504.1l0.4 0.6M219.1 489.5l0.6 0.8M133 500.4l0.2 0.7M174.6 510.4l0.8 -0.1M221.9 520.6l0.2 0M196.6 485.2l1.8 0.5M186.8 512.4l0.2 0.3M176.1 518.4l1.3 0.8M168 515.8l0 -0.5M204.3 516.5l1.4 0.2M195.7 501.9l0 0M223.2 530.9l0.5 0.1M177 502.9l0.1 0.1M238.7 493.6l0.8 0.4M197.2 498.8l1 0.9M160.4 512.1l0.8 -1.8M169.3 488.6l1.4 -1.1M209.3 484.3l1 1.5M214.7 514.6l0.5 -1.3M140.8 490.2l0.1 1.5M164.7 531.8l1.1 0.6M188.7 495.8l0.5 -1.2M212.8 484.2l1.2 0.8M145.2 497.5l0.2 -0.6M191.6 485.4l0.4 0.5M169 501.5l1 0M194 492.1l0.3 -2M162.5 497.6l0.3 -0.7M163.8 526.5l0.4 0.6M152.1 505.2l0.2 -0.1M176.1 530.7l0.5 0.7M138.1 499l0.2 -0.5M186.4 531.6l1.1 0.3M208.1 530.1l1.4 0.3M188.6 501.6l0.4 -0.2M202.3 497.3l0.3 -1.8M154.5 520.3l0.1 0.8M172.5 531.6l1.6 0.4M159.5 511.8l0.1 0.1M197.5 503l0.2 -0.8M208.9 488.3l1.1 1.2M231.8 527.7l0.9 -0.3M150.3 508.4l1.2 -0.8M236 492.9l0.3 -0.9M135.1 517.5l0.6 -0.1M185.9 488.6l0.2 0.5M221.6 492.6l0.7 0.7M239.2 497.3l0.7 -0.3M203.5 518.7l0.1 0.1M148.6 513.4l0.2 -0.8M195.3 528.8l1.2 1.1M127.4 486.3l0 -0.6M226.8 527.9l0 -0.1M239.3 486.1l0 0M211.9 527.4l0.1 0.1M143.2 525.7l1.9 -0.4M217 518.5l1.4 -1.4M235.6 521l0.6 0.3M185.1 527.3l0.6 -0.4M205.8 485.4l0.6 -0.9M193 524.1l1 -0M199.7 485.1l1.4 0.3M190.9 532.4l0.3 -0.7M197 487.2l0 0M142.1 519.5l0.1 -1.5M166.4 492.5l0.3 0.6M199.2 516.9l0.2 -0.1M173.1 511.7l1.1 -0.7M207.5 484.7l0.8 0.5M174 524.9l1.4 -1.2M229.1 523.9l0.3 -0.7M202 492.9l0.5 -0.4M135.7 490l0 -0.2M238.6 484.5l1.2 0.3M200.8 496.7l0.9 0.4M165.9 491l0.2 -0.1M138.9 503.8l0.4 0.1M174.3 528l0.3 0.7M192.8 493.7l0.6 -0.2M216.9 497.2l1.5 -0.3M224.2 527.4l0.3 0M162 525.8l1.7 -0M208.1 490.9l0.4 -1.1M154.6 516.4l0.2 -0.1M183.7 519.4l1.5 0.9M203 525.3l0.6 1.3M195.6 504l0.2 -2M154.7 526.7l1.6 -0.6M200.5 528.1l0.3 1.7M136.7 496.9l0.1 -1M125.3 528.6l0 1M220.7 525.8l1.4 0.3M199.6 499.9l1 -1.7M162.3 529l1.1 -0.2M238.4 507.4l1.6 0.2M174.5 515l1.5 1.3M168.2 517l0.1 -1.8M155.8 490.6l0.3 -0.9M175.4 498.5l0.9 -0.1M192.6 499l0.6 1.2M164.7 503.2l0.6 0.3M206.5 494l0.2 -0.4M144.8 503.7l0.9 0.9M155.8 506.2l0.1 0M175.5 502.1l1 1M181.8 521.5l0.1 -0M199.5 527.6l0.8 -0.9M179.3 526l1.3 -1.3M187.2 526.9l0.8 0.9M167.2 525.1l0.4 0.5M172.3 490.7l0.3 0.4M177.8 514.3l0.1 -0M220.5 524.5l1.5 -0.4M183.4 508.5l0 -0.1M222.1 503.4l0.2 -1.1M237.1 490l0.7 0.1M142.7 524.4l0.2 -0.3M148 513.6l0.9 -0.9M200.4 512.7l0.7 1.8M135.2 520.2l1.8 0.3M132.1 484.1l1.4 1.4M217.1 523l0.3 0.3M143.4 506.9l1.6 1M182.7 496l1.6 0.2M177.4 494l0.1 -0.6M220.6 531l0.3 -0M214.3 506.8l0.6 -0.7M140 485.4l1.6 -0.1M221.1 515.5l1.1 -0.8M151.9 484.4l1 0.8M139.8 530l0.6 -0.8M233.4 503.4l0.5 1.3M132.1 506.9l0.3 1.7M199.4 498.7l0.7 -1.8M187.6 513.4l0.2 -0.8M142.1 525.9l0.8 -1M227 525.4l1 1.1M137.6 530.9l1.8 -0.5M154.1 525l0.3 -0.2M125.2 512.7l1 0.1M146.2 528.5l1.1 -0.7M205.3 527.7l0.5 1M138.7 501.5l0.2 -1M201.3 510.2l0.4 0.1M186 508l0.6 -0.6M207.7 530.4l1.6 0.7M185.9 526.6l0.1 -1.2M203.3 523.2l0 0M149.8 500.1l0.1 0.4M192.9 484.2l0.1 0.7M231.3 507.9l1.8 -0.4M191.9 509.6l0.2 1.6M206.9 513.2l1 -1.4M236.5 507.9l1.5 -0.1M173.5 514l0.9 -0.7M195.1 512.4l1.8 -0.8M172.6 512.9l0.2 -1.4" stroke="#561250" stroke-width="1.8" stroke-linecap="round" fill="none"/>
<path d="M148.2 494.5l0.3 0.7M178.4 512.3l0.2 0.9M159.4 494.7l0.2 -1.5M158.8 486.8l0.5 0.3M137.6 486.4l0.6 -0.7M162.7 494.2l1.4 1M138.1 529.4l1.5 -1.4M140.3 520.4l1 -0.3M187.9 493.7l0.8 0.2M155.6 505.4l0.2 1.1M172.2 529.6l1 -0.5M191.4 491.3l2.3 -0.8M195.7 487.8l0.9 1.1M134.1 515.6l0.8 -0.6M231.3 527.2l1 -1M201.8 507.3l0 0.7M207 492.8l1.5 1.2M159 524.9l0.8 -1.2M134.3 515.4l0.4 -0.9M167.6 527.9l0.8 -0.2M197.9 495.6l0.4 0.6M157.4 513.8l0.2 -0.9M204 499.2l1.4 1M171.6 494.1l1.9 0.3M146.7 517.3l0.2 0.7M189.9 496.3l1.6 -1.5M171.7 503.4l1.4 0M138.5 501.5l0.8 -0.5M137.3 501l1.5 1.6M194.2 492.9l0.1 -1.1M127.3 529.3l0.4 -1.6M197 519.6l1.2 -1.2M128.2 492.9l1.2 0.2M162.7 512.4l1.1 0.2M160.9 502.1l1.3 -0.3M225.5 507.8l1.9 -0M175 521.4l0.5 1.3M158.2 518.3l0.3 1.4M161 494.1l1.4 -1.9M171.8 494.1l1.3 0.2M147.6 507.7l1.5 0.3M148.7 510.8l0.9 -0.5M181 488.6l0.6 0.2M130.3 503.8l2.3 -0.6M234 531.3l1.7 -0.7M178.6 486.9l0.8 -1M134.4 507l1.5 -1.2M227.4 528.6l0.7 1.5M203.4 492.1l1 -0.4M229.7 502l0.9 -0.1M192.5 523.8l0.2 -0.9M164.8 491.3l0.1 1.1M185 496.5l1 -0.1M230 492.1l1.2 -1.5M223.9 485.5l2.3 -0.2M224.3 500.2l0.5 -0.9M148.2 493.9l1.3 -0.1M212.2 490.7l2 -0.2M165.7 498.8l0 2.2M235.9 519.6l1.5 -0.2M232.3 507.8l1.1 1.5" stroke="#c8409a" stroke-width="1.4" stroke-linecap="round" fill="none"/>
<path d="M170.5 522.8l0.3 -2M223.3 498.2l1.8 -0.1M192.3 517.7l1.2 2M198.1 492.5l1.6 1.5M128.5 499.6l2.4 0.1M174.2 499l0.8 0.2M143.7 526.6l0.2 -1.9M181.7 529.8l1.5 -0.8M238.1 509.6l1 1.4M139 500.7l1.2 0.6M167.8 514.1l1.3 0.3M157 498.3l1.9 0M206.1 510.4l1.5 0.8M237.5 504.5l1.2 0.4M189.8 485.3l1.1 0.4M221.3 491.6l1.4 -0.9M181.8 527.5l1.2 0.6M125.5 520.3l1.5 1.4M135 498.6l2.2 0.1M153.9 526.2l1.2 -2M239.7 486.4l0.3 0.9M128.8 500.2l1.4 0.4M162.2 507.9l0.4 0.5M223.9 517.4l0.2 -1.3M158.8 495.9l0.7 1.1M209 530.5l0.2 0.5M216.5 512.6l0.1 -1.3M134.9 498.5l0 2.3M135.8 498.2l1.1 -1.3M226.7 489.8l0.6 -1.5M151.7 523.6l1.8 -0.2M164.7 503.3l0.5 -0.4M233.5 492.8l0.9 0.6M201.5 523.8l0.1 0.6M186.9 505.3l1.7 1.4M138.9 500.8l1.1 -0.2M177.8 487.5l1.4 1.4M228.5 514.4l1.5 1.3M206.5 531.5l1 0.3M152.3 530.5l0 1.3M136.8 512.4l1.1 -1.8M190.9 519.3l0.6 1.9M141.4 523.1l0.2 0.6M139.9 493.2l0.2 2M226.3 518.2l0.5 0.9M208.6 488.3l0.6 -2.4M182.5 526.5l1.2 -0.6M236.8 494.1l1.8 1.6M167.5 488.3l1 2.2M184.3 487.4l0.4 -0.5M215.6 521.3l1.7 -0.6M179.5 487.3l2.3 -0.1M170.7 531.6l1.1 0.4M185.8 509.3l1 1.1M172.4 497.1l1.3 -0.1M198.2 531.6l0.5 -1.5M206.6 500.6l0.4 -0.6M228.4 526.2l1.8 1.3M141 510.5l1.5 1.5M208.9 492.5l2 0.3M219.1 507.6l1.8 0.2M195.9 530.6l1.5 -0.6M190.1 527.1l0.1 0.5M161.1 510.5l0.8 0.8M153.4 518.8l0.2 -1M225.9 513.6l1.5 0.6M167.3 529.8l0.6 -1M167.2 485.6l2 0.6M184 485.2l0.1 -0.6M149.4 523.4l1.6 -1.3M160.5 530.3l0.2 1.9M231.1 514.8l1.8 -0.1M206.6 524.3l1.8 1.3M168.4 527.4l1.4 -0.7M174.7 501.3l1.1 1.7M207.9 511l0 2" stroke="#c8409a" stroke-width="2.0" stroke-linecap="round" fill="none"/>
<path d="M235.4 503l2 1.4M130.2 502.8l2.1 0.5M192.3 529.4l0.1 1.2M189.8 485.7l0.5 1.8M157.5 521.8l0.3 -1.3M159.9 510.9l1.8 -0.6M165.2 514.8l0.2 1.6M220.3 518.4l2.5 0.3M125.1 513.4l1.3 0.7M138.2 499.6l2.1 1.4M197.7 509.4l2.1 1M163.4 530l1.4 -1.1M194.6 529.9l0.3 1.3M216 510.8l1 -0.8M169.1 498.7l1 2.5M143.9 529.2l1 1.4M204.1 527.7l1.5 0.5M179.3 529.7l0.1 2.4M128.9 483.5l0.6 2.8M209.4 522.4l0.2 -1M191 512.5l0.7 0.6M228.4 523.3l1.6 1.5M194 514.2l2.3 -1M164.6 519.7l1.8 -0.2M144 496.8l1 -1.3M238.3 488.3l1.1 -2M175.5 504.5l0.6 -2M141.3 511.7l2.4 1M234.5 488.5l2.5 -1.5M173.8 497.7l2.6 0.9M192.6 508.8l1.3 0.8M206 503.6l1.6 -1.6M203.3 484.7l0.6 1.3M211.8 506.7l1 -2.5M209 492.9l0.2 -0.9M172.9 493.4l0.6 1.2M220.1 515.1l0.1 1.5M208.2 528.1l2.5 -0.4M177.9 505.7l1.9 -1.6M192.8 494l0.3 -1.4M150 500.5l0.6 0.6M148.8 507.1l0.1 -1.9M215.2 525.8l1.2 1.2M194 508.8l0.9 -2.5M190.2 523.2l0.2 2.5M195.8 489.9l0.5 -2.8M129.2 511.1l1 1.3M158.9 521.2l0.6 -0.6M131.9 521.4l1.9 -0.2M213.9 517.6l0.4 0.8M165.1 512.9l1.5 1.9M215.2 517.7l0.4 2M228.6 523.6l1.3 0.4M159.6 519.6l2.9 -0.5M137.5 516.9l1.1 1M219.7 507.3l0.3 0.8M217.6 502.8l0.7 2M139 484.8l2.5 0.9M171.3 494.7l0.3 2.7M231.6 502.8l0.9 -2.7M231 491.7l0.7 -0.4M231.4 492.5l0.1 0.8M215.5 501.2l0.3 -0.9M224.4 495.2l2.6 0.8M186.8 497.6l1.7 2.1M171.7 510.1l0.4 2M165.4 495.1l0.9 -0M144.1 495.3l0.9 -2M138 500.6l2.5 -0.9M208.2 516.4l0.1 2.1M154.3 519.4l0.9 -0.9M167.1 525.8l0.3 -2.9M176.5 522.7l2 0.5M150.8 485l0.9 1.3M237.9 517.2l1.9 1.1M152.4 496.4l2.4 -0.6M149.7 504.6l1.6 -0.9M196.3 495l1.9 0.7M209.9 508.7l1.7 -0.9M187.2 515.1l0.8 0.1M188.7 515.8l0.5 -0.8M199.3 526.2l2.4 0.1M175.3 485.1l0 1.2M234.4 493.5l1 -1.5M147.9 518.6l1.8 0.4M170.7 523.7l1.7 0.7M218.4 521.6l1 -0M183.5 526.9l0.8 -1.6M206.1 515.8l0.7 1.2M131.8 526l0.4 2.8M148.4 488.9l0.1 1.3M135.2 492.8l0.9 2" stroke="#ea98d4" stroke-width="1.2" stroke-linecap="round" fill="none"/>
<path d="M232.7 511.2l1.1 -2.2M149.6 507.7l1 0.6M236.2 525.6l0 -1.3M128.9 496.6l2.4 1.1M185.3 500.9l1.6 0M176.4 497.4l2.1 1.9M146 522.5l1.8 -1.1M153.6 488.8l0.4 -2.3M221.3 529.6l1.3 2M173.9 490l0.3 -1.6M230.2 526.6l1.1 0.6M235.5 504.7l0.9 1.7M142.5 526.4l0.4 1.9M168 513.2l0.8 0.8M160.8 513.8l1 0.6M204.8 501l1.8 1M136.5 509.4l0.5 0.7M193.8 501.6l0.6 1.4M154 502.9l1.9 0M223.6 499.1l0.3 2.9M204.8 517.1l0.6 2.5M173.7 500.8l1.7 -0.2M234.1 519.1l2.2 -1.3M143.3 527.3l1.3 -1.7M163.3 501.6l1.8 -1M228.1 530.1l0.2 -1.9M236.6 491.1l0 3M161.5 511.4l0.9 1.5M140.2 529.9l0 1.4M125 506.1l2.9 0.3M184.8 492.8l0.2 -1M128.2 517.8l2.6 -0.6M191.1 515.9l1.4 1.5M132.1 500.5l0.1 1M130.9 495.8l0.1 1.2M228.6 515.4l2.4 -1.8M215.5 522.4l2.4 0.3M195.8 517l1.6 -0.6M145.9 506.4l0.6 -1.6M178.3 504.7l0.7 -1M164 490.9l0.7 0.9M154.9 488.9l2.2 0.1M209.9 489l1.8 1.6M127.8 529.9l2 -0.2M220.7 495.6l0.2 -1.1M142.1 526.3l2 -0.6M157 496.3l0.4 -1.5M191.8 523.3l0.7 -2M132.4 505.4l2.9 0.5M189.1 497.7l0.9 1.7M129.2 489.5l1.3 0.5M199.4 525.1l0.9 -2.1M166.2 529l1.8 0.9M184.1 500.4l0.2 -1.8M154.6 528.4l0.9 -0.2M178.9 527.7l2 2.1M221.4 492.2l1.8 0.6M198.6 514.2l1.3 1.2M204.9 497.3l2.2 2M208.1 516.4l1.6 1M131.8 485.7l2.9 -0.2M148.3 529.3l0.8 2.6M142.9 532.6l2.1 -1M137.5 528l0.7 2.8M208.3 491.3l2.8 -0.3M158.6 526.3l0.8 0M178.2 499.7l1.2 2.3M206.4 487.3l2 0.2M233.8 524.5l2.1 1.8M224.5 518.6l1.1 1.7M187.9 497.6l0.8 0.2M137.5 489.6l0.6 -1.7M227.7 529.3l0.6 -1.7M138.2 529.7l1.7 -1.9M180.5 508.7l0.8 -0.6M195.2 486.9l0.6 0.9M216.9 526.9l1.5 -2.1M166.6 504.6l2.5 0.3M184.8 491.1l2.3 0.7M202.3 510.5l2.5 0.8M212.6 498.4l1.4 1M177.3 532.4l1.2 -0.1M224.1 488.1l1.1 2.6M135.1 496.6l0 -1.1M193 486.9l1.4 -1.2M177.5 492.8l0.4 -1.5M173.6 492.7l0 0.8M218 500.2l1.9 1.9M191.1 491.2l1.1 -0.2M207.4 511.9l2.5 1.2M216.9 511.9l1 0.6" stroke="#ea98d4" stroke-width="1.6" stroke-linecap="round" fill="none"/>
<ellipse cx="147.5" cy="494" rx="4.5" ry="5.5" fill="#7e1648" fill-opacity="0.85"/>
<path d="M140.8 489L145.8 507.5M151.7 499L160.9 487.4M125.5 506.5L140 506.8" stroke="#e4a6d4" stroke-width="2" fill="none"/>
<polygon points="125,508.3 132.4,507.9 140.8,509.2 145.8,511.7 147,514.5 145.8,516.7 140.8,517.5 132.4,515.9 125,514.2" fill="#d4c6ca" stroke="#e2bcd8" stroke-width="1"/>
<polygon points="145,524.3 149.2,521.7 157.5,521.7 159.2,524.3 155.9,527.6 147.5,527.6" fill="#d4c6ca" stroke="#e2bcd8" stroke-width="1"/>
<circle cx="165.5" cy="514" r="7" fill="#5e2a84" fill-opacity="0.5"/>
<path d="M164.7 513.9h0.4M171.1 510.6h0.4M168 520.1h0.4M166.3 508.9h0.4M167.5 511.3h0.4M171.4 517.4h0.4M164 511.2h0.4M162.1 513h0.4M162.2 509.7h0.4M170.6 514.7h0.4M162 508.2h0.4M159.7 511h0.4M168.5 514.2h0.4M168 517h0.4M165 510.6h0.4M165.9 515.5h0.4M161.5 509.2h0.4M168.9 517.2h0.4M165.8 509.5h0.4M159.8 516.2h0.4M170.9 517.4h0.4M169.7 518.5h0.4" stroke="#2c1650" stroke-width="1.5" stroke-linecap="round"/>
<path d="M170.6 513.8h0.3M163.7 508.3h0.3M170.6 512.4h0.3M164.8 515.1h0.3M169.6 517.1h0.3M168 512.9h0.3M163.2 515.4h0.3M164.7 508.8h0.3M158.6 513.9h0.3M169.6 509.6h0.3M168 520.5h0.3M161.4 515.3h0.3" stroke="#d0a8e0" stroke-width="1.1" stroke-linecap="round"/>
<circle cx="196" cy="497" r="8" fill="#5e2a84" fill-opacity="0.5"/>
<path d="M197.7 504.7h0.4M197.3 493.8h0.4M200.6 497.5h0.4M191.9 495.8h0.4M190.2 500.2h0.4M198.7 499.7h0.4M190.1 497.3h0.4M198.3 491h0.4M198 491.1h0.4M200.5 501.2h0.4M188.6 495h0.4M193.4 501.3h0.4M193 495.2h0.4M190.1 499.1h0.4M199.2 493.4h0.4M195.1 489.2h0.4M195.4 499.7h0.4M196 499.3h0.4M190.5 500.6h0.4M192.9 504.2h0.4M195.5 493.7h0.4M192.2 501.4h0.4M190.8 497.8h0.4M200.9 499.9h0.4M196.5 504.1h0.4M191.2 492.4h0.4M200.6 491.4h0.4M191.3 499h0.4" stroke="#2c1650" stroke-width="1.5" stroke-linecap="round"/>
<path d="M198.8 501h0.3M195 503h0.3M194 499.3h0.3M195.8 489.9h0.3M199.4 498.5h0.3M191.6 497.2h0.3M189.5 500.3h0.3M194.5 503h0.3M196.6 504.6h0.3M199.8 497.5h0.3M199 503.4h0.3M197.9 490.5h0.3M193.9 500.4h0.3M193.1 502.8h0.3M199.2 494.8h0.3M200.9 492.4h0.3" stroke="#d0a8e0" stroke-width="1.1" stroke-linecap="round"/>
<polygon points="178.5,493.8 180.7,489.6 184.9,493 181.7,492.4" fill="#f8c818" stroke="#fad030" stroke-width="1.3" stroke-linejoin="round"/>
<polygon points="150.2,509.4 152.4,505.2 156.6,508.6 153.4,508" fill="#f8c818" stroke="#fad030" stroke-width="1.3" stroke-linejoin="round"/>
</g></g>
<g clip-path="url(#c7)"><g>
<rect x="7.3" y="545.5" width="114.5" height="48.1" fill="#a52a7e"/>
<path d="M54.9 570.5l1.3 -0.6M30.7 547.5l0.4 -0.6M74.6 567.6l0.7 -1.1M67.9 577.8l1 0.3M26.4 592.4l0.1 -0M25.9 556.4l0 -0M116 555.9l0.2 0M86.3 572.6l0.1 -0.5M110.3 566.6l0.2 0.6M109.5 578.3l0.7 0.5M69.7 565.7l0.3 0.5M35.7 591.3l0.2 0M116.3 565.6l0.5 0.2M67.3 560.7l0.5 -1.7M68.9 578.4l0.3 0.7M11.9 584.4l0.5 -0.2M40 548.8l1.6 0.9M12 550.5l0.1 1.5M71.8 582.3l1.6 0.5M44.7 551.9l0.1 0.2M53.6 548.4l0.6 -0.1M57.5 553.6l1.6 0.4M119.6 577.7l0.2 -0.8M69.3 551.3l0.1 -0M119.4 584l0 -0.2M45.8 580.9l0.4 0.2M118.1 551.6l0.4 -1.6M117.4 546.7l0.2 0.9M65.9 558l0 1.1M107 554.5l1.1 1M81.7 551.9l1.7 -0.1M36.5 590.3l1.1 -0.4M71.8 572.7l1.5 0.7M7.9 569.7l0.7 -0.6M102.1 554.9l1 1.3M93.3 554.9l0.3 0.2M103.1 557.8l0.6 1M79.3 565.9l0.4 0.1M45.4 573.5l0.6 -1.9M91.1 552.6l1 0.5M57.8 548.7l1.4 -1.2M50.3 580.6l0.1 0.3M9.4 586.3l1.3 0.9M84.4 553.9l0.4 0.3M62.2 580l0.1 -0M35.8 589.5l1.6 1.1M110 574.7l0.3 -1.4M110.2 581.4l0.6 0M90.1 585.9l1.6 0.2M96.4 571.5l0.2 0.2M26.8 574.6l0.5 0.7M88.2 589.7l0.8 1.8M117.4 587l0.2 0.3M17.1 553.8l0.1 0.4M99.5 588.8l0 -0.1M73 586.9l0.5 1.4M38.2 582.8l0.1 -0.3M67.5 569l0.6 0.8M104.2 545.8l0.7 -0.4M45.1 589.8l0.5 0.9M79.6 577.9l1.2 -0.9M52.5 572.4l0.4 1.3M73.6 588.8l0.2 -0.3M68.7 567.1l1.3 -0.1M51.5 549.3l0.5 1.5M115.5 555.5l0.1 -0.3M33.6 556l0.7 -0.1M40.6 587.6l0.1 -0.5M117.3 548.9l0.5 -1.9M76.4 551.4l0.3 -0.7M78.1 564.9l1.2 -0.9M51.9 567.8l0.7 1M7.5 586.7l0.1 0.3M24.3 566l0.4 -0.5M88 575.5l0 0.2M87.7 546.8l0.4 -0.4M24.2 574.3l0.2 -0.6M64.3 549.1l0.4 0.3M84.8 561.9l1.1 1.2M37.5 577.6l0.6 1.1M113.5 580.1l0.4 0.1M60.6 570.2l0.7 1.8M97.4 585.6l0.7 0.2M42.1 545.2l1.1 1.6M65.5 555.6l0.2 -0.2M40.2 557.7l0.7 0.7M49.8 574.8l0.4 -0.2M84.9 582l1.1 -0.2M8.3 594l0.1 -0.9M68.5 567.5l0.2 0.3M88.7 568.1l0 -0M62.9 562l1.5 1.3M39.6 556.9l0.9 -0.5M90.9 548.4l0.4 0.2M34.7 569.8l0.5 0.2M44.9 561.3l0.6 -0.6M32 584.3l0.6 1.5M75.1 571.5l1 1M89.8 555.2l0.7 1.5M81.9 578.5l0.1 -0.1M110.2 550.8l0 0M13.3 559.1l0.7 0.5M105.7 550.8l0.4 0.4M80.4 546.3l0.3 0.4M43.7 561.6l0.3 -0.4M69 554.8l0 -0.2M7.8 571.7l1.3 -0.3M41.7 549.1l0.9 1.3M7.6 564.4l0.3 0.1M100.3 575.3l0.1 -0.6M77 591.8l0.2 0.2M20.4 579.8l0.5 -1.5M29.7 578.6l0.1 -1M8.6 581.5l1.5 -0.6M23.7 585.5l1.1 -0.6M110.2 581.8l0.2 0.8M115.9 546.8l0 0M64 545.3l0.4 1M116.8 546.3l1.2 -0.1M67.7 554.2l0.3 -1.1M19.3 547.4l1.5 0M95.7 577.3l0 0M21.6 555.1l0.2 -0.4M86.5 561.8l0.1 0.8M45.3 578.7l0.2 0.8M14.8 553l0.2 -0.1M53 588.7l0.3 1.3M15.5 546.1l1.7 -0.9M120 570.7l0.6 0.2M13.8 554.1l0.6 0.7M76.8 558.3l0.1 -1.9M42.5 577.8l0.8 0.8M71.7 559.7l0 0.6M88.9 562.4l0.7 -1.2M63.8 565l0.6 -0.3M17.8 566.4l0.8 0.4M54.9 588.3l0 -0.1M53.7 548.8l0.1 0.4M11.7 586.3l0 0.2M64.2 585.8l1.3 -0.2M73.5 561.1l0.7 0.7M112.4 553.3l0.1 0.1M42 562.9l0.8 -1.8M85.4 590.9l0.3 0.1M102.7 587.8l0.2 0M67.2 572.8l0.9 -0.8M108.7 563.2l0.4 -0.6M112.9 547.9l0.9 -0.3M75.5 565.7l0.2 -0.9M34.9 578.4l0.3 -0.1M28.3 550.3l0.3 0.7M55 585.4l1.8 0.8M106 583.3l1 0.4M16.4 593.5l0.4 -1.7M98.5 546.1l0.7 0.5M111.4 568.7l0.7 0.3M102.4 545.8l0.2 1.2M74.2 580.8l0.2 -0.6M31.6 561.1l0 -1.6M44.6 571l1.5 1.3M20.1 576.1l0.6 0.1M106.9 562.1l0.1 0.1M13.4 565.3l0.9 1M11.3 554.9l0.5 0.1M100.1 571.2l0.3 0M52.3 580.9l0.7 0.5M118.5 578.3l0.4 -1.1M91.8 573l0.6 0.9M44.7 557.7l0.9 1.7M78 554.4l0.1 -0.1M90 581.2l1.1 -1.1M10 552.3l0.2 -0.1M112.9 562.7l1.4 0.6M110.4 560.4l0.9 0.6M40 553.7l0.8 -0.2" stroke="#561250" stroke-width="1.3" stroke-linecap="round" fill="none"/>
<path d="M113 592l0.5 -1.7M55.7 571.1l0.1 -0.2M8.6 576.2l0.6 -1.7M117.8 563.3l1.4 -0.6M82.8 560.6l0.2 -0M18.3 547.3l0.5 0.1M19.6 588.3l0.4 1M70.1 557.8l0.1 0.2M33.7 571.5l1.8 0.5M68.3 593.4l1.3 -0.7M63.2 547.2l0.5 0.1M101.4 551l1.1 -0.6M33.8 572.6l0.9 -0.1M7.4 564.4l0.7 -1.4M30.4 578.3l0.3 -0.1M105.5 569l1.3 0.8M40.4 561.1l0.6 -0.4M24.9 547.1l1.5 0.9M64.7 551.2l0.3 -0.9M7.9 548l0.5 -1.5M78.3 583l0.4 0M76.5 552.3l1.5 -0.1M117.5 593.8l1 -1.2M83 571l0.4 0.1M58.7 576.8l1.7 0.8M50.7 583.6l0.2 -1.6M47.1 556.2l0.6 -1.1M74.6 565.6l0.4 -0.3M68.3 575.3l0.8 0.3M52.1 564l0 -0.1M47.4 590.2l0.1 1.3M89 551.7l1.4 1.4M68.1 554.6l0 0.7M87.7 565.3l0.4 1.8M14.5 582.9l0.1 0.3M23.8 545.5l0.2 1.3M25.1 585.6l0.5 -1.3M20.4 566.2l0.1 0.1M119.9 582.5l0.1 -0.1M60.4 583.3l0.2 -0.6M111.5 583.5l0.2 0M104.5 577.1l0.6 1.2M115.3 576.8l0.8 -1.7M21.4 558.5l1 0.3M100 588.3l1.6 0.2M38.4 551.6l0.8 -0.9M55.9 588.4l0.1 -0.5M62.9 561.2l1.5 -0.4M69.4 574.6l0.3 -1.7M20.3 550.7l0.4 0.8M26.4 589.3l0.6 -0.4M112.1 593.5l0.4 0.1M21.5 545.9l0.5 0.6M39.3 584l0.3 -0.2M74 582.6l1.2 -1.1M31.5 545.8l1.4 0.1M49.8 581l0 -0M19.3 592.7l0.9 1.7M106.9 572.2l0.3 -0.2M62.7 549l0.7 1.4M55.5 576.9l0 -0.1M45.9 591.8l1 -0.4M100.8 562.7l0.3 1.4M25.4 580.5l0 -0M73.4 572.8l0.8 -1.2M94.6 567.2l0.2 -0.1M46 581l0.2 1.7M45 587.5l0 0M70.7 555.2l0.9 -0.5M114.9 552.9l0.5 -0.4M88.4 589.2l0.5 0.1M68.5 558.2l0.2 0.4M121.6 580.1l0.2 0.7M95.3 558.1l0.4 -0.6M87.8 564.5l0.4 1.3M61.5 586.2l0.6 0.8M62.7 580.5l1.5 0.9M25.2 576.7l1 0.1M84.4 571.9l0.7 -1.5M102 559.1l0.7 1.2M32.5 548.1l0.1 -0M18.6 585.1l0.5 -0M83.7 586.3l0.7 0.5M11.8 555.8l1.3 1.5M76.6 560.4l0.1 -0.5M109.3 568l0.7 -1.6M75.3 580.5l0.8 -0.8M35.6 584.3l1.5 -0.5M62.9 553.4l1.6 0.5M20.7 578.9l0.2 -0.3M100.2 588.4l1.6 -0.7M54.1 582.3l0.8 -0.5M71.5 548.7l0 0.1M39.4 576.1l0 -0M58.8 580.6l0.6 0M26.2 559.9l0.9 -1.5M103.6 588.7l0.9 0.4M11.8 584.7l0.1 -0.1M114.6 553.7l0 -0.9M75.9 582.7l0.3 0.5M65.5 571.4l0.2 0.7M15.8 545.7l1.4 0.5M45.5 580.5l1.4 0.7M18.2 567.5l0.8 -0.9M47.5 550.4l1.2 0.8M42.5 578.9l0.7 -1.2M48.6 576.4l0 0M61.7 567.5l0.1 0.1M25 581.1l0.6 -0.6M89.2 574l0.3 1.3M15.4 586.3l0.2 -0.2M98 585.5l1.2 0.6M36.3 546.9l0.2 0.2M63.8 568.2l0 0M115.3 587.1l1 -0M44.3 572.9l0.9 1.5M87.1 547.3l0.3 -1.2M105.2 567.5l0.9 0.6M16 550.2l0.1 0.5M105.7 593l0.8 0.9M73 572l0.5 0.7M106.1 550.2l0.3 0.1M44 568.9l0.4 0.4M85.2 584.6l1.6 1.2M21.6 561.6l0.8 0.3M73.4 580.4l1.4 -0.5M67.2 586.9l0.8 -0.1M59.9 567.3l0.7 -0.6M56.3 550.1l0 -0M108 587.1l1.7 -0.2M64.8 593.2l0.2 -0.3M62.1 547l0.2 -1.1M94.5 584.8l0.9 0M103.9 545.7l1.1 0.9M105.9 583.7l0.1 0.1M102.3 561.8l0.1 -1.5M120.1 564.9l1.8 0.3M114 552.8l0.8 -1M55.8 567.9l0.2 0.2M83.8 569.8l0.4 0.9M52.7 582l0.9 -1M40.5 591.8l0 0.3M30.9 573.1l0.5 0.7M76.4 586.2l0.3 -0.4M33.3 564.5l0.6 -0.4M61 567.3l0.4 0.1M13.2 561.5l0.9 1.2M76 563.4l0.5 -1.3M58 576.2l0.1 0.1M17.3 578.6l1.2 -1M79.9 567.1l1.5 -0.8M27.5 553.4l0.2 -1M58.7 554.9l0.6 -1.1M16.8 546l1.5 -0.8M58.6 590l0.6 -0.4M119.1 560.3l0.4 -0.4M80.4 592.7l0.3 0M25.5 563.3l0.5 0.1M37.5 567.8l0.4 -0.1M76.4 570.7l1.2 -1.2M83.3 576.8l0 0M57 562.1l1.5 -0.2M86.9 580.1l1.4 1.1M107.7 582.9l0.2 -0.4M74.7 579.7l0.7 1.2M15.3 577.6l0 -1.9M44.9 574.7l0.1 0M96.3 562.1l0 -1.9M14.1 565.5l0.2 -0.5M45.5 570.8l0.1 0.3M84.6 561.5l0.2 1.7M76.2 584.7l0.1 0.7M75.1 545.4l0.2 0.3M56.7 562.4l0.7 0.9M108 579.2l1 -1M42.6 563.2l1.2 -0.8M11.2 561.9l0.5 1.2M34 579.3l0.1 0.4M8.5 579.1l0.1 -0.9M87.9 576.6l0.7 -0M9 577.7l0.6 0.1M70.3 554.5l0.2 0.3M45.4 576.1l0.9 -1.7M97 576.5l0.7 0.9M63.8 578.9l1.4 0.6M20.6 585.6l1 0.8M56.7 570.6l0.1 0M64.6 547.9l0.7 -0M26.8 584.8l0.2 0.6M81 577.6l1.4 0.8M82.4 590.5l0.1 -1M83.7 591l1.2 -0.4" stroke="#561250" stroke-width="1.8" stroke-linecap="round" fill="none"/>
<path d="M42.1 554.4l2.1 -0.3M10.1 592.7l0.9 0.1M69 550.1l0.1 2.3M17.6 581.6l0.8 -1.2M105.6 567.9l1.1 -0.1M110.8 588.8l1 -0.2M23 568.3l0.8 -2M89.6 562.3l0.1 2.3M39 573.8l1.1 0.2M117.6 579.3l0.6 0.4M23 587.7l1.4 -1.9M105.4 583.5l1.1 0.6M117.5 571.1l0.9 -0.9M118.5 546.5l1.6 0.8M91.9 553.1l1 -1.1M116.1 584l0.8 0.7M102.9 565.2l0.3 0.6M68.2 569.1l2 -0.4M93.6 577.2l1.1 -0.3M65.6 574.2l1.8 -0.3M24 575.8l0.8 -2M84 583.3l0.4 0.8M39.2 573.9l0.7 -1.9M106.9 569.3l0 -0.7M23.1 565.3l0.5 1.9M111.4 558.9l1.5 1.9M63.3 562.3l0.4 0.7M55.2 592.4l0 0.8M15.3 576.5l0.3 -1.1M13.4 560.8l1.6 0.3M83.8 547.7l0.3 -0.7M20.1 586.6l0.4 0.6M36.9 556.8l0.7 -2.4M13.5 568.4l1.4 0.3M32.6 572.9l0.2 1.4M115.4 565.8l0.3 0.8M56.7 555.3l1.9 1.6M40.7 579.1l0.8 0.4M37.6 562.8l0.4 2.1M100 565.5l1.6 1.7M99.1 562.3l0.4 -0.5M97.9 562l1.7 -1.4M23.8 553.4l0.4 0.4M35.7 581.1l1 -0.5M9 575.3l1.1 -0.1M105.6 585.7l1.4 -1.4M23.8 553.9l1.7 -1.8M31.8 550.9l1 -0.2M110.8 568l0.2 -0.5M60 583.9l2.3 0M83 554.4l1 0.9M27 546.8l1 -0M95.4 560.6l0.6 -1.5M18.7 591.8l1.2 0.5M49.3 571.6l1.7 -1.1M29.2 551.3l2 -1.4M18.8 548.7l1.2 -1.8M71.9 546.7l1.1 -1.4M39.4 587.7l1.2 0.5M15 567.3l0.6 0.1M11.8 556.1l0.1 -2.4M120.7 581.7l2.1 0.1M28.6 580.2l1.3 1.2M8.1 570.9l0.2 -0.6M26.4 562.7l0.2 -1M61.8 587.3l1.1 0.9M49.2 568.9l1.4 -2M10.8 556.5l0.3 1.4M84.3 584.5l0.4 0.3M81.7 577.5l0.9 -0.2M109.1 552.7l0.6 0.8M12.5 573.8l2.2 -0.8M113.5 584.7l0.5 -1.4M66.7 571.9l1.2 1.1M38.2 553.2l1.2 -0" stroke="#c8409a" stroke-width="1.4" stroke-linecap="round" fill="none"/>
<path d="M87.1 548.5l2.2 1M119.6 583.2l2.3 0.5M121.1 587.3l0.8 -2M38.3 579.4l1.2 0.1M104.6 561.3l0.5 -0.4M53.4 569.9l0.4 -2.2M78.2 549.5l0.4 0.4M62 556.8l0.4 -1M26.2 561.9l0.1 -0.6M90.4 569.1l0.4 0.5M57.6 580.4l0.4 0.5M21.2 570l0.8 1.1M102.5 582.7l0.9 -1.2M97.3 580.9l0.7 -0.5M71.6 587l0.8 -1.2M58.4 546.6l1 1.5M28.4 588.2l0.2 -1.7M8.1 575.4l1.7 1.7M29.4 594.4l0.7 -2.4M26.6 550.8l0.4 -2.4M86 575.2l0.8 -1.4M72.8 569.2l0.8 -2.3M53.3 591.1l0.4 -2.4M102.7 574.8l0.7 1.7M47.4 560.9l1.1 -1M89 593.6l1.4 -0.4M9.3 570.8l1.2 -1.5M100.1 572.9l1.6 0.1M17.1 555.5l0 0.8M31.6 594.5l1.2 -2.1M51.8 592.6l1.7 1.8M78.7 561l0.6 -0.4M58 568.4l1.9 0.9M103.3 556.1l0.5 1.5M77 562.4l0.3 -1.4M102.2 560.2l0.4 0.8M101.7 585.9l1.5 -0.1M50.2 577l1.5 0.1M97.9 588.7l0.8 -0.3M79.4 553.8l0.8 2.2M22 572.5l0.5 -0.4M77.4 590.1l0.8 -0M40.6 572.7l1.4 -0.6M105.5 565.1l1.4 -0.3M69.8 581.9l0.6 -0.9M103 590.7l1.6 1M34.4 589.6l0.7 0.6M102.9 564.4l1 -1.3M75 582.3l0.3 1.5M72.9 559l0.9 2.3M83.2 576.9l1.8 -0.8M61.4 549.1l0.6 -0.4M97 592.4l1.2 0.1M21.2 567.5l1.2 -1.4M109.5 570.2l0.8 -0.4M24.2 548.7l0.9 -0.2M37.2 578l1.9 -0.2M11.7 591.6l0.1 1.5M40.1 560.6l1.6 -1.9M14.6 589.9l2 0.2M7.1 556.4l0.9 -0.7M81.2 577.4l1.3 -1.9" stroke="#c8409a" stroke-width="2.0" stroke-linecap="round" fill="none"/>
<path d="M16.7 580.4l0 2.9M22.3 566.6l0.2 1.4M102.1 548.8l1.5 -0.4M49.5 581.4l0.8 -2.8M96.4 548.5l1 -1.2M80.7 559.2l1 0.1M69.4 549.7l0.7 -0.7M54.5 573.6l0.1 1M113.8 593.7l0.2 -2.8M104 593.7l1.1 -0.9M119.6 579.8l1.8 0.3M8.3 553.2l0.3 1.5M23.8 559.7l2.3 0.4M99.9 569.6l2.5 -0.9M65.1 564.5l0.9 -0.5M114.7 577.5l2.1 -0.9M29.2 588.6l0.6 -1.9M34.2 569l1.9 -1.6M36.7 558.8l1.3 -2.3M114.8 561.8l1.8 -1.4M28.8 576.9l1.3 -2.6M99.2 585.8l0.6 0.6M11.6 570.9l1.9 2M115.1 565.9l2.2 -0.9M69.3 550.1l1.1 2M41.7 574.1l0.4 -0.9M92.4 551.2l1.4 -0.6M81.8 558.8l2.3 0.3M48.3 564.8l2.5 -0.9M114.5 590l0.1 -1.4M65.3 556.7l0.9 -2.1M106.9 547.9l1.1 -0.5M76.3 576l2.4 1.4M19.1 593.2l0.1 -0.9M84.7 575.5l0.3 1.5M90.9 590.5l0.5 -0.7M31.7 557.1l0.2 -2M93.7 552.2l0.4 -0.8M33.8 588.7l1 1M97.4 553.9l2.5 1.2M80.4 581l0.7 -2.2M18.2 588.8l0 1M111.5 547.1l1.8 0.2M91.4 575.7l0.4 -2.5M113.5 548.5l1 0.8M49.2 571.6l1.7 -0.2M75.9 553.7l1.4 1.6M50.6 574.9l0.3 1.8M53.8 589.3l1.3 -1.2M14.3 547.6l0.4 -2.1M78.1 584.9l2 0.4M99.6 586.8l0 -2.9M116.2 545.8l0.1 1M43.2 584l0.7 2.1M47.9 588.3l1.9 1.4M45.7 579.6l0.4 1M10.1 589.4l0.5 0.8M20.7 587l2 -1M10.4 566.4l0.6 -2.6M97.4 583.9l1.2 -1.8M62.6 563.6l1.6 1M69.5 573.8l0.7 -1M105.3 547.9l1.6 2.2M91.8 556.6l2.6 1M20.7 584.8l1.1 2.4M107 579.1l0.9 2.5M108.2 592.5l1.2 -0.3M17.8 578.7l1.9 0.1M84.7 566.2l0.9 0.7M37 561.9l2.6 -0.4M112.8 592.3l0.9 -0.3M46.7 554.2l0 1.7M78 577.7l2.1 0.8M9.9 579.6l2 -0.1M55.6 586.4l2 0.3M118.1 560.6l1.5 0.9M89 579.2l2.2 1.2M82 557.5l3 -0.4M118.1 571.7l1.8 0.8M65 581.4l1.4 -0.4M18.9 547.2l1.1 -0M64.9 574.4l1.3 2" stroke="#ea98d4" stroke-width="1.2" stroke-linecap="round" fill="none"/>
<path d="M26.3 593.3l0.9 -0M45.5 561l0.8 -1.1M77.8 590.1l2.5 -0.6M19.3 584.5l1.1 -2.5M66.9 557.2l0.5 -1.9M30 587.9l0 1.3M68.5 555.6l1.7 1.4M93.3 560.2l1.5 2.1M30.3 589.6l2 0.7M13.7 573l0.1 2.6M78.3 549.1l0.6 -1.8M61.1 554.8l0.9 0.9M56.4 550.6l0.6 -2.8M49.9 589l0.9 0.7M95.5 546.8l2.4 -1.2M63.7 586.9l0.9 0M88 550.2l1.7 -0.2M47.1 568l1 -0.7M42.2 591.3l1.3 -0.8M48.8 586l0.9 1.3M35.1 557.9l1.7 0.3M41.5 549.7l2.4 -1.1M112.6 560.3l0.5 -1.7M23.3 547.3l0.3 2.9M38.6 573.6l1.2 1M25.4 584.1l0.9 2.5M58.2 563.9l1.9 -0.7M60.8 586.1l1.2 0.3M34.2 555.5l2.1 2.1M27.1 580.6l0.5 1.9M38.5 569.5l0 1.7M28.3 571.7l1.3 0.7M32.1 559.3l0.2 -2.4M112.7 580l0.6 2.2M99.9 561.1l0.8 -0.8M95.1 547.7l1.4 -0M28.5 555.2l1.3 -1.9M25.3 554.4l0.7 1.9M109.8 550.6l0.9 -0.8M36.4 553.5l1.4 -2.6M120.6 564l0.8 2M84.9 586.4l1 -0.1M118.6 573.3l1.1 0M28.7 565.3l0.9 -0.1M27.5 579.6l1.6 1.2M88.8 558.6l1.5 -2.6M109.8 579.6l0.8 0.4M94.2 569.4l0.7 -1.9M63.5 549.4l0.8 -2.2M36.1 567.3l1 1.1M67.6 557.3l0 -0.8M47.2 559.2l1 -1.4M105.3 547.3l2.4 1.3M117.5 565.7l1 0.4M83.3 548.3l1.2 2.1M80.8 551.2l1.7 -0.2M22.9 562.1l0.9 0.8M73.8 579.4l1.6 0.5M9.8 552.5l0.6 0.9M41.6 589.8l0.7 1.6M47.1 544.8l0.5 1.4M87.2 569.4l1.4 0.5M82.9 588.4l2.2 0.1M72.9 554.7l0.5 -1.7M86.9 546.8l2.1 1.5M70.4 561.1l1.9 1.9M57 555.3l1.6 -2.5M72.8 564.4l2.3 -0.8M28.6 584.3l1.8 -0.5M61.5 553.4l0.9 0.1M106.3 568.4l1.8 -0.3M81 576.1l0.6 -1.1M21.3 559.8l2.5 1.4M104 550.9l1.3 1.5M115.1 552.4l1.2 0.2M96.2 574.5l1.3 2.3M48.7 561.4l1.8 2.3M119.8 555.5l0.3 1.4M81.5 554.5l0.3 -0.8M22.4 548.4l1.2 2.6M25.9 583l1.4 0.4M31.3 564.9l0.9 -0.5M74.3 582.5l0.4 -0.9M59.4 581.1l1.2 2M49.1 582.2l0.9 0.8M46.4 547.2l0.7 2.4M57.4 568.9l0.7 -2.6M99.4 569.1l0.1 -0.9M94.9 588.2l0.7 1.2M104.1 588.4l0.4 -1.4M12.5 580.2l0 0.9M13.2 557.5l1.5 1.4M112 585.6l0.6 -1.9M16.1 583.9l0.5 -1.8M41 593l0.7 0.5M69.5 567.1l0.7 2.4M73.1 557.8l1.4 -0.1M109.2 556.7l0 -0.8M85.8 547.2l2.4 0.7M21.7 564.2l1.2 1.4M25 590.5l1.4 -2.3" stroke="#ea98d4" stroke-width="1.6" stroke-linecap="round" fill="none"/>
<circle cx="54.5" cy="567" r="7" fill="#5e2a84" fill-opacity="0.5"/>
<path d="M57 567.7h0.4M51.8 566.9h0.4M57 566.4h0.4M60.8 566.6h0.4M49.9 568.2h0.4M50.5 567.7h0.4M54.5 571.2h0.4M50.5 571.8h0.4M50.6 561.6h0.4M58.2 566.6h0.4M50.4 566h0.4M58.8 571.6h0.4M58 568.3h0.4M59.1 561.9h0.4M48.6 570.2h0.4M51 561.4h0.4M48.4 566.5h0.4M54.8 561.5h0.4M57.7 566.8h0.4M52 567.6h0.4M59.3 567.5h0.4M54.1 560.3h0.4" stroke="#2c1650" stroke-width="1.5" stroke-linecap="round"/>
<path d="M50.1 563.8h0.3M56.4 561.1h0.3M56.1 568.3h0.3M57.1 565.8h0.3M51.7 572.2h0.3M49.8 570.3h0.3M58.2 569.7h0.3M56.7 572.5h0.3M56.2 573.7h0.3M48.9 563.6h0.3M51.5 573.2h0.3M59.2 562.1h0.3" stroke="#d0a8e0" stroke-width="1.1" stroke-linecap="round"/>
<circle cx="82" cy="580" r="7" fill="#5e2a84" fill-opacity="0.5"/>
<path d="M79.3 574.2h0.4M77.4 583.4h0.4M83.2 582.9h0.4M83.3 586.7h0.4M83.6 578.1h0.4M85.2 575.9h0.4M78.7 582.8h0.4M87.1 583.4h0.4M83.4 578.7h0.4M86.6 578.8h0.4M81.5 583h0.4M87 583.6h0.4M82.6 574.3h0.4M88 582.4h0.4M76.6 576.8h0.4M82.2 576.8h0.4M77.4 578h0.4M82.6 574.5h0.4M77.8 585.3h0.4M85.6 586h0.4M80.5 577.9h0.4M85.2 585.1h0.4" stroke="#2c1650" stroke-width="1.5" stroke-linecap="round"/>
<path d="M84 583.1h0.3M82.9 586.4h0.3M82.1 576.3h0.3M82.2 586.8h0.3M82.8 577.5h0.3M87.9 580.7h0.3M85.8 584.2h0.3M75.1 579.4h0.3M75.5 580.5h0.3M83.9 578h0.3M84 585h0.3M88.6 578.6h0.3" stroke="#d0a8e0" stroke-width="1.1" stroke-linecap="round"/>
<circle cx="109" cy="553" r="5" fill="#5e2a84" fill-opacity="0.5"/>
<path d="M105.3 551.8h0.4M110.1 555.2h0.4M105.9 556h0.4M112.3 554.9h0.4M107.5 551h0.4M108.1 553.7h0.4M113.7 551.9h0.4M110.8 551.5h0.4M107.2 555.8h0.4M106.1 549.5h0.4M111.4 556.3h0.4" stroke="#2c1650" stroke-width="1.5" stroke-linecap="round"/>
<path d="M107.1 554.2h0.3M108.5 552.3h0.3M110.2 554.6h0.3M104.1 553.1h0.3M106.5 554h0.3M110.4 557.7h0.3" stroke="#d0a8e0" stroke-width="1.1" stroke-linecap="round"/>
<polygon points="43.3,555 45.5,550.8 49.7,554.2 46.5,553.6" fill="#f8c818" stroke="#fad030" stroke-width="1.3" stroke-linejoin="round"/>
<polygon points="68.8,573.5 71,569.3 75.2,572.7 72,572.1" fill="#f8c818" stroke="#fad030" stroke-width="1.3" stroke-linejoin="round"/>
</g></g>
<g clip-path="url(#c8)"><g>
<rect x="125.5" y="546.3" width="114.3" height="47.1" fill="#a52a7e"/>
<path d="M206.9 585.7l0 0.4M208.1 582l0.4 0.8M182.1 593.7l1 -1M203.3 591.5l0.1 0.1M231 562.1l0.4 -1.7M223.6 558.1l0.3 1.4M190.8 583.6l1.1 -0.7M202 592.2l0.3 0M185.9 558.2l0.9 -0.9M153.6 555.2l1.1 -0.2M221.1 559.9l0.3 -0.7M216.7 576.5l0 -0M176.9 577.9l0.3 0.7M170.8 547.7l0.2 -0.9M140.8 585.3l0.1 -0.2M216.1 551.4l0.2 -0.3M177.3 563.7l1.6 0.9M157.5 587.2l0.4 0.2M136.3 592.5l1.2 0.4M192.4 592.6l0.4 0.8M231.9 554.1l0.2 0.3M151.8 560.3l1 1M232.3 557.6l1.2 0.3M235.3 568.9l0.1 -0.8M184.1 592.4l1.4 -1M192 563.1l0.3 0.2M165.7 590.9l1.3 0.1M195.2 588.3l0.2 -0M153.1 581.9l1.3 1.4M228.7 581l1.5 -0.8M194.4 576.7l0.5 0.5M159.9 568.1l1.3 0.7M225.6 552.8l0.1 0M209.4 584.9l0.5 1.5M144.5 563.1l1.1 1.3M139.4 554l1.3 -0.3M174.4 569.8l1.4 0.5M202 585.7l1.2 -1.5M213.3 583.3l0.2 -0.2M225.7 557.6l0.6 -0.6M166.5 592.2l1.1 -0.4M201.1 591.6l0 0.3M172.1 587.1l0.2 -0.1M139.5 567.6l1.8 0.8M199.1 578l0.1 0.2M229.1 549.7l0.8 -1.8M165.6 568.8l0.1 -0.5M130.1 549.9l1.5 -0.6M143.7 574.3l0.2 0.5M203.3 593.4l0 -0.3M222.5 576.1l0.8 -0.3M233.4 575.2l0.2 -0.8M127.7 558.1l1.2 0.8M207.9 556.4l0.5 -1.7M200.5 574.1l0.1 -0.4M189.6 547.1l0.5 0.6M167.5 586.9l0.7 -1.9M206.9 553.4l1.8 -0.4M178.4 591.8l0.9 -0.8M162.3 591.1l1.5 -0.3M135.3 569.3l1.2 -0.3M132.2 581.5l1.9 0.1M129.9 586.3l0.1 -0.8M149.1 558.4l0.7 0.2M223.7 549.6l0.7 1.5M152.1 560.2l1.1 0.3M236.4 574.2l1.5 -0.8M175.3 552.8l1.5 0.4M212.8 564.8l0.3 -0M164.1 587l1 1M146.2 564.9l0.1 -0.2M181 558.4l1.3 -0M167.4 590.6l0.2 0.2M227.9 559.7l0.3 0.7M233.8 561.5l0.4 1.4M155.2 562.8l1.2 -0.2M145.7 549.8l0.5 -0.2M215.1 584.7l0.4 0.6M230.2 577.5l1.7 -0.5M211.5 576.9l0.8 -0.2M144.3 591.8l1.1 1.6M172.3 567.7l1.1 -0.7M200.7 585.4l0 1.3M204.2 565.7l0 0.6M148.5 575.7l0.1 -2M235.1 567.5l0 -0.4M222.3 569.7l1.7 -0.4M226.3 567.2l1.3 -1.3M131.3 566.5l0.8 0.9M209 577.4l0.1 0.6M158.5 571.6l0.1 -0.1M179.4 587.9l0.4 0.3M224.2 560.5l0.9 -0.4M169.8 575.2l1.1 -0.9M184 570.6l0.5 -0.1M190.2 566.6l1.4 0.2M225.8 586.2l0.4 0.8M157.8 569.5l0.1 1.1M221.5 585l0.8 1.4M146 573.7l1 -0.7M173.3 565.3l0.3 -0.4M193.1 590.8l0.5 -0.9M145.3 553.3l0.2 0.3M146.2 587.6l1.8 0.5M207.7 585.2l1.6 1.1M168.6 556.1l0.4 1M185.3 577.1l0.2 -0M151.9 558.1l0.1 -0M151.5 573.6l0.2 -0.8M231.1 576.5l0.1 0.3M155.5 551.6l0.2 -0.1M149.6 546.8l0.2 0M133.8 549l0.2 0.4M132.6 590.6l0.1 0.1M134.9 548.9l0.3 1.2M137.7 584.9l0.3 1.2M219.1 571.4l0 0M208.5 591.4l1 -0M179.1 547.6l0.2 0M176.2 563.8l0.8 -0.4M181.4 570.6l0.4 -0.6M154 574.8l0.3 0.2M151.8 561.3l0.4 -1M206.4 568.6l0.5 1M181.9 579.6l0 -0.2M224 592.4l0.7 -1.2M208.8 579.6l0.6 -0.6M164 563.8l0.1 0.3M145.9 547.2l1.4 -0.2M227.7 555.3l1.4 0.8M200.3 552.4l1.9 -0.3M126.8 561.5l0.7 -1.3M236.5 575.9l1 -0.9M213.7 572.9l1 -0.2M233.5 557.7l0.5 1.4M195.4 557.3l0.7 -0.2M208.5 564.6l0.3 -0M191.2 580.2l0 -0.2M221.9 576.7l0 0M171.5 582.8l0.5 -0.1M205.9 571.7l0.5 0.6M197.5 577.4l0.7 1.5M149.8 585.8l1.3 -0.3M173.4 588l0.3 -0.6M203.3 577.3l0.8 0.7M148.2 563.3l1.1 -0.7M184 567.6l0.2 1M201.4 569.9l0.2 -1.9M130.8 582.1l0.3 -0.3M150.2 566.4l1.7 -0.8M138.6 593.2l0.1 -0.2M167.2 572.1l0.7 0.7M186.4 560.3l0.3 0.3M196.9 556.7l0.1 0.4M129.9 553l0.5 -1.4M231.8 565.3l0.7 0.7M216.4 558.4l1.6 -0.8M193.1 559l0.1 -1M132.2 549.3l1 1.4M154.4 552.7l1.1 0.1M152.3 549.5l1.7 -0.2M140.5 591.3l1.2 -1.3M183.1 566.7l0.1 0.6M176 554.3l1.5 0.4M160.8 576.3l0.7 0.4M135.4 591.6l0.2 -0.7M136.9 591.6l0.7 0.6M180.8 580.8l0.9 1.1M225.8 591l0.5 0.8M147 592.6l0.3 1.3M159 564.2l0.9 1.7M206.1 587.5l1.3 0.2M222.3 546.8l0.7 -0.1" stroke="#561250" stroke-width="1.3" stroke-linecap="round" fill="none"/>
<path d="M144.9 577.7l0 1.4M128.5 553.8l0.5 0.9M153.5 574.3l0.1 0.3M169.8 583.8l0.8 -0.1M228.3 547.4l1.4 1M176.8 582.2l0 0.1M217.7 571.8l1.1 -0.3M204.4 565.4l0.4 1.2M221.5 571.9l1.1 -1.4M232.2 573.2l0.2 -1.4M193.3 571.2l0.9 -0.6M164.4 555.4l0.1 -0.3M230.4 568.1l0.3 -0.1M227.2 558.8l0.6 -0M167 556.3l0.2 1.6M163.4 549.9l0.2 0.9M184.2 575.7l0.7 -1.2M158.1 587.7l0.6 0.1M235.2 555.8l0.3 -0.1M235 592.5l1.1 -0.1M237.8 553.3l0.7 1.5M198.9 551.8l0.4 0.8M234.5 583l0.3 -0.3M156.9 580.2l0.2 0.2M141.2 547.2l1 -1.5M195.6 569.8l0 -0.2M237.4 565.5l0.4 1M230.1 593.1l0.5 -1.6M126.4 581.9l0.3 0.1M197.5 547.6l0.4 0.3M228.9 554.1l1.7 0.4M139 562.7l0.7 0.7M235.9 586.3l0.1 1.4M160.6 565.2l0.1 -0.4M213.2 573.1l0.2 -0.4M202.2 555.6l0.7 0M153.1 567.1l0.5 -0M202.7 555l0.7 1.7M229.3 565.3l0.3 -0.2M162.7 565.7l1 -0.1M225.2 553.4l0.5 -1M134.1 575.6l1.2 -1.3M138.7 552.9l0 0.7M180.1 552.5l0.2 1.3M155.4 561.6l0.4 0.4M128.5 574.6l0 0M173.6 548.6l0.4 0.5M148.6 560.3l0.3 -1.5M201.3 564.9l0.7 0.6M236 583l0.7 -1.7M170 574.1l0.9 0.4M177.5 581.2l0.3 -1.1M166.9 565.3l0.4 1M143.7 548.2l0.5 0.2M186.7 580.7l0.5 -0.8M218.5 578.6l1 0.1M203.2 568.2l0.2 0.8M174.9 554.8l0.7 1.2M139.8 550.9l0.2 1.2M151.3 552.8l1.5 1.1M237.6 571.2l0 0M165 582.5l0.7 -0.5M156.4 588.6l0.2 -1.2M203.6 558.6l0.1 0.6M159.5 585.7l0.1 -0.2M197.1 547.7l0.6 1.5M175.1 574l0.9 1.1M161.3 550.5l0 -0.1M202.7 578.6l0.7 1.5M239.6 560.1l0 -0M198.5 580.2l0.5 -1M228.9 561.4l0.1 -1.2M198 577.6l0.5 0.2M157.6 586.5l0.9 -0.7M216 561.1l1.2 0M194.4 558.2l0.6 0.6M215.2 578.2l0 1.1M164.6 590.9l0.2 -1.6M222.1 558.6l0.3 0.3M207.5 568.2l1.1 -1.3M146.3 561l0.9 -1.1M192.3 593.4l0.9 -1.2M153.2 557.3l0.6 -1.1M156.9 558.5l0.3 0.6M156.5 561.5l0.9 0.2M183.2 591l0 -0.8M219.6 559.1l0.2 -0.6M128 563.9l1.4 -0.6M185.3 589.5l0.6 -0.4M213.5 590.8l0.4 0.5M198.9 564.8l0.7 1.8M216.7 587.4l0.3 0.1M205 567.5l1.3 -1.4M145.5 568l1.5 -0.5M153 555.5l0.6 -0.5M175.5 565.4l0.1 0.1M166.7 580.4l0.1 0.3M136.8 554.2l1.9 0M175.6 584.4l0.5 -1.9M138.7 578.3l1.7 0.9M226.4 587.7l0 -0.3M173.6 577.6l0.1 -2M128.7 588.5l0 1.4M222.9 576.5l0.2 0.1M167.2 572.9l0.9 -0.3M184.7 552.2l0 0M143.6 592.2l0.7 -0M166.6 588l1.2 -1.1M138.2 591.2l0.7 -1.6M172 587.3l0.4 -1.6M138.3 577.1l1.3 -0.2M238.7 586l0.5 -1.8M224.9 585.3l1.1 0.3M229.6 591.5l1.4 -0.5M218.9 553.4l0.3 0.6M213.5 585l1.1 -1M132.2 552.3l0.4 -0.3M212.7 562.5l0 -0M238.5 546.8l0.4 0.8M189.6 563.4l1.2 1.5M207.4 559.9l0.1 -0.7M184 592.9l1.2 0.8M216.5 558.3l0.3 0.7M150.9 587.1l0 -0M193.7 587.5l1.2 1M227.6 586.4l1.1 0M217.9 577.5l1 -1.3M225 584.8l0.4 -1.6M205.2 546.4l0.2 -0.1M211.2 574.2l1 -0M142.8 591.1l0.6 -0.1M162.4 556.3l0.8 -0.1M169 567.8l0.8 -0.5M170.5 569.9l0.1 1.1M137.6 569.2l0.5 0.6M138.7 571.2l0.2 1.9M212.2 570.6l1.1 1.2M198.7 582.3l0.5 0.2M170.1 559.1l0.6 1.3M181.7 585.8l0.3 0.2M126.9 575l0 0M198.4 548.1l0.3 -0.8M160.5 587.2l0.7 -0.8M175.3 559.5l0.9 0.1M200.7 565.9l0.1 -0.2M183.1 563.4l1.5 -0.3M192.2 554.9l0.1 1.9M225.5 558.7l0.9 1.3M197.3 580.8l0.3 1M181.2 589l1.6 0.5M127.6 569.1l0.4 0.3M193.3 573.5l0.1 0.4M129.6 581l0.7 0.2M222.9 550.6l0.7 0.3M132.4 548.2l0.2 -0.3M202.2 572.3l0.3 0.9M174.8 547.4l0.8 -0.2M126.9 564.8l0.7 0.7M165.7 573l0.9 0.4M147.2 548.7l0.1 0.8M188.5 557.7l0.3 -0.9M212.9 552.2l1 0.1M175.4 576.7l0.2 -0.5M151.6 549.1l1.7 -1M174.8 564.8l0.1 0.7M227.3 590.5l0.1 0.4M214.1 573.7l0.3 -0.3M238.3 572.3l0.9 0.7M191.8 563.1l0.9 0.5M169 547.4l1.4 1.2M134.7 587.8l1.5 -0.3M159.1 554.5l0.6 -1.3M187.5 589.8l0.5 -0.7M217.3 577.1l0.1 1.2M156 577.3l0.1 0.8M230.7 577.3l0.9 -0.6M221 562.5l1.2 -1M139.4 590l1.4 -0.4M194.8 576.2l1.5 1M134.5 568.7l0.7 -0.8M225.2 589l1.1 -0.6M143.2 589l0.1 -0.9M138.5 552.8l1 -0.9M162.2 592.5l0.3 -0.7M140.3 593.2l1.1 -1.4" stroke="#561250" stroke-width="1.8" stroke-linecap="round" fill="none"/>
<path d="M179.5 579.9l1.7 0.3M158.6 561.1l1.9 0.2M209.9 586.2l1.8 0.7M186.7 567.3l0 -1.6M230.6 587.8l0.1 -1.3M137.3 565.1l1.5 -1.3M217.1 558.9l1.2 1.7M194.5 555.2l1.3 0.9M138.3 587l0.5 1.5M195.4 554.1l0.8 -1.1M188.4 558.2l0.4 2.1M181.1 594l0.7 -1.4M153.8 549.8l1.3 0.7M193.2 569.9l0.5 -0.6M128.6 571.8l0.5 -2.3M194.3 593.1l1.6 -1.6M213 577.8l0.5 -0.7M223.5 591.8l1.3 1.6M130.6 568.1l1.1 -0.1M164.7 558.9l0.9 -1.9M180.1 581.1l1.5 -1.5M135.6 568l0.2 0.5M184.9 553.2l1.6 0.4M163.3 586.6l1.4 1.1M189.4 582.1l0.6 -1.1M172.9 547.6l2.1 -0.1M126.5 583.3l0.6 -1.9M199.3 567.3l0.6 1.7M180.6 575.7l0.9 -0M212.6 552.6l0.2 0.4M173.1 589.6l1.7 -0.2M169.5 566.2l0.6 -0.5M235.9 561.8l0.6 -0.9M185.9 562.6l0.7 1M126.7 589.6l1.7 0.4M191.8 553.2l0.7 -1M178 548.8l0.4 -1.2M192.3 571.4l0 1.8M218.4 553.8l0.4 1.8M185.6 586.6l1.1 -0.8M189.3 559.2l0 1.2M171.3 548.1l2 -1.2M223.2 558.3l2.2 0.1M219.2 568l0.4 -1.6M230 564.8l0.9 1.5M167.6 585.6l1.2 0.7M147.6 559.5l0.4 -0.5M160.7 558.6l0.9 1.5M150.2 554.9l0.4 2.2M138.6 573.9l2.2 1M216.6 565.8l2.4 0.2M158.6 585.9l1.8 -0.1M215.1 547.6l0.8 0.2M134.9 555.6l0.5 -0.6M128.1 580.2l0.4 2.1M229.6 589.4l1.5 -0.9M152.8 565.9l2.4 0.1M182.3 554.2l1.3 -0.1M183.2 571.8l0.7 1.1M192.6 576.7l0.2 1.1M156.2 576.7l1.2 0.2M172.8 559.8l1.7 -0.3M200.9 565.2l0.2 0.7M158.3 548.3l1 2M180.8 571l0.7 1.2M176.3 560.2l1.9 -1.5M235.3 560.1l1.4 1.6" stroke="#c8409a" stroke-width="1.4" stroke-linecap="round" fill="none"/>
<path d="M127.3 574.8l0.2 0.6M163 574.2l1 0.4M156.6 565.2l0.2 -1M220.6 586.5l0.2 1.4M232.7 580.4l0.6 -0.2M203.5 546.9l0.8 -1M234.5 562.1l0.5 2M145.8 563.6l0.2 0.6M146.9 566.9l0.2 -0.9M191.8 571.2l0.2 0.7M145.6 555.7l1.2 -1.8M208.3 569.6l1.1 -1.2M237.2 572.4l1.4 -0.5M193.2 577.8l1.7 -0.7M130.7 570.6l0.3 -0.6M153.8 548.1l0.3 -0.7M127.2 563.3l2.3 -0.5M232.7 585.3l1.4 -2M218.6 589.5l0.8 -2.1M174.4 546.6l0.1 1M183.3 555.6l0.8 -0M218 591.2l2 0.2M159.3 590.6l0.2 -0.9M184.5 558.1l0.5 -0.5M234.3 586.1l1.4 -1.8M134.2 549.9l0.8 0.2M194.6 568.3l0.6 2.4M149.4 587l0.1 0.7M148.5 585.4l1.3 1.7M178.1 562.6l0.9 -1.8M204.4 549.5l0.4 1.4M225.5 553l0.6 0.3M150.8 554.6l0.8 0.5M165.3 549.7l0.2 0.5M209.8 590.7l1.7 -0.9M223.2 566.4l1.1 -1.1M148.7 554.3l0.6 0.6M217.9 585.7l1.1 -2M238.5 585.2l1.4 -0.7M147.9 555.1l2.2 -0.6M222.9 584.5l0.8 1.6M199 549.6l1.3 -2M199.5 572.6l0.2 0.5M226.5 549.3l0.3 0.7M144.7 546.6l0.5 1.2M237.2 589.9l1.2 -1.3M235.6 567.2l0.5 -0.5M218.4 573.6l0.5 -0.5M166.2 591.1l0.6 -0.5M218.4 585.8l0.3 2M189.8 548.3l2 1.4M135.5 549.6l1.8 0.4M226.4 546.8l0.3 1.8M129.5 548.6l0.1 -0.6M173 578.6l1.7 0.5M209.3 551l2.4 -0.3M221.8 594.2l0.7 -2M174 577.7l1.3 1.6M165.8 566.9l0.5 -0.3M195.2 575.6l1.8 -0.8M185.6 578.5l0.1 1.6M140.2 580.4l0.5 0.5M200.4 570.3l1.4 0.2M205.5 571.3l0.6 -1.7M158.7 576.6l1.8 1.3M213.5 584.6l1.6 -0.3M207.6 562.2l0.2 0.9" stroke="#c8409a" stroke-width="2.0" stroke-linecap="round" fill="none"/>
<path d="M233.5 579l1.9 1.5M127.7 583.8l0.8 -1.3M156.6 562.7l2.5 -1.3M210.8 569.1l0.2 -2.8M188.7 585.8l0 -3M209.4 569.1l2 1.2M150 569.4l1.1 2.3M219.5 587.8l1.4 -0.2M179.5 569.7l1.2 0.8M162.4 589.5l1.9 -1.8M144.2 559l2.3 0.9M237.6 593.6l0.1 -1.9M221.9 564.1l0.4 -1.1M219.3 588.5l0.5 -0.6M168.5 560.2l0.6 1M146 557.6l0.7 -1.4M157.6 560.1l1.6 -0.8M140.2 593.5l0.9 -1.4M171.2 578.8l2.3 0M129.3 578.7l1.8 1.6M130 569.9l2.6 -1.1M191.4 581.3l1.4 -1.2M172 583.1l1.2 -1M140.8 561l1.8 -1.5M202.1 578l1.7 -0.4M222.9 575.7l0.7 1.3M220.2 580.2l2.7 0.3M125.9 568.7l0.6 0.6M143.8 562.5l1.6 0.9M156.2 588.6l1.3 -0M208.2 570.3l2.8 -0.3M184.6 546.4l2.7 1.1M161.1 587.6l2.9 0M193 583.3l0 -0.9M164.4 580l0.8 -2.2M129.9 585.6l0.8 0.6M171.9 551.8l1.1 0.2M191.9 557.8l1.7 -0.2M181.1 588.5l0 -2.4M148.3 587.6l1.8 1.9M162.1 554.7l2 -0.2M222.6 552.7l2.2 0.7M218.9 555.8l0.8 -2.3M202.6 562.5l0.4 -2.4M158.7 584.2l1.7 2.2M158.2 583.4l0.8 -0.6M151.2 553.2l0 -1.7M238.3 560.7l0.5 0.9M222.7 562.5l2.6 0.3M211.5 587.2l1 2.3M190 570.4l1 -0.7M225.1 571.7l0.1 -1.2M191.9 588.9l0.4 -1.3M153.1 575.1l0.5 -0.9M187 579.7l0.9 2.8M141.6 572.3l1.3 1.2M194.8 588.6l2 -0.1M188.4 563.3l0.6 -0.6M232 547l0.9 -0M217.2 573.9l2.2 0.4M181.9 574.6l0.7 -2.6M195.6 565.9l1.3 -2.1M153.2 591.6l1.8 0.8M131.1 572.9l0.9 -1.8M231.9 562.1l0.1 2.1M190.6 578.2l0.4 -2.1M206.3 585l2.3 1.2M176.4 568l2.8 -0.2M139.7 549.6l0.7 1.2M180.2 570.8l1 -0.3M231.7 592.4l1.3 0.8M129.7 590.5l0.1 -1.6M132.7 554.8l1.8 0.4M204.6 577.3l0.2 -2.2M218.6 580.5l0.6 -0.9M131 586.4l2.3 0.8M136.1 591.6l1.8 1.9M173.2 549.4l0.7 2.2M156 571.3l1 -0.7M213.9 589.8l0.9 0.5M217.4 582.8l2.5 0.7M149.2 593.9l1.3 -1.6M126.2 573l1.6 1.7M198.8 575.3l1.9 0.9M201.8 550l0 -1.2M187.4 553l1.8 1.9M235.6 548.2l1.4 1.4M145.8 546.7l0.4 0.9M126.8 551l2.1 -0.2M165.1 571.2l0.7 -2.4M172.1 559.4l1.9 -1.1M166.2 569.8l1.1 -0.6" stroke="#ea98d4" stroke-width="1.2" stroke-linecap="round" fill="none"/>
<path d="M140.6 564l1.3 -1.6M238.5 559l0.5 -0.9M139.7 565.1l1.6 -0.4M142.5 546.5l2.4 1.6M193.9 556.1l1.1 -0.4M211.6 583l2.7 -1.2M151.5 556l2.4 -1.4M152.7 574.7l0.6 0.5M205 557.4l2.4 1.5M206.8 575l0.8 -2.1M171.5 560.5l2 -0.2M219.6 580.3l1.2 1.7M224.5 564.6l2 -0.1M182.4 554.4l0.6 -1.6M131.1 587.9l1 1.1M210.3 583.2l2.2 -1.6M234.2 589.2l1.2 0.5M129.1 563.2l1.7 -0.4M126.4 591.4l1.5 1.8M205.8 592l2.1 0.6M184.4 552.8l1 -1.4M141.9 552.1l1.4 0.3M224.7 589.2l0.4 2.2M201.6 588.6l2.7 1.1M128.3 585l0.8 -1.3M193.2 585.1l1.2 2.3M185.1 572.4l0.5 2.3M197.7 566.9l2.3 -1.3M189.4 591.1l2 -0.5M138.8 567.6l0.1 0.9M180.9 585.4l2.7 0.6M132.6 586.4l1.4 -0.1M232.1 594.7l0.6 -2.7M153.8 568l1.8 -1.3M140.8 571.5l1 0.8M224.6 592.2l0.6 2.2M236.9 580.1l0.5 -0.8M227.5 571.1l1 -0.1M221.8 560.5l2.5 -1.4M186.8 566.6l0.4 -1.5M125.9 574.1l1.5 -1.7M236.2 553.3l0.9 -0.3M199.3 575l2.2 0.7M235.1 591.2l1 0.6M187.8 576.8l2.7 0.2M186.2 569.3l1 1.8M140.6 547.2l0.6 1.8M142.4 554l2.6 -0.5M208.2 570.7l1.8 -0.3M147.4 581.9l2.4 -1.3M180.2 556.6l0.6 -1.1M182.9 561l1.5 1.5M193.4 573l0.8 -0.5M223.8 571.1l0.7 -1.2M167.9 568.4l1 -0.7M176.9 579.3l1.6 2.1M197.5 557.3l0.7 -1M144 560.4l0.4 -1.4M162.5 548.5l1.3 2.2M186.3 587.1l1.5 1.6M190.3 576l2.2 1.2M156.5 559.7l0.5 1.3M184.7 566.6l1.3 0.3M206.3 547.5l1.3 0.9M187.2 572.3l1.3 -1.1M192.9 556.3l0.3 -1.2M207.2 587.7l1.7 0M200.9 563.5l1.2 -2.3M207.4 583.5l0.5 -2.6M198 586.1l0.1 -1.1M137.5 575l0.9 0.3M131.8 590.8l2.5 0.6M222.6 582.5l2.7 -0.4M168.2 580.3l1.2 -0.7M206.1 560.5l2.2 -0.7M164.8 551l2 -1M135 551.4l0.5 -1.6M177.9 580.6l1.4 2.4M232.8 553.8l0 -0.8M146.7 570.2l0.8 2.8M231.3 584.6l0.8 2.3M231.9 562.3l2.3 1.5M182 562.5l0.5 -1.9M147.4 555.6l2.6 -0.7M193.4 569.2l1.9 2.2M170.7 551.4l2 1.3M198.7 559.5l0.6 -1.4" stroke="#ea98d4" stroke-width="1.6" stroke-linecap="round" fill="none"/>
<polygon points="187,577 195,576 199,580 201,588 198,591 193,588 190,584 186,581" fill="#d4c6ca" stroke="#e2bcd8" stroke-width="1"/>
<circle cx="174" cy="581" r="8" fill="#5e2a84" fill-opacity="0.5"/>
<path d="M172.4 588.8h0.4M180.1 581.5h0.4M171 581.7h0.4M177.1 587.3h0.4M172.4 578.4h0.4M168.2 580.7h0.4M177.9 579.4h0.4M175.4 580.8h0.4M171 588.1h0.4M177.8 586.4h0.4M172.3 588.6h0.4M172.1 582.2h0.4M176.7 576.4h0.4M179.3 585.5h0.4M177.3 586.6h0.4M175 581.2h0.4M175.1 576.9h0.4M171.1 574.1h0.4M166.4 580.9h0.4M169.4 574.7h0.4M168.2 584.7h0.4M169.8 584.9h0.4M172.4 578.5h0.4M166.8 577.9h0.4M177.7 587h0.4M173.7 578.2h0.4M172.2 586.2h0.4M169.9 583.9h0.4" stroke="#2c1650" stroke-width="1.5" stroke-linecap="round"/>
<path d="M170.2 576.7h0.3M170.3 575.7h0.3M168 583.6h0.3M178.9 577h0.3M176.9 580h0.3M176.4 585h0.3M176.9 587.1h0.3M168 585.6h0.3M170.6 587h0.3M181.6 578.9h0.3M174.6 587.4h0.3M176.9 577.1h0.3M178.3 584.2h0.3M173.2 573.7h0.3M180.6 584.7h0.3M179.2 577.6h0.3" stroke="#d0a8e0" stroke-width="1.1" stroke-linecap="round"/>
<circle cx="189" cy="559" r="8" fill="#5e2a84" fill-opacity="0.5"/>
<path d="M194.2 558.8h0.4M190.6 563.9h0.4M195.6 560.1h0.4M184.6 561.3h0.4M189.8 566h0.4M189.8 559.7h0.4M189.3 565.4h0.4M192.9 564h0.4M185 555.8h0.4M196.4 558.6h0.4M182.8 559h0.4M189.6 562.6h0.4M196.6 560.9h0.4M191.3 556.7h0.4M190.6 565h0.4M192.5 561.1h0.4M193.4 565.6h0.4M185.5 553.7h0.4M196.1 560h0.4M189.6 561.6h0.4M186 562.3h0.4M190 559.7h0.4M192.3 552.2h0.4M184.6 552.8h0.4M185.9 554.3h0.4M185.4 556.5h0.4M192.6 562.3h0.4M191.2 560h0.4" stroke="#2c1650" stroke-width="1.5" stroke-linecap="round"/>
<path d="M182.3 560.1h0.3M184.6 563.3h0.3M191.4 560.2h0.3M188 566.9h0.3M184.9 560h0.3M186.4 565.2h0.3M186.2 562.4h0.3M186.2 556.6h0.3M185.2 562.1h0.3M185.3 553.2h0.3M194.9 559.3h0.3M189.3 557.4h0.3M186.6 556.3h0.3M187.9 563.4h0.3M188.2 554h0.3M193.6 556.7h0.3" stroke="#d0a8e0" stroke-width="1.1" stroke-linecap="round"/>
<polygon points="157.8,552.5 160,548.3 164.2,551.7 161,551.1" fill="#f8c818" stroke="#fad030" stroke-width="1.3" stroke-linejoin="round"/>
<polygon points="147.3,575.5 149.5,571.3 153.7,574.7 150.5,574.1" fill="#f8c818" stroke="#fad030" stroke-width="1.3" stroke-linejoin="round"/>
</g></g></g></svg></body></html>
